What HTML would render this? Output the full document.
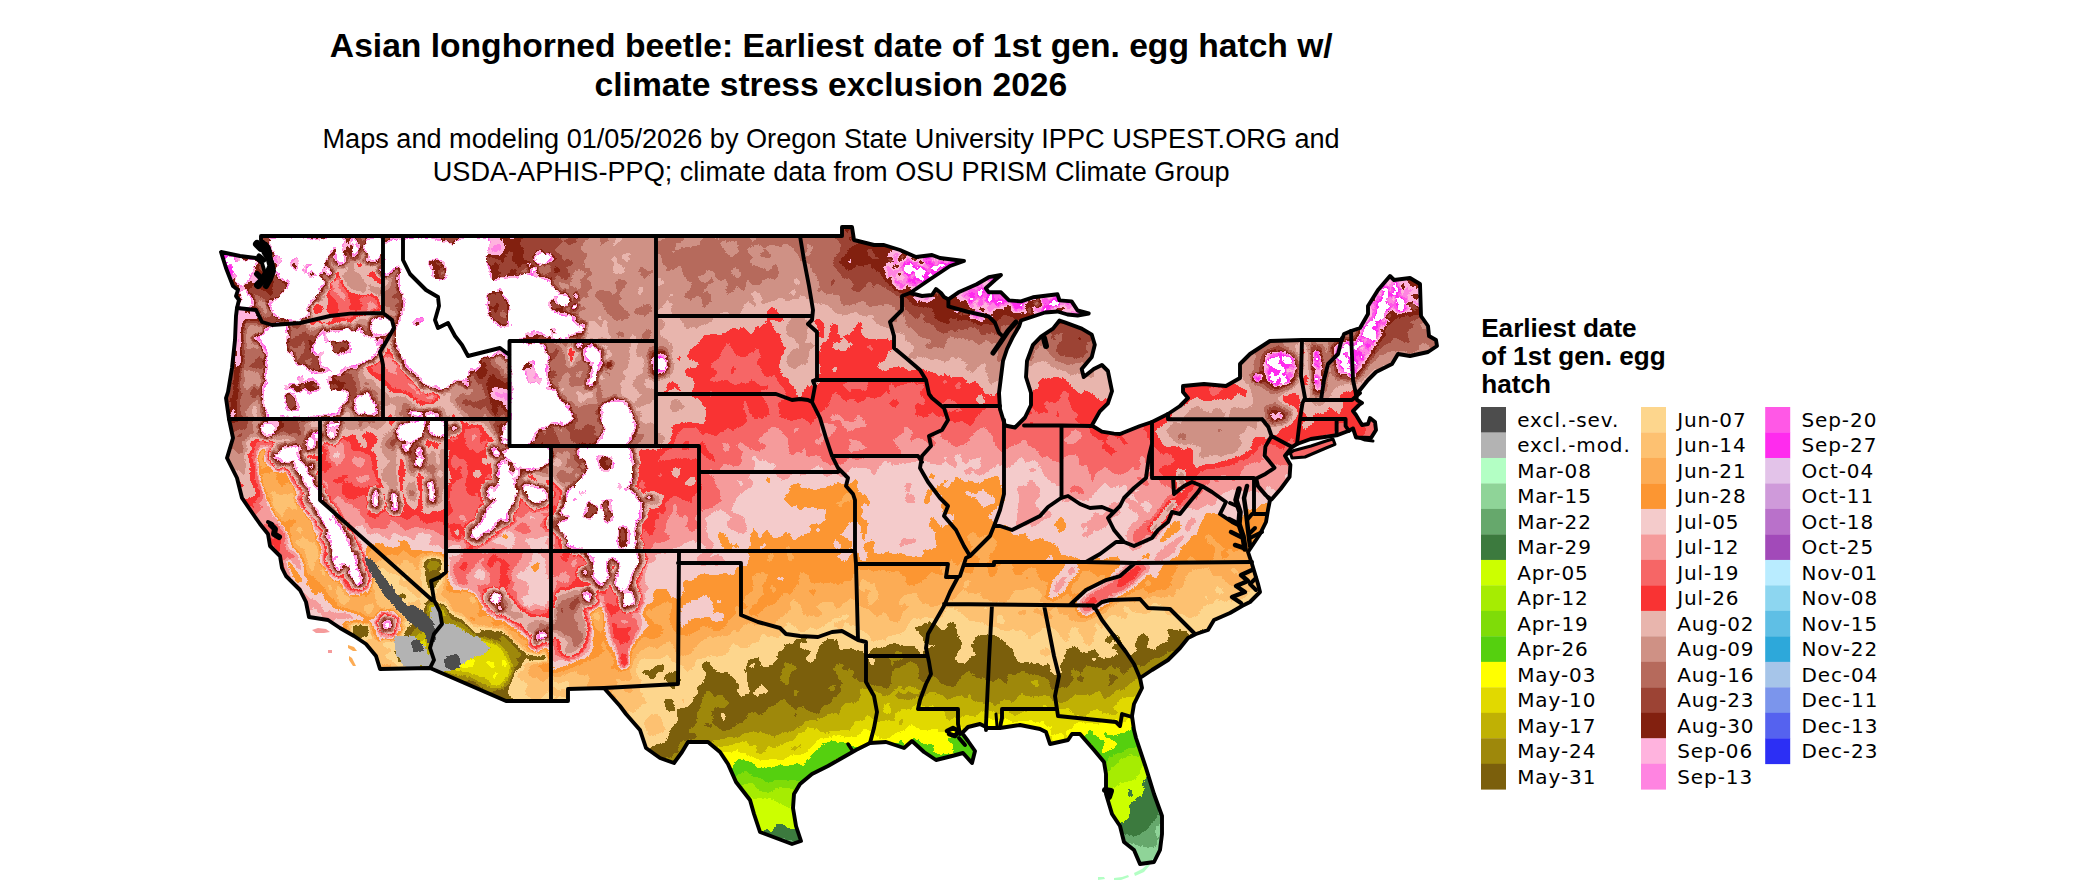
<!DOCTYPE html>
<html><head><meta charset="utf-8"><title>Asian longhorned beetle: Earliest date of 1st gen. egg hatch</title>
<style>
html,body{margin:0;padding:0;background:#fff;}
body{width:2100px;height:892px;overflow:hidden;position:relative;font-family:"Liberation Sans",sans-serif;}
svg{position:absolute;left:0;top:0;}
.t{font-family:"Liberation Sans",sans-serif;font-weight:bold;font-size:33.62px;fill:#000;text-anchor:middle;}
.s{font-family:"Liberation Sans",sans-serif;font-size:27.11px;fill:#000;text-anchor:middle;}
.lt{font-family:"Liberation Sans",sans-serif;font-weight:bold;font-size:26.15px;fill:#000;}
.lg text{font-family:"DejaVu Sans",sans-serif;font-size:20.0px;letter-spacing:0.92px;fill:#000;}
.b path{fill:none;stroke:#000;stroke-linejoin:round;stroke-linecap:round;}
</style></head><body>
<svg width="2100" height="892" viewBox="0 0 2100 892">
<defs><filter id="rough" x="0" y="0" width="100%" height="100%" filterUnits="userSpaceOnUse" color-interpolation-filters="sRGB"><feTurbulence type="fractalNoise" baseFrequency="0.45" numOctaves="2" seed="3" result="n"/><feDisplacementMap in="SourceGraphic" in2="n" scale="3.2" xChannelSelector="R" yChannelSelector="G"/></filter><clipPath id="us"><path d="M261,236 L842,236 L842,227 L852,227 L854,240 L874,245 L884,245 L900,250 L916,257 L932,255 L940,258 L964,261 L950,266 L932,278 L910,293 L922,296 L932,295 L936,289 L941,293 L944,297 L948.4,299.4 L958.5,292.3 L976.7,284.2 L988.8,277.2 L1001,275 L995,280 L985.8,288.3 L988.8,292.3 L1001,292.3 L1009,300.4 L1021,301.4 L1033,297.3 L1057.5,294.3 L1059.5,300.4 L1071.6,301.4 L1077.6,310.5 L1088.7,313.5 L1077.6,315.5 L1067.5,314.5 L1057.5,311.5 L1045,312.5 L1033,316.5 L1021,320.5 L1019,326.6 L1013,336.7 L1007,349 L1003,361 L1001,377 L999,393 L1000,409 L1005,425.5 L1015,427.5 L1025,417.5 L1031,405 L1031,393 L1026,377 L1027,361 L1033,344.8 L1041,336.7 L1053,328.6 L1059.5,320.5 L1065.5,322.6 L1081.7,328.6 L1091.8,334.7 L1094.8,344.8 L1091.8,356.9 L1081.7,369 L1083.7,377 L1093.8,369 L1101.9,365 L1107.9,371 L1112,391.2 L1107.9,403.3 L1099.8,411.4 L1091.8,425.5 L1101.9,431.6 L1114,433.6 L1120,434 L1140,426 L1152,422 L1168,414 L1180,406 L1188,398 L1183,392 L1183,386 L1204,384 L1226,386 L1240,378 L1240,364 L1250,354 L1270,341 L1302,340 L1342,340 L1344,334 L1351,331 L1360,328 L1368,314 L1368,306 L1378,290 L1390,276 L1394,280 L1410,278 L1420,284 L1421,316 L1428,326 L1429,336 L1436,340 L1437,346 L1428,352 L1410,356 L1398,354 L1392,364 L1376,372 L1368,380 L1360,390 L1356,394 L1357,400 L1362,403 L1359,405 L1356,408 L1353,411 L1356,415 L1362,425 L1368,424 L1370,418 L1375,422 L1376,430 L1371,438 L1356,437.5 L1353,428.4 L1347,431.5 L1336.6,435.3 L1310.8,439 L1297,444 L1292,447 L1285,455.7 L1290.4,464.8 L1289.6,476.9 L1280.6,489 L1271.5,499.6 L1265.4,495 L1257.8,486 L1256.3,479 L1258,486 L1270,500 L1268,510 L1266,522 L1260,534 L1252,546 L1248,552 L1252,564 L1258,584 L1260,592 L1250,602 L1242,606 L1230,613 L1214,620 L1208,630 L1196,634 L1188,638 L1180,648 L1168,660 L1152,670 L1140,678 L1142,688 L1134,704 L1132,716 L1134,730 L1136,738 L1146,768 L1154,794 L1162,816 L1162,834 L1160,850 L1154,862 L1140,864 L1134,850 L1124,842 L1120,826 L1112,814 L1106,794 L1106,774 L1104,762 L1094,750 L1080,734 L1072,734 L1068,740 L1050,744 L1046,732 L1040,729 L1020,725 L1000,728 L988,728 L980,724 L968,727 L962,733 L968,741 L975,751 L972,763 L963,753 L952,756 L936,760 L924,752 L912,741 L904,748 L886,742 L870,743 L856,750 L842,758 L828,766 L812,774 L800,784 L794,794 L793,808 L796,826 L801,841 L792,844 L776,838 L760,832 L754,814 L750,800 L736,782 L728,764 L720,752 L708,742 L688,742 L682,752 L674,763 L660,758 L646,748 L640,730 L626,714 L620,706 L604,688 L568,689 L568,701 L506,701 L430,668 L380,669 L376,656 L366,644 L354,636 L340,628 L328,620 L309,617 L306,602 L300,590 L286,576 L282,568 L280,556 L270,546 L268,534 L260,524 L253,514 L242,498 L237,478 L227,458 L233,438 L229,419 L226,398 L228,392 L232,368 L235,340 L236,316 L237,308 L239,300 L236,296 L238,290 L233,286 L226,268 L221,252 L240,256 L256,258 L262,263 L267,280 L272,270 L270,255 L266,245 L261,240Z M1290,452 L1294,450.5 L1311,446 L1326,441 L1333,439 L1335,444.3 L1326,448 L1305,457 L1292,458Z"/></clipPath></defs>
<text class="t" x="831.3" y="57.2">Asian longhorned beetle: Earliest date of 1st gen. egg hatch w/</text>
<text class="t" x="830.9" y="95.8">climate stress exclusion 2026</text>
<text class="s" x="831.1" y="147.7">Maps and modeling 01/05/2026 by Oregon State University IPPC USPEST.ORG and</text>
<text class="s" x="831.2" y="181">USDA-APHIS-PPQ; climate data from OSU PRISM Climate Group</text>
<g clip-path="url(#us)"><g filter="url(#rough)" shape-rendering="crispEdges">
<rect x="200" y="215" width="1260" height="677" fill="#b3ffc4"/>
<path fill="#8fd498" d="M213 221l1236 0 0 666-3 2-54 0 1-5 2-1 4 1 1-1-1-2-2-2-4 1-10-3-3 2-3 4 0 4 1 2-21 0 1-4-2-6 2-4-1-4-2-1-4-1-2-2-6 3-12 0-4-3-4-1-6 2-4-1-2 1-4 5 1 2 9 3 6 5 1 4 4 2-116 0 1-10 4-8-2-6 1-8-2-4-5-3-14-2-6-5-4 0-4-5-4-2-2 1-4 6-6 2-2 4-1 2 1 6-6 6 3 8 3 0 4-2 4 4 2-1 4-8 8-4 4 0 8 6 4 0 2 1 0 2-1 2-10 8-2 4 1 3 6-1 5 4-25 0 0-2 3-4 0-8 3-4-2 0-6 3-4 0-4 11 0 4-956 0 0-668zM1407 843l-2 4 0 2 2 2 2 0 3-8-3-2zM1118 847l1 6-1 4 1 1 2 0 3-1 1-2-3-4 2-4-3-2zM1247 861l2 7 2-1 3-4-1-2-2-1zM1285 863l-4 14 2 2 4 1 6 1 4 3 8-2 1-7-1-1-2-1-12 1-2-3 0-4-2-4zM1124 869l-2 10 1 2 2 1 2-1 4-4 4-1 3-5-1-2-2-1-8-1-2 1zM1219 871l-1 2 0 6 3 3 3-1 5-6-4-5-2-1zM1099 877l-2 2-1 0 3 1 1-1 0-2zM1147 881l-1 2 2 2 5 1 1-1 1-2-2-2-4-1zM1329 873l2 0 2 2 0 4-4 0-1 2-3 1-1-1 1-2 4-2z"/>
<path fill="#66a86c" d="M213 221l1236 0 0 579-5 3-3 4-4 1-2 0-2-3-2-1-12 2-4 0-12 6-4 0-6-4-4 1-3 4-1 12 2 6 9 4 1 2-2 4-4 4 0 2 2 4-2 2-4-1-4 1-3-4-1-2 1-2 6-6-3-4-3-2-2-4-5-1-6 3-2-1 0-3 2-2-1-2 3-1 2-2 0-3-10-10-2 0-4 0-6 4-4 1-1 3 1 4-2 8-2 2-2-5-4 3-11 0 0 2 7 5 4-4 2-1 3 2-1 2-2 2-4 1-4 5-3 2-1 8-7 4-9 6-8 2-2 0-2-2 0-4-4-2-8-1-8 1-4-2-1 0 0 2-1 2-2 1-8-4-14 0-10-2-2-1-1-2 9-7 2-3 2-1 6 3 1-2 2-6 3-2 4 1 8 2 6-2 4 0 2 3 0 4 2 0 1-4 9-11 4 0 4 3 6-2 2-2 0-8 3-4 0-2-3-1-8 1-12-2-26 5-4 3-6 0-2 3-6 3-2 4-6-2-4 2-2 2 1 4-2 2-13 1-2-2-4-2-2 2-2 4-8 1-2 0-4-8-6 0-6-4-12 3-4-5-4 2-4-1-3 3-1 6 3 6-1 5-2 2-6 2-20-5-8-4-10 4-12 3-4 4-2 1-6-1-4 1-6-3-4-2-8 3-4-2-10 0-4 2-3 4 1 2 6 4 6-1 4 1 6-2 12 5 10 1 6 1 10-1 8 4 2 4-2 3-2-3-2-1-6 0-6-1-8 6-11 14-867 0 0-668zM1324 813l1 1 4-1-2-2zM1185 821l0 3 2-1 1-2-1-1zM905 843l-1 2 1 1 4-1 1-2-3-1zM1023 849l-7 4 13 3 4-1 2-2-1-2-5-3zM1433 811l2-2 4 3 6-2 4 0 0 7-3 2-2 6-2 2-1 2 2 3 2 1 2-4 2 0 0 8-2 0-8-4-1-8-3-3-4 1-3 2 1 10-2 1-8 1-4-5-4 0-3-1-1-2 1-4 2-4 5-3 6 2 2 0 4-3 5-2zM1361 814l4 7-2 1-2 1-2-2zM1351 848l2 1 2 4-2 1-4-5zM1419 852l2 1 2 4 1 6 5 2 8-4 2 2 1 2-1 4 1 12-1 8-13 0-3-5-10-7 0-4 4-9 6-3-2-1-4 2-2-2 0-4zM1381 854l2 1 0 2-5 14-9 3-4-1-2-1-3-7 1-5 8 1 4 1 4 0zM1401 867l2-1 4 0 2 5 0 2-4 2-2 0-3-4zM1111 879l2 0-3 6 4 4-7 0 0-2 3-4zM1251 880l7 1 0 2-3 4-4 2-15 0 3-3 8-3zM1225 887l2 0 3 2-9 0z"/>
<path fill="#3c7a3e" d="M213 221l1236 0 0 576-12 0-4-3-12 0-4 5-3 2-5 1-6 0-2-1-2-4 3-4 0-4-3-6-2-1-4 2-4 5 0 4-2 8-2 0-4-3-2 0-3 1-5 6-2 0-3-4 1-6-8-1-8-4-3 1 0 2 1 4 6 4-2 3-6 1-14-6-3-4 3-8 5-4 0-4 2-6-7 0-10 4-6-2-6 1-12-2-4 1-4-1-4 2-5 5-1 2 0 8-2 2-6 1-4 3-6-3-6 3-5-4 0-4-7 0-4-3-10 5-4 3-6 1-2 1-6 9-3 2 1 4-2 1-4 1-4-1-4 1-8-2-12 8-4-2-2-2-2-8-4 3-6 0-2 7-8 10-4 4-10 6-4-2-6-1-22 3-8-2-6 2-2 3-4 0-4-1-2-4-4-2-2 0-8 5-12-6-3 1-3 6-4 4-6 1-7-3-3-5-2-2-4-1-9 6-5-2-2 0-2 2-2 1-4-2-4 2-4-11-4-2-4 2-6 11-2 0-4-5-2 0-4 6-2 1-4-3-4 0-2-8-4 0-2-2-1 2 0 4-9 5-2 0-2-2-6-1-2-1-6 1-4-1-1-1 0-4-2-2-5-1-3 1-1 2 2 8-1 2-3 5-3 1-1 2 0 2 2 1 22-5 18 3 10-3 4 2 14 1 12-3 2 0 1-4 3-2 3 0 2 2-1 2-6 2-2 2 3 2 11 3 8-2 14 6 30 2 10 5 2 2 4 1 3 5 1 4-4 12-37 0-1-4-6 0-3-2 1-4-10 5-4 5-73 0-3-3-4 1-6-4-2 6-20 0-2-3-5-5-2-4-3-2-6 1-3 5-5 3-5 5-89 0-2-1-1 1-557 0 0-668zM1171 795l-1 2 1 8 2 1 12-5 7 4 1 3 6 2 2 0 6-5 0-4-2-2-8 1-6-3-8 2-8-5zM962 819l0 2 1 1 2 0 2-1-2-2zM861 831l0 2 2 6 1 6 3 6 0 4 3 4 3 9 2-3 0-2-3-4 1-2 0-6 5-6 0-2-12-12-3-1zM781 839l-5 6 1 6 3 4 0 4 1 2 7 2 4 6 1 4-2 4 6 0 4 2 3 0 7-8-1-8 1-4 0-2-2-1-6 5-2 3-4 2-6-7 2-5 4 0 4-3 4 0-3-2 0-2 7-4-2-2-2-1-4 3-4 0-6-3zM831 851l-4 4-1 4 2 4 3 4-1 12 1 5 2 2 2 0 4-3 6-14-7-10 0-4zM906 867l0 2 5 3 1-1 0-2-1-2-4-2zM782 879l-1 2 2 1 4-1 1-2-3-1zM1311 783l2 2-2 4-1-4zM1239 809l2 2-2 1-2-1zM1263 838l4 2 1 1-1 2-2 0-2-1zM1305 848l2 1 1 2-1 1-3-1zM1067 864l6 1 2 2 0 4-2 2-4 1-2-1-2-6z"/>
<path fill="#ccff00" d="M213 221l1236 0 0 575-26-7-14-5-4-3-13-4-13-2-12-6-16-4-20 0-4 1-4 3-4 0-1-4 5-4-2-3-5-5-7 1-6 4-4 1-5-4 1-4-1-2-3-2-5-2-11-1-5 1-1 2 1 2 7 2 1 2-2 4 0 4 5 4 0 2-2 10-2 3-10 2-6-1-6-3-2 0-6 4 1-5 3-3 8-3 6 3 6-5 1-4-1-1-4-1-6-4-10 2-4-1-2 1 0 6-2 2-4 1-10-15-2 0-6 2-6 4 2 2 4 0 2 2 0 10-2 4 0 2 4 4-2 1-2-1-6-4-4-4-4 0-2 2 0 2 2 4 8 2 0 4-4 4-7 0-12-4-2-2-1-8 0-4-2-2-3 2-1 5-12 5-8-1-6-9-2-2-6-1-7 9 2 6-1 5-2 2-3 1-9 8 1 8-1 4-4 4-2 1-4 0-4 5-20-1-8-4-6-1-4-6-4 0-6-1-4-4-2 1-6-1-10 4-6-1-6 0-8 3-6-3-12 0-3 2 1 6-2 2-7 4-3 0-12-10-3-6-1-6-2-2-8 0-4 2-4 8-6 5-6-1-10-3-4-5-4-2-2 0-7 10-3 3-4-1-4-5-6-1-4 2-2 7-22 3-2 0-7-6 0-4 4-4 0-2-3-4-2 0-4 2-3 8-7 4-4 5-2 0-10-4-6 7-8-3-10 11-12-5-12-2-4-4-6 0-3 3-1 4-2 1-4-3-4 2 0 4 4 4 1 6 4 8-2 6-3 2-4 1-4 4-4 0-8-3-4-3-8 0-6-1-1 2 2 4 0 4-6 8 0 6-3 2-4-5-6 0-4-3-6 2-7-2 1-6-2-1-2-5 2-4 3 2 1 2-1 4 1 0 2-1 4 2 2-1 4-5 4 2 2-1-2-3-4-1 0-2 2-4-1-4-3-3-5 1-3 2-2 7-4 1-4-1-2 1-1 2-2 6 3 4 0 4-2 2-5 0 1 12-21 0-1-7-2-1-10 8-436 0 0-668zM1255 745l-1 2 5 3 3-1 1-2-3-2zM1129 789l-1 6 1 2 2 0 2-2-2-6zM743 835l-6 4-2 1-4-2-2 1-2 4 1 2-3-1-3 1-1 4 1 2 3 2 3-2 1-5 6-1 6 4 2 0 6-7 6 2 4-3 1-4-3-3-12 0zM755 851l0 4 2 2 3-2 0-4-3-2zM669 867l0 2 2 1 2-1 1-2-3-1zM1229 769l3 2-1 2-2 0-1-2zM1061 815l4 2 1 2 1 5-2 0-4-3-2-4zM909 850l4-1 22 3 34 0 22 4 8-1 6 1 6 5 7 0 12 4-7 3-4 3-8 1-6 3-6 7-4 7-66 0-2-4-6-6-8-14-7-8 0-4zM741 864l1 1-1 4 4 7 10 0 4 2 0 5-4 4 0 2-26 0-3-4 0-2 5-4 2-8 5-2 1-4zM1045 872l8 5 2 4-2 3-12 3-2-1 0-7 2-4zM815 882l6 0 2 3 0 4-17 0 1-2 1-2zM711 887l6 0 2 2-10 0z"/>
<path fill="#a6ec02" d="M213 221l1236 0 0 574-10-3-74-25-26-7-22-9-16-3-17-5-11-1-6 0-12-2-4 1-8 6-8 2-4-2 0-4 0-2 7-4-1-2-4-2-4-1-2 1-2 2 0 4-2 2-2 6-11 14-2 4 0 4-5 5-2 1-4-5-6 0-8-4-2 1-2 4-2 2-10 2-3-2-2-4 0-4-3-4-10 2-8 5-1 1 0 4-5 7-14 3-6 4-14 5-2 3-4 1-2 3-4 2-1 0 0-2 4-6-3-6-2-1-6 2-4 4-3 1-1 4-4 1-3 3-5 1-2-1-2-4-6 0-3 2-1 5-2 0-3-5-3-1-6 1-6 3-5-5-2-6-3-1-2 0-2 5-1 10-1 2-2 1-5-1-2-2-1-2 0-6-4-3-14 4-8-2-14 1-4 2-14 2-6-1-8-4-4 1-6 5-2 1-4 0-4-2-6 4-4-2-10 4-14-6-4-3-8-4-2 0-14 9-4 1-10-3-2-8-2 0-14 10-4-1-12 10-1-1-1-8 4-2 0-2-2-1-2 2 0 3-6 2-2 2 0 2-2-2-14-7-10-2-4 0-4 1-4-1-2 1-2 6 4 5 2 5 1 8-1 2-6 2-4-2-2 0 0 2-2 3-6 2-4-1-2-4 0-2 6 1 3-1 2-2-13-9-4-1-8 6-2 6 6 3 2 4 3 3 0 2-1 2-4 1-6-4-4 1-2 3-6-2-2 0-8 6-8 3-14 16-4 8-18 18-434 0 0-668zM1101 816l2-1 3 4-3 2-2-1zM911 851l22 2 36 0 22 4 10-1 5 3 1 4-14 26-62 0-2-4-20-28-1-4z"/>
<path fill="#7fdc08" d="M213 221l1236 0 0 573-62-21-48-15-24-9-36-8-12-1-12-2-6 0-14-7-8-1-6 3-2 5-4 3 0 4-4 7-6 8-2 1 0-4-6-1-10-4-5 1-5 8-4 1-4-3-4-1-4-5-4-1-4 1-4 4-2 0-4-1-6 0-6-1-10 4-12 13-8-4-2 0-3 3-9 5-8-2-2 1-2 0-4 5-4 0-2 1-4 4-12 3-2 1-8-3-8-8-6-3-6 2-6 4-6-1-4 2-4-1-2 2 0 4-6 2-6 4-2-1-12-5-10-2-4 0-8 6-4 0-2 3-3-1-1-1-6-1-4-3-8-1-2 0-4 4-2 1-4-2-10-5-4 0-4 3-14 2-14-2-6-2-4 4-2 0-2-2-10-1-6-5-12 6-8 1-6 3-4-2-10-1-12-2-4 1-8 5-10-2-2-2-4-6-4 0-6 2-6 10-1 6 1 4-2 2 2 6-2 1-3-3 1-4-2-1-2 0-6 2-8 0-2-1-7-6-7-2-2 1 0 10 2 6 8-1 1 2-1 4-4 3-6 2-18 17-12 17-7 11-16 18-433 0 0-668zM999 775l0 3 2 0 1-3-1-1zM911 853l10 0 12 1 22 0 6 1 8 0 22 3 10 0 3 1 1 2-13 28-60 0-2-6-19-26-1-2z"/>
<path fill="#55d00f" d="M213 221l1236 0 0 572-108-35-26-10-36-8-12-1-18-3-27-11-1-7-5-5-3-1-6 6-1 3 1 4-3 4-3 1-6-1-6 2-3 4 0 6-1 2-7-2-5 0-4-2-10 7-5-1-5-4-6 1-6 5-12 2-4 4-10 3-2 1-2 5-2 1-10-5-10 5-8 1-4 3-5-2-3-3-8 3-4-2-1 2 1 1 3 1-1 6-6 0-6 2-6 0-6-8-8-5-14-5-2 0-3 2-1 4-2 2-2 0-6-5-8 1-10-3-3 1-1 4-4 2-1 2 0 2 3 2-1 6-3 2-10-2-3-6-3 0-4 1-4-2-5 5-5 1-6 2-4-5-2 0-4 3-2 5-2 1-6-4 1-7-2-6-3-2-6 2-4 13-8 3-2-2 2-4 0-3-2 0-4 2-6 1-8-2 1-8 3-4 6 3 4-3 0-4-1-2-7-2-4 1-4 5-3 8-3 3-6 0-4 3-10 2-6-3-8 0 2 7 0 2-2 1-2-2-2-4-2-1-4 1-4 4-6 2-6-2-18 0-10 3-6-5-7-1-5-4-4-2-14 8-2 6 2 6-2 0-2-2-2 2 1 6-1 4-2 2-8 0-8-6-6-3-10 0-6 1 1 2 7 6 2 4-1 8-4 12-23 30-7 12-18 20-431 0 0-668zM1158 721l0 4 1 1 7 1 1-2-3-4-5-2zM973 766l3 1 0 2-1 2-2 0-2-2 0-2zM913 855l8-1 12 2 22-1 6 1 14 1 14 4 10-2 4 2 0 2-5 8-8 18-56 0-2-8-7-7-12-17z"/>
<path fill="#ffff00" d="M213 221l1236 0 0 571-110-36-24-9-36-8-12-1-16-3-20-8-3-4 5-18-4-11-4-4-2-1-6 10-6 1-6 0-6 5 0 2 4 4 0 2-8 2 0 4-2 2-4 1-1-1-1-3-5 7-3 2-2 0-3-4 0-10-3-4-2 0-8 3-10 2-4 5-6-3-2 1-4 9-6 4-10 5-10 0-4-3-1 1 1 4 2 2 2-1 8 5 0 2-2 1-2 3-10 4-1-2 3-10-6-2-8-9-2 0-3 5-4 2-1 2 2 3 6 1 4 4-1 4-3 2-14 0-4 2-10-4-2 0-2 2-4 0-6 2-4 0-6-2-2-4-6-2-4 4 1 4-1 1-16-5-10 4-4-3-6 1-5-4-7-3-5 3 0-4 2-6-1-2-4-3-8-2-13 7 1 4 2 0 2 2 0 8 2 1 1 3-1 2-2 0-2-5-16 0-1-5 0-4-3-1-6 1-10-7-2 1 1 6-1 4-4 2-4-2-1-6-3-2-8 2-12 5-10-2-4-2-3 3-3 1-10-2-2-3-18-2-10 4-9 10-1 3-6 4-1 3-1 1-6-3-4 2-8 1-4-1-8 2-16 0-6-5-12-3-3 2-4 8-8 4-1 2-12 1-1 1-2 8-3 5-6 0-12 0-6-4-10-5-12-2-8-3-4 0 1 3 7 3 9 7 15 7 12 8 2 5-1 6-4 10-6 10-16 22-9 14-13 14-3 4-430 0 0-668zM430 691l0 10 3 2 4 0 6-4 0-2-4-4-6-2zM613 761l0 2 2 2 8 3 8 5 10 3 4-1-1-2-5-7-4-1-8 0-2 0-4-4-2-1zM835 759l4-1 3 1 2 2-1 4-2 1-7-1-1-2 0-2zM1043 760l2 3-2 4-2-2-1-2zM955 857l6 1 16 1 5 2 1 2-6 8-4 2-8 0-10-1-4 2-2 0-6-6-2-1-4 0 2 6-1 2-3 0-8-4-7-12 3-1 18 2zM949 876l2 1 4 4 1 8-18 0-1-4 2-4 4-3z"/>
<path fill="#e1d900" d="M213 221l1236 0 0 571-110-37-24-9-36-8-12-1-16-4-18-7-2-3 1-4 5-10 3-10 3-4 8-18 0-7-2-1-4-1-2 0-10 7-10 0-6 2-8 10-15 6 0 4-5 1-8 5-4 0-6-2-10 6-6 0-4-2-12 4-4 5-7 5-3 3-4 0-6-3-18 5-16-2-4 0-4 6-7 3 1 8 0 1-2 1-1-2 0-4-3-2-4 0-4 2-2 0 0-8-2-1-2 1-2-4-2-2-8 2-4-3-6 1-4-1-6 3-10-5-6 2-6 0-6-3-2 0-1 2 1 6 3 4 1 8 6 1 4 3 0 2-4 2-4-1-4-3 0-4-6-7-8-1-4-3-6 2-4-3-6 1-6 6-4 0-10-3-4 1-8 0-8-5-4 1-6 5-6 1-8 6-4 1-6 0-6-7-4-2-4-1-3 2-5 6-10 0-8-2-12 3-8 0-7 9-7 6-6 2-8 0-8 5-12-1-10 2-10-5-10-3-4-3-6 2-14 0-2 3 1 6-5 7-4 2-4-2-2 0-2 3-1 2 4 6 1 4-2 2-4 2-40-15-16-11-13 0-5-4-6-2-6 0-8-4-6 1-3 1 0 2 6 4 27 14 28 11 8 6 16 8 11 7 1 2-1 10-9 18-17 22-9 15-12 12-3 5-429 0 0-668zM450 655l-6 8 3 3 18 2 6-1 4-4-1-4-9-1-2-5-4 2-6-2zM487 661l-1 2 4 4 3 1 2-2-1-3-1-1zM502 661l-1 2 1 2 2 2 2 0 1-2 0-2-2-3zM494 673l-1 4 0 1 2 1 2-6-2-1zM410 683l5 14 4 4-2 4 1 2 1 2 6 4 6-1 4 2 7-9 5-3 3-3-1-3-10-6-22-8-6 0zM422 719l-1 2 1 2-1 2-4 1-1 1 0 2 5 8 2 0 4-3 3-7-5-8zM1049 736l2 0 1 3 0 2-3 1-2-1-1-2z"/>
<path fill="#c0b104" d="M213 221l1236 0 0 570-108-36-26-10-36-8-12-1-14-3-20-8-1-2 1-3 5-9 3-8 13-24 2-8 3-6 2-10-2-3-4-1-4 3-4-2-2 0-7 3-1 2 0 4-1 2-9 7-8 1-8 1-4 7-12 4-8 0-2-1-3-3-1-8-4-3-4 1-1 8 1 4-1 2-7 3-1 5-3 3-4 2-8-4-6 2-4 0-4 2-12 2-10 9 0 2 4 2 1 2-3 2-12-2-6-4-6 2-4 5-8 1-6-3-4-6-14 2-4 0-6-5-8 5-14 2-8 4-8-5-2 0-6 3-12-4-6 2-6 5-8-2-18 5-2-1-2-2 0-4-2-2-7-2-3-4-6 2-10-3-2 1-4 5-8-1-6 3-2 3 0 4-2 2-4-1-12 2-10-7-4 6-4-1-4 1-3 6-3 3-18 1-3 2-3 0-12-5-6 0-4 5-4 0-6 8-6 1-12 6-2 0-4-2-2 1-1 4-5 3-5-1 1-4 0-2-2-2-4 1-2 0-2-5-26 6-10 0-2 2-2 8-2 1-8-1-5 4-4 6 1 8-2 3-8-1-6-3-16-6-7-5-9-5-12-1-22-12-2-1-6 0-4-4-10 0-7 5 0 2 5 4 44 24 28 11 6 5 13 6 9 7 6 3 1 4-1 6-10 18-17 20-3 8-6 9-10 8-5 9-427 0 0-668zM455 631l-2 2 1 6-2 6-11 16 0 6 4 2 22 3 10 3 4 2 4 0 5 6 5 2 4 0 3-2 3-3 4-8 1-5-1-4-8-15-4-3-6-1-1-1-7-2-10 0-6-2-6 2-2-2 2-4 0-2-2-2zM422 641l-5 4-3 6 3 6 4 2 4 0 2-2 0-4-2-14zM407 679l4 16 3 14-2 16 3 14-2 8 0 14 4-6 5-12 11-14 3-8 9-14 6-6 1-4 0-2-3-2-24-10-16-5zM886 703l-2 2-1 6 2 3 6-1 0-4-2-6zM557 729l-4 2-4-2-2 0-2 2 2 2 14 8 4 1 3-1 1-4-4-6-4-2zM491 647l-1 2-3 1 0-2zM901 719l2 2 0 2-2 2-2 0-1-2zM801 743l0 5-2-1-5 4-4-2 5-3 2 1z"/>
<path fill="#9e880b" d="M213 221l1236 0 0 569-105-35-29-11-38-10-10 0-8-2-7-1-17-7-1-3 6-10 3-8 13-24 11-32 0-4-6-6 1-4-1-3-8 3 0 2-2 2-5 2-2 2 0 4-3 2-4-2 1-4-3-2-2 1-4 4-6 0-2 1-1 2 0 12-5 2-6 4-9 8-9 2-4-2-3-8 1-8-2-2-3 0-5 3-4-1-5 4-3 8-6 2-4 4-6 2-4 0-6 2-9 6-5 6-4-2-2 1-8 7-4 2-3-2-1-6-2 0-8 4-16 0-8 6-6 2-8-2-4-5-2-1-16 2-10-3-2 1-4 6-2 1-8-3-10 7-4-4-8 2-2-2-8-1-2-2 0-3-2-3-1 4-1 1-2 0-4-3-12 4-4-1-2-3-6-1-4-3-8 4-2 2-6 0-8 3-11-1-2-2-1-2 2-2 2-1 4 2 2 0 2-2 2-1 4 3 4 0 3-3-1-1-6-3-4-1-3 1-3 3-2-1 1-2-1-2-2 1-6 6-4 3-6 1-2-1-2-3-6-1-6-2-6 0-1 2 0 6-2 4-3 2-8 0-4 2-3 6-1 4-4-2-4 0-10 6-16 2-2 4-2 1-4 1-4 4-10 1-8 5-14-5-10 0-6 1-8 5-8-1-10 3-4 0-16 7-4-2-4 1-2 1-8 14 0 4 3 6-1 2-2 1-12-7-12-3-4-3-10-5-13-3-31-17-14-3-6 3-19-13-9 0-10 2-3-6-7-4-6-1-4-3-6 2 0 2 6 4 4 0 2 2 2 4 8 6 24 12 12 4 16 10 16 8 20 11 29 11 7 8 4 0 8 4 3 2 5 8 6 2 0 4-2 6-4 6-4 8-4 4-2 0-2-1-3-3-2-4-7-2-4-5-3 1-1 3 0 3 2 2 5 0 4 8-1 4-6 1-2 1 0 2 6 3 1 5-3 5-6 4-6-2-5 13 0 6-2 6-425 0 0-668zM430 605l-1 2 1 10-1 4 0 8-2 2-10 4-8 9 1 7 4 8 7 4 9 2 5 4 6 2 32 7 6 4 14 6 6 0 6-4 6-11 2-8-6-12-4-6-4-3-10-4-12-2-6-2-4-2-3-5-3-2-10-3-1 1-2 8-1 6-7-8 2-12 3-4-1-4-1-1-10-5zM405 677l0 4 5 14 2 14-2 12 2 32-2 10 1 2 2 1 2-2 5-9 4-10 11-16 3-6 8-14 6-6 3-8-4-3-32-13-12-3zM1031 681l2 4 2 2 2 0 2-2 0-3-2-2zM473 807l2 2 2-2-2-1zM477 813l-1 2 3 2 1-2 0-2-1-1zM673 817l-4 2-1 2 7 3 4-2 0-3-2-3zM646 855l-1 2 0 2 5-2 0-2-1-1zM433 649l2 0 6 4-1 2-3 1-4 4-2-7 0-2z"/>
<path fill="#7b5f0c" d="M213 221l1236 0 0 567-7-1-101-34-26-11-7-1-3-2-5 0-13-5-10-9-14-8-4-8-2 0 0 2 1 12-3 4-2 1-6-1-7-4-2-2 3 0 1-2 0-4 2-4 1-7 3-5 4-10 6-8 1-7 3-5 5-16 4-6 5-14 11-18 2-8 2-4-2-2-6 0-4 3-8-2-1 1-3 4-2 6-6 1-5 3-1 2 0 6-2 3-6 1-6-6-4 0-4 6-8 2-7 8-3 4-2 2-4-1-5 1 0 2 3 2 0 2 0 4-1 2-4 0-3-2-4-8-2-2-8-1-2 1-2 4-8 2-12 7-4 0-6 3-4 4-2 1-6-1-6 2-8 8-3-4-1-4-4 2-4-3-2 0-4 4-4-2-14-2-2 1-4 6-8-5-2 2 0 3 3 6-4 4-2 4-7 0-6 2-4 0-3-10-15-5-4 0-6-3-8 4-6-1-2 1 0 2 1 4-1 3-3-1-3-4-2-1-6 4-12-4-4 0-8-6-2 0-6 5-5 8-3 2-12-3-4-6-2-1-6 0-3 4-3 1-4-3 0-10-2-4-6-4-2 1-10 6-4 0-4 7 0 6-1 6-3 2-6-3-6 0-8-3-8-1-2-3-4-1-1-1 2-4 0-2-5-2-4 2-2-1 0-6-6 0-5 5 5 4 2 6 3 4-2 4 1 4-4 5-4 2-2 5-9 4-1 2-1 4-3 1-6-2-6-3-2-2-4 0-4 3-2-1-2-3-4-3-2-4-2 0-4 2-4 4-6 3-8 7-3 0-3-3-6 1-2 4-6 6-4 1-4 4-8 3-2 0-10-7-2 4-8-3 4-2 4 1 1-1 1-4-1-6 0-2 3-3 2 0 8 0 4-5-8-8-6 1-6-5-2 0-2 2-3 6-1 8-2 2-2 4-1 12-8 6 1 2 4 0 2 0 2 4-2 2-13 2-3 4-1 6-2 2-5 4-10 2-4 0-28-14-5 0-3-3-10-6-9-3-9-1-10-6-10 0-12-6-10-1-4 0-10-5-8-8-8-2-6 0-6-3-5 0-5-4-9-2-2-2 1-1 14-3 6-6 6-16 4-4-2-3-2-1 2 0 4-4-2-4-16-15-2 0-1 1 1 4-2 0-14-4-8-1-4-2-11-11-11-4-6-12-14-5-2 1-2 2 0 12-3 8-9 4-11 12-2 10 6 8 11 7 14 6 16 5 6 3 6 0 4 2 4-2 4 1 13 10-2 2-3 1-8-2-6 2-2 1 0 4 1 2 5 4 6 0 6 3 14 2 6 8 6 0 6 2 32 18 26 11 16 11 14 5 22 13 8 4 13 3 7 3 2 3 1 4-4 10-1 12-5 8-1 18-6 12-1 14-4 10 0 10-423 0 0-668zM431 561l-3 2-1 2 2 6 6-1 4-3 1-2-1-3-4-1zM896 651l-3 3-4 0-1 1 0 2 3 4 0 4 2 1 1-3-1-2 8-1 4-3 0-2-4-3zM784 663l0 4-3 6-1 6 3 4 4 2 2-2 1-8 3-4 4-2 0-2-4-2-8-3zM404 675l-1 4 5 16 2 12-1 16 1 30-1 12 2 3 4 1 2 0 1-2 4-10 3-10 8-12 6-7 2-2 5-1 2-2-4-2 0-4 17-24-2-4-2-2-6 2-4-1-28-11-12-3zM833 685l-4 2-1 2 3 2 3 0 1-2 0-4zM794 691l1 5 2 0 1-3-1-4-2 0zM492 723l-2 10 1 1 3 1 1-1 0-5 2-4 0-2-2-1zM1302 727l-1 2 1 2 3 1 1-1 1-2-1-2zM496 737l-3 3-6 2-5 9 0 2 1 1 4-3 12 1 1-1 1-2 1-10-3-3-2-1zM423 769l-4 2-4 8 0 3 15-5-1-4-2-3-2-1zM487 771l-4 1-2 3-4 0-1 2-1 6-1 2-7 1-6-1-8 6-2 4 1 8 6 4 1 8 2 5 2 2 4-4 2-1 2 2 0 2-2 2-3 0-1 1-4-1-2 3 0 5 2 4 2 2 4-2 1-8 1-1 4 0 8 2 6-5 1-10 6-8 0-6-3-7-2 1-2 4-2 1-4 0-2-3 4-7 6 0 2-1 1-6-4-2 0-2 3-4 0-2-2-1zM608 801l1 5 2 1 2 0 2-4-4-3zM422 811l-9 10-1 2 1 2 4 3 5-1 1-2 1-6 3-4-2-4-2-1zM488 833l-3 2-6 2 0 12-4 0-4 2-4 6-4 4-1 2 2 2 5 2 17-16 5-14-1-4-1-1zM568 837l1 2 2 0 1-2-3-2zM417 841l-1 6-3 4 0 6 1 2 7 2 2-1 4-4 5 1 1-4 4-2-6-6-4 1-8-5zM410 873l-1 2 2 4 3 0 2-4 0-2-3-1zM1081 675l3 2-1 5-4-1-3-2zM1109 674l4 0 5 3-7 9-2-1 1-4zM795 713l2 2-2 2-2-2z"/>
<path fill="#fdd68d" d="M213 221l1236 0 0 564-8 0-102-34-18-8-5-4 0-2 3-2 2-4-9-8 3-4-2-1-20 0-8-2-5-3 2-6 0-4-1-2-6-4-2-3-1-5 0-14-5-2-1-2-1-6 4-10 4-6 6-16 6-11 5-7 2-6 5-6 0-4-4-5-12 2-6-4-6 0-8 9-8 0-6 5-8 1-4 6 2 2-3 2-3 1-6-1-12 15-2 1-10-3-6 4-4-1-2 2-1-2-3-2-16-2-1 2 1 4-2 7-9 3-2 4-1 1-2 0-6-3 2-8-6-7-6 7-2 6 2 4-1 2-5 4-2 0-2-2-1-4-5-6-1-6-7-4-8 6-1 2 2 2 3 1 2-1 2-3 3 1 1 2-5 4 0 2 3 0 2 4-1 2-5 3-8 0-4-1-2-6-4-2-6 4-4 0-3-2-3-4-4-1-6 4-2 3-2 8-3 4 2 8-7 2-5-4 0-6-1-1-6 2-5-3-5 1-6-2-6 1-4-2-3-6-1-6-4-2-7-8-9-4-12 0-6 2-3 10 4 8-5 2-3 4-3 2-8-1-2-3 0-1 6-11 1-4-2-4-3-5-1-9-3-3-2 0-3 1-1 6-2 1-4 0-4-5-6-3-6 1-4 3-6 1 1 4 5 4 4 9 9 1-1 2-6 1-4 5-2 1-5-5 0-2-3-1-8 0-10-3-4 1-6 3-10 1-5 3-1 5 6 3 0 2-2 4-2 0-3-8-7-6-6-1-4-2-10 2-2-1-1-8-7-3-6 2-6 7-3 10-3 5-4 1-4-4 1-2 4-4 0-2-9-3-1-3 1-2 4 0 2-2 0-2-2-1-8 1-6 5-2 0-2 0-2 1-1 4-6 4-1 6-8 8-5 0-3-2-2-7-2 0-8 1-3 8-2 2 0 2 3 2 0 10 3 8-3 3-6 3-4-6 2-6-6-8-6-5-6 1-5-2-7-9-2-1-4 2-1 2 0 4 4 4 0 2-3 8-6 4 1 6-4 4-1 4-5 6-10 2-1 2 1 8-1 4-7 6-2 10-5 4-6 1-8 5-18-10-14-5-8-4-14-1-8-6-14-1-8-5-16-3-18-12-14-2-6-2-3-5 1-6 7-16 1-2 4-1 2-6 2-3 2 0 4 1 12 0 2-1 0-2-2-2-4 1-12-1-4-3-19-19-3-2-18-1-2 0 0 3-5 0-3-2-10-11-8-3-4-3-6-9-14-5-4 1-2 2-1 10-2 4-15 11-5 11-3 4-4 10 4 9 12 2 4 2 4 5 6 2 3 2-3 1-12-2-8-2-2 1-2 4 8 28-1 18 1 30-2 10 1 4 3 6-2 12 3 6-1 2-4 2 0 8-5 10 0 8-5 5-9 25 1 8-2 10 4 6 4 0 7 4 3 4 5 2-1 2-2 0-4-1-8-1-4 1-6-3-4 2-1 4-29 0-2-4-6-2-4 2-2 4-123 0-3-3 0-665zM428 559l-3 2-1 2 1 10 2 12 4 5 2 0 8-11-1-6 2-10-1-3-2-1-6-1zM403 593l-5 2 1 3 2 1 5-2 0-2zM1305 607l0 4 2 0-2-4zM1369 619l-1 2 3 2 0-2zM356 625l-3 2 0 6 1 4 3 1 10-1 2-4-1-6-1-1zM332 649l-1 2 4 6 6 2 3-2-3-2-2-5-2-2-2-1zM657 665l-6 5-8 0-1 3 5 2 4 4 2 0 3-2 2-4 5-2 1-2 0-2-2-2zM668 673l-3 2-1 4 5 4 2 5 2 1 2-2 2-4 4-2-2-8-2-2zM1311 677l0 2 3 4-1 8 9 6 2 4 3 1 1-1 1-8-2-6-12-6 0-4-2-1zM310 683l-2 2-1 2 4 0 2-2 0-2zM667 699l-3 2 2 8 3 3 4 0 2-3-1-8-3-2zM1356 727l0 2 3 1 2 3 2 0 0-4-4-2-2-1zM1423 769l0 3 3-1-1-2zM1093 658l2 0 1 1-1 2-3 0zM751 664l2-1 2 2-1 2-3 1-1-1zM437 679l2-1 4 1 4 2 0 2-6 0-3-2zM761 684l7 7 0 2-7 1-4 3-2-1-3-3zM463 706l5 5 0 2-7 5-8-1-2-2 2-4 6-1zM721 714l2-1 2 2 0 4-2 2zM471 721l6 0 0 2-3 0zM507 722l4-1 8 4 28 15 24 10 5 3 10 10-5 4 0 1 0-1-4-1-4 1-1 2 1 1 6 1 2-2 2 4 2 0 6-2 2-4 2-1 6 0 4 3 4 5 7 3-1 8 2 3 4-1 2-4 2-1 2 2-2 5-6 1-2 0-4 0-8 7-6-1-4 7-4-1-4 2-3 5-1 6 4 2 1 2 0 4-1 1-6-1-1-6-7-4-1-2 3-9 4-6 4-3 6-1 4-7 0-2-6 1-6 3-8 9-8 1-3 4-5 2-2 2 0 6 2 4-4 1-2 5-4 4-4 12-6 8-2 4 8 15 2 2 2 1 4-4 2 1 2 7 2 2 4-4 7-4 5-1 2 1 2 10-2 4 0 4-1 2-7 4-6-2-1 2-75 0-3-8 2-18 5-9 5-17-2-18 5-16-1-18 4-20-1-4-2-2-2 0 4-1 2-2 2-5 2-12-1-14zM528 873l-5 8 2 3 4-1 0-2 1-6-1-3zM554 875l-11 6-3 2 0 2 3 1 6-1 4 2 2 0 4-5 2-5-4-4zM437 737l2 4 6 3 7 7-1 1-8 0-8 5-6 0-2-2 0-4 6-11 2-3zM473 743l2 2 0 3-2-1-1-2zM455 757l2-2 2 2 0 2-3 0zM449 763l2 6-1 2-7 4-4 5-1-1 1-4 0-2-5-4 1-1 6 0 6-5zM641 786l9 3 2 2 1 2-5 12 1 6-1 4-3 3-4 2-3-1-3-6-5-4-1-2 2-5 6-6 2-5 1-4zM639 805l-1 2 0 2 3 0 1-2-1-2zM623 816l2 0 3 3-1 4 6 1 4 3-4 6 2 3 6 3 1 2-3 6-2 2-6 3-8-2-2 0-3 3-4 6 1 2 6 2 10-1 2 2 1 7-1 3-2 2-2 0-4-1-1 2 4 6 2 6-37 0-6-8 2-8 5-4-1-10 1-2-4-4-5-10 0-2 6-5 4 3 2-2-5-4 3-5 10-4 8 2 4-1 3-2zM626 829l-1 2 1 6 5 0 1-2 0-2-3-2-2-3zM595 855l1 2 3 1 4-1-2-2zM553 821l8 2-4 8-2 1-3-1-1-2 0-4zM433 824l2 1 1 2 9 8-2 2-2 0-12-4 0-4zM451 851l2 2 0 2-4 2-2-2 2-3zM441 869l2-1 4 1 6 4 4 0 4 5 6 1 1 6 0 4-18 0-2-4-5-4-4-2-1-2z"/>
<path fill="#fdc171" d="M213 221l1236 0 0 403-4 1 0 4-6 4 0 2 1 2 3 1 6-5 0 69-6-1-4-4 0-2 3-8-1-2-2-1-4 0-2-1-3-4-3-5-6-2-6 0-8-5-6-2-6 1-2 1 0 6-2 2-2 0-3 4-7 2-1-2 1-8 0-6-6-3-3-5-4-2 0-8 3-4 4-3 10 6 2 0 4-5 2-6-2-4 1-2-3-4-2-5-6-4-3-5-1-4 2-4-2-4 2-4-2-2-12-2-6 2-6-4-14-3-3 1 1 8-1 4-3 0-2-3-2-1-4 2-2-1-8 6-8-4-2-3-2-12-6 0-6-5-8-4-6-4-2 2-1 5-6 8-5 3-6 0-6 3-2 5-4 3-10 2-4-1-4 2-8-3-4 4-10 4-6 10-10 1-4-4-4-1-8 3-3-1-3-2-1-6-9-4-2 0-2 2 0 6-2 2-4 1-12-2-2-1-2-4-4-1-2 1 0 2 5 6-1 3-6 0-6-3-6 1-4 5-2 6-2 2-2-4-2-1-2 0-1 3 3 2 0 2-4 6 1 4-1 2-4 3-2 0-2-2-2-6-4-4-1-5-1-2-4 1-4 3 0 6-2 5-3-1-7-10-6-4-8 1-2 3-8 4-4 4-4-7-4-2-4 1-4-1-6 1-6-1-4-3-6 0-10-5-12-1-6-7-12-7-5 2-3 6-4 4-4 0-10-2-6 2-6-1-4 5-3 6-3 4-16 4-2 3-2 0-6 0-4 2-3-5-5-5-4-2-6 0-1-1 2-2-1-1-4 0-6-4-2 5-2 2-6-1-1-3 1-2 6-3 4 0 4-3 0-2-2-1-8 4-6 0-1 3-3 1-6 5-6 2-6-1-8 4-2 0-6-4-5-5-3-1-2 5-4 3 0 5-2 3-2 0-4-2-4 1-6-3-2 1-2 7-6 1-6 5-6 0-8-5-2 2-1 4-4 6-11 2-4-2-10 4-4 0-4 9-6 4-6-8-8-2-3-5-3-2-6 4-20 0-4 6-1 6 1 4 4 6-1 8 0 2 3 4 4 8-6 2-8 8-2 0-2-2-1 6-3 3-4 0-1-1 0-4-1-2-4-1-2 1 0 2 2 6 4 2 1 2-1 2-2 2-6-4-4-1-6 2-4 0-8-6-12-1-4-3-8-3-4-7-2 0-6 3-6-4 0-1 4-2 4-3 10 3 3-3-1-1-8-2-2 3-2 0 0-2-4-5-2 0-7 5-1 4-4 1-4-3-7-4-1-4 2-4 0-4-8-4-2-2 1-2 1-2 5-4 0-4 3-2 19-2 1-2-1-4-3-2-2 1-4 1-12-4-14-12-8-9-22-3-8 0-10-10-10-4-2-2-3-6-3-3-6-1-3-2-1-4 8-15 1-17-3-5-6-1-6 0-6 2-1 2-1 14 1 12 2 4-5 8-14-12-4-1-2-1 1-8-2-2-11-3-4-4-4 1-2 4-2 8 6 8 7 6 1 6 12 12 2-2 3-6 3-2 6-1 4-3 2 4-2 8-1 2-14 10 2 4-7 14-4 1-10 0-3 1 3 5 4 0 2 1 0 2-2 2-4 2 0 2 10 6 5 6-1 10 9 26-2 18 1 30-1 8 0 12-2 8 1 6-3 8 0 10-4 8-1 6-3 6-6 16-3 10-3 22-4 6-2 4 1 6-22 0 1-4 3-6 8 2 5-2-9-10-6-3-2 0-5 3 0 6-1 2-8 2-6 3-2 7-35 0-1-4 1-6-1-2-8 1-4 3-2 4 2 4-66 0-6-8-2-1 0-82 5-3 1-2-6-1 0-571zM1308 567l-4 2 0 6-2 6 1 1 2 0 2-3 2-10 0-2zM404 575l-1 4 2 3 3-7-1-2zM1216 587l-1 4 4 4 5-2-1-2-6-6zM1325 589l0 3 2 0 2-3-2-2zM1204 597l3 3 1-1-1-3-2 0zM985 607l-1 2 1 1 2-1 0-1zM1409 609l2 2 2 0 0-2zM998 615l-1 4 0 3 4 2 3-1 1-2-2-4-2-2zM1433 615l0 6 2 3 4 1 5-2-7-8zM1397 623l-5 10 6 4 0 2 3 4 2 0-1-8 1-2 4 1 6 4 10 3 4-8-2-2-6 0-16-9zM351 625l0 4 2 10 2 1 10 0 6-1 1-2-2-2 0-4-1-6-12-1zM337 637l-9 12-4 8-9 10-6 10-16 18-2 6 0 3 8 0 4-9 11-6 7-8 8-2 0-6 2-2 0-4 12-1 13-11-6-14-9-5zM1432 645l-6 8 0 4-3 1-4-2-2 1-2 2 0 2 4 3 10 0 1-1-1-6 6 0 3-2-2-8-1-2zM553 681l-1 2 2 4 3 3 10-1 2-2 0-4-2-2-8 2zM360 695l-2 2 1 2 2 0 3-2 0-2zM321 731l-7 2 0 2 0 2 3 3 4-1 2-2 0-4zM265 733l-2 1-1 3 0 2 1 2 2-1 2-3 0-2zM366 747l3 4 2 4 2 1 2-1 1-2-1-2-4-4-2-1zM250 749l-6 8-1 2 2 1 4-1 4-4 1-6-1-2zM261 757l0 4 2 1 2 0 2-3-2-3zM270 767l-7 1-2 3 2 4 6 4 6-6 0-2-2-3zM227 783l-1 2 1 4 8 2 2-2-4-1-5-5zM324 787l5 4 2 0 2-2-6-3zM308 793l-5 2-1 2 1 2 12 4 2-1 1-3-2-4-5-2zM244 801l-3 2 4 2 3-4-1-1zM263 813l-2 4 2 2 10 0 5-2 1-2-4-3-6 4zM306 827l-3 2-2 4 1 8 1 2 3 0 2-2-2-4 4-6 0-4zM253 831l-2 3-2 1-7 2 1 1 4 0 10-5-2-2zM309 845l-1 4-7 3-6 6-4 0-2 1-2 2 0 2 10 4 2-6 2-1 2 1 8 11 4 1 5-2 2-4-2-10 4-4 0-2-5-4-6-3-2-1zM267 855l-3 6 0 2 5 3 4 1 4 6 6 1 2-2 2-3 0-2-2-2-8-1-4-9-4-1zM1325 611l2 0 2 2 3 8 6 6 4 0 2-2-1-3-7-1 1-4 2-2 8 2 4 4 6 1 3 3-6 4-2 4-5 2-7 6-4 8 0 4 5 9 4 0 6-2 4 1 0 3-3 5 0 10 3 5 4-2 4 1 0 2-2 2-6 1-4-7-4-1-4-5-2 0-8 4-2 0-6-5-7-1-2-4-5-4-6 0-5-4 1-4-1-2-5-4-4 1-4 3-1 2 0 6-13-1-1-1 0-4 6-6-1-4 0-4 10-19 2-1 2 0 8 4 6-3 4-2 4-4 4 1zM1308 627l0 4 3 1 1-3-1-2-2-1zM1313 645l2 2 5-2-5-2zM1297 613l2 6-2 3-2-1-2-2zM1043 649l4-1 4 3 2 0 1 2-3 0-4 3-2 0-5-3 0-2zM405 667l6 0 2 2 1 2-3 0-7-2zM1417 684l2 3 0 4 1 4-1 2-4 2-2-2zM1359 697l4 0 1 2 0 8-3 2-4-1-1-3 4-4-2-4zM683 698l2 1 0 2-2 1-1-1zM1299 701l6 0 3 2 0 4-5 4-4 0-4-4 2-5zM1395 701l4-2 2 1 2 3-1 4-1 1-6 0-6 7-4 0-3-4 1-4 6-4zM1411 701l4-2 5 6 0 4 3 2 4-1 4 6 2 1 10-6 6-7 0 50-4 0-2 5 6 1 0 6-4 2-2 0-3-5-5-4-2-4-8-1-6-5-3 2 1 4-1 8 1 8 0 2-2 1-10-3-4-2-9-2-11-4-4-2-2-2 6-4 8 0 4-2-2-6 2-4 2 0 5 4 1 4 2 1 3-3 0-18-1-1-6 2-2-1-1-2 5-12 3-4 2-8 1-2zM1409 725l0 1 2 1 2-1 1-1zM1434 731l-2 2 1 1 3-1 0-2-1-1zM651 714l6 0 4 3 2 6 2 6-2 4-6 1-6 2-3-1-4-12 1-3zM1345 716l2 0 3 5-1 3-4 2-3-1 0-2 0-4zM1367 719l4 2 1 2-3 1-2-1-2-2zM1377 721l2 0 0 2-2 1-2-1zM509 725l4-1 6 3 14 9 5 1 7 6 6 0 19 8 5 4 1 2-1 2-8 4-3 4-2 6 0 6-3 4 1 6-1 6-7 8-7 18-4 3-2-1-4-8-3 2-1 6 3 4 1 6 2 4-5 10-2 16-7 7-8 19-27 0-2-10 2-12 6-24 3-6-2-14 4-10 0-4 2-4-2-18 1-10 9-38-1-8zM535 771l2 2 3-2-1-1-2-1zM503 809l-1 4 1 0 2-1 2-3-2-1zM515 843l-2 2-1 10 1 3 2 1 5-6 0-8-3-2zM1359 750l2 1 1 2-3 2-3-2zM573 782l2 3-2 3-2-3zM605 877l4-2 2 0 2 2-2 4 1 4 0 4-6 0-2-2-2-6z"/>
<path fill="#fcac55" d="M213 221l1236 0 0 399-17-11-9-4-16-4-8-3-8-1-6-4-12-3-18-3-16-6-12-1-11-5-2-2-1-2 8-16 2-8 0-2-2-2-4 1-2 3-4 2-2-2 1-4-3-2-2 0-6 6-1 8-5 5-6 2-4-1-2 1-6-3-6 3-6-2-8 2-6 11-1 6-7 1-6 7-6-2-8-9-8 0-4-8-16 2-6 5-4 12-6 3-2 5-2 2-4-1-8 2-6-2-10 3-6-2-4 6-12-3-12 7-8 7-18 8-16-1 0-6-4 0-6-1-2-7-4 1-4 5 4 4-2 1-7 1-5-5-5-1-1-2 4-3 8 4 1-1 1-4 0-2-5-2-2-2 2-6-1-3-8-5-2 0-8 3-8 0-8 12-14 0-6-3-4 0-2-4-2-2-10 0-6-4 4-2 4-6-2-1-4 1-1 2-1 6-6 6-2 4-12 4-6 3-6 1-4-3-4 0-4-5-2-6-4 0-8 2-5 4-1 4 2 3 4-3 3 4-6 6-1 7-4 2-6-1-4-6-2-2-2 0-6 4-2-1-4-5-6-3-6-2-4-6-4-1-8 4-4 6-4-2-2-5-4 0-9 1-3 4 5 6 0 2-3 2-16-2-2-10-8-6-2 2-1 2 1 6-6 6-4 2-8 8-4 1-8-2-6 1-6-2-5 2-5 7-4-2-2 0-6 6-8 0-6 2-4-3-4 5-4 1-7 8-3 5-8 2-6-1-2-4-2-6-2-3-2 0-2 0-10 7-6-2-6 1-6 4-6 10-1 5-2 4 2 6-1 4-10 0-2-2-2 0 0 6-6 8-2 0-4-4-2-1-8 1-6 2-2-1 0-5 3-6-1-2-2-2-6 0-6-4-7 2-9 4-10-1-6 6-6-4-6 0-3-5 1-6 2-2 6-2 10-1 1-3-2-6-3-1-2 1-4 1-10-3-5-6-9-7-10-10-8 0-14-3-8-1-4-3-6-7-10-4-4-9-8-6 4-14 0-16-1-6-3-3-10-1-10 2-1 2-1 10-2 1-5-7-5-3-4 1-4 4-16-5-2 0-4 3-2 0-4-2 0 8 4 6-2 10 0 5 1 1 2 10 1 4 2 2 8 2 6-1 2 1 10 10-3 4 2 4 0 2-7 11-2 1-10-1-6 2-2-1-3-4-3-2-1-10-7-2-10 0-4 2 1 8-1 3-8-3-4 1-6 7-7 12-13 16-5 8-13 15-10 19-8 8-4 6-8 6-4 6-10 10-6 8-4 8-5 4-1 7 2 2 6 1 1 2-11-3-6 3-10 9-4 2 0-569zM270 493l3 4 0 8 4 7 4 4 2 1 2-6 2-3 2-1 4 3 4 0 0-3-3-6-1-8-4 1-8 1-4-1-2-3-2 0zM298 527l-1 3 2 3 2 0 1-4-1-2zM1322 531l3 4 2 1 1-1 1-2-2-3-2-1zM300 539l-4 2-1 2 2 2 7 4 5 18 2 3 2 1 1-2 1-6 4-8-1-2-1-6-4-5-4 0-2-3-4-2zM320 569l1 4 4 4 0-5-2-3zM1231 569l4 5 2 1 2-2-1-2-3-2-2-1zM860 581l-1 8 2 2 2 0 6-2 1 2-2 6 0 6 1 3 2-1 8-8 0-2-4-8 0-4-4 1-8-5zM328 585l1 4 2 1 1-1 0-2-1-2zM338 585l-2 6 1 6 3 6 5 2 3-2 2-4-1-2-4-2-2-4zM469 597l2 6 2 1 2 0 1-3-1-2-2-2zM365 605l-1 2 2 6 3 1 2-1 3-6 0-2-3-1zM595 613l-2 2 2 4 4 4 1-8-1-3zM1019 611l6-1 1 1 0 2-3 2-4 0-2-2zM357 642l4-1 5 2 2 6-1 1-8-2-3-3 0-2zM369 650l2 1 1 2-1 1-1-1-2-2zM1313 655l2 0 2 6-2 0-3-2 0-2zM383 664l7 1 3 3 0 7 2 1 5 17 5 10 0 7-2 3-1-2-11-6-2-6-4-4 0-2 7-12 0-6-7-4-4-6zM345 674l4 3 6 0 3 2 0 6-3 6-2 2-2 0-3-2-1-6-8 0-5-2 9-8zM323 687l6 1 2 2 1 5-1 4-3 4 1 1 4 0 4-3 4-1 3 1 2 2-3 2-6 1-5 5-1 2 6 4 0 2-1 2-7 4-2 0-2-2 1-4 3-4 0-2-5-4 0-4-9-2-2-2-4-2-1-2 2-2 3-1 4 2 5-1 1-4-1-2zM625 688l4-1 2 1 1 3-1 2-6-1-1-3zM613 694l2 1 1 2-1 2-2 0-2-2 0-2zM351 701l2 2 0 1-2 1-3-2zM579 700l4 1 2 2 0 6-2 2-8-5 1-3zM595 702l8 4 2 1 0 2-9 4-3 0-2-2zM369 712l1 1 0 6 3 4 2 6-6 0-1-2-1-8 1-6zM301 718l3 1 0 2-2 4 0 10-4 4 1 11 4 1 6 4 2 0 4-4 2 2 0 2-2 6 2 12 2 4-4 3-2 0-2-3-4-2-6 4-12 0-2-4 1-6-9-6-1-2 3-4 0-4-2-1-6 1-2-2 2-6 4-3 1-5 4-4 0-4 0-4 3-2 4 0zM288 755l-1 2 2 2 3 0-1-4zM294 759l0 4 2 2 2 0 1-2 0-3-2-2zM363 732l4-1 6 1 6 5 6-1 4-4 12 0 2 1-1 4-2 4 1 2-3 2-1 10 1 2 4 4 0 4-1 1-4 0-2 1 0 6-2 2-2 0-2-2 2-5 4-3-5-12-3-1-4 1-2-1-7-11-3-2-12 4-2-1-1-3 2-2zM1445 735l4 0 0 14-5-4-2-4 0-4zM515 746l2-1 6 2 2 2-1 4 2 6-3 16 4 0 6 4 10-1 4 3 0 2-2 4-9 4 0 4 5 6-1 4-7 5-11-1-3-4-8-2-8-11 1-7-1-8 2-8 2-12 2-4zM551 749l4 0 2 2-2 2-3-2zM353 753l4 1 1 3-2 6-3 2-2-2 1-4-1-4zM333 755l2 4-1 4-3 2-4 0-4-6 1-2zM545 762l2 1 1 2-3 0-1-2zM365 766l2-1 2 1 2 3-4 3-2 5-4-2-2-2 0-2zM379 780l4 1 4 3 4-1 10 4-2 8-1 12-5 6 1 4-5 8-2 2-2-2-1-6-3-4-6 4-2 6-2-1-2-1 0-4-2-1-6 2-2 3-2 8-2 1-4-4-5-3-1-2 1-4 2-6-1-3-6 2-4-1-1 2 1 6 5 4 0 2-3 4-2 2-4-3-6 0-2-13 2-3 7-3-1-4-4-2-1-4 3-2 4-1 4-3 4-1 7 3 0 2-2 4 3 1 4-2 6 3 2-1 4-3 4-1 5-5-3-8zM245 783l2 1 2 3-1 4-1 1-2 0-2-3zM265 784l5 1 3 4-4 10-4 3-4 0-5-9 1-2zM283 785l2 0 2 2 0 4 5 4 0 4-9 4-5 0-2-2 1-8-1-4zM213 806l10 1 2 12-4 6-4 1-6 3 0-20zM511 817l2-1 4 0 4 3 0 3-2 2-2 0-5-3-2-2zM243 818l3 1-1 2-2 8-2 0-2-1-1-3zM291 826l2 1 2 2 0 5-4 5 1 10-5 2-3-2-2-8-1-2-5-2-1-2 2-1 6 1 4 0 2-2-1-4zM347 837l4-1 2 1 4 9 2 1 4-2 2 1 2 4 5 3-1 6 3 6-1 2-2 1-2 0-6-5-4-6-6 2-2-2-1-4-5 0-6-4-1-2 1-3zM263 839l2-1 4 0 1 3-1 1-8-1zM219 847l2 0 10 6 8 10 2 8-4 6-8 1-8-2-2 1-8 0 0-27 4 0zM503 848l2 0 0 1 0 3-2-1zM495 854l2 0 4 9 13 6 2 2-1 5-2 3-2 0-2-1-4-5 0-5-2 0-6 11-2 2-3-2-2-12 3-9zM337 869l2-1 2 3 0 2-4 2-2-2 0-2zM263 878l6 0 3 3 1 2-2 2-6 1-3-5 0-2zM305 881l2-2 4 1 12 9-22 0zM495 882l3 3 1 2-1 2-7 0 2-5z"/>
<path fill="#fc9632" d="M213 221l1236 0 0 398-24-16-12-4-6-1-6-3-10-2-6-6-28-3-16-6-12-1-12-5 0-3 6-8 2-2 4-18 4-4 1-10 3-6 0-2-2-1-8 1-6-4-6 5-12 4-18-1-8 3-6-3-4-1-1 3 1 4 0 4 4 0 6-3 1 1-1 4-6 7-4 3-6-2-4 1-10 9-8-3-4 2-6-3-3 2 3 4-1 2-5 2-2-2 0-4 3-4-3-4-4-2-4-6-3-2-3-1-1 3 2 6 7 4 0 2-1 8-3 3-10 3-2 0-8-7-2 1-2 4-6 2-3 2-2 6-4 6-1 8-6 5-8 0-6 3-2 0-2 0-4-4-6 1-8 5-8 2-20 14-10 6-6 2-6-2-2-2-7-20-3-1-2 1-4 3-8 4-7-3-1-2 3-14-9-4-3-10-1-1-8 0-5 7-5 0-4-2 0-6-1-2-3-3-4-1-6 4-4 10-2 2-3 0-1-1-1-7-3-4 4-4 0-6 6-5 2-9-6-5-6-1-6 3-2-2-1-3-3-1-5 3-1 2 5 10-1 2 4 6 5 4-2 4-4 4 0 4-3 2-7 0-2-2 0-2 3-4 1-2-1-1-3-1-3 4-2 1-6-6-2 3-4 0-4 2-1 4 3 1 0 1 0 4-2 0-10-3-10 10-8 4-4-1-3-2 0-6-5-2-2-4-8 1-8-2-8 1-8-1-8 0-4 3-4 8-6 0-4 3-10-1-20 0-3-8-5-3-2 1-2 2-1 8-5 8-4 3-4-1-2 1-4 4-4 6-10 3-7 8-3 1-5-1-1-2 0-2 4-6 4-2 2-5 4-3 0-10 6-10-6-3-6 1-5 4 1 6 0 8-4 2-6 6 0 2 3 4 1 2-2 2-4 0-4-3-1 1-1 2 1 4-1 2-6 5-4 7-6 4-4 0-6-4-6-1-6 5-10 5-10-2-3-3-5-12 3-12 0-2-1-2-4-1-10 4-4 3-7 2 0 4 6 6 3 3 5 1 2 2 1 4-2 4-2 2-6 2-8-2-4 2-8 11-3 17-3 3-6 2-6-3-4 0 3-6 0-4-5-7-3-3-1-6-2-2-2 4 4 6-8 6-30 13-10 3-12-1-6-5 0-2 8-1 2-2-1-7-2-4-1-1-2 0-4 3-6-1-6-4-1-1 1-6-6-2-4-6-8-4-4-4-2-1-6 2-4-1-1-2 3-2-2 0-2-3-6-2-6 1-1-2 1-6-1-8-5-6-6-3-12 1-8-2-1-2 1-6-1-20-2-6-3-2-8-2-12 1-6 4-6-3-4-4-2-1-6 6-6-2-6 2-4-2-4-6-4 0-4 4-1 3 2 4-1 4 1 6 4 6-3 16-4 7-2-1 0-2-10 2-6-1-10-13-6-2-4-4-4-7-6-7 0-2 1-6-1-8-4-8 0-4-3-6-1-8-4-2-3-6-4-4-4-6-1-4 0-6-1-2-1-4-4-5-8 5-5-10 1-4-6-1-4 2-4-1-1 2 1 8 12 30 8 9 2 0 8-3 3 2-6 8 1 8 2 8 9 10 4 10 1 8 8 4 2 4 6 5 6 10 10 10 20 6 10 5 4 0 2-3 6-5 12 1 9 9-1 6 2 4-8 11-6 0-4-1-6 2-2-1-2-5-2-1-2-9-2-2-12-1-10 1 0 8-8 0-5 4-13 18-12 16-4 6-10 12-15 24-35 39-18 25-13 12-3 1 0-567zM262 451l-2 2-1 4 2 12 6-2-4-6 1-10zM847 493l-3 2-3 6-4 2 2 4 2 1 2-5 8-3 3-3-1-5-2 0zM1252 535l-1 4 6 2 1-2-1-2-4-3zM786 547l2 12 1 2 2 0 3-4-1-3-4-8-2 0zM770 553l-2 2 0 2 0 4 1 1 2-1 3-4-1-4zM1084 571l-3 2-2 6-6 5-2 5 1 4 1 1 6-1 8-6 6-2 8-4 4-4-2-2-6 1-8-5zM1374 571l-1 4 2 1 2-2 0-3-2-2zM1146 581l-1 2 0 4 6-2 0-2-2-3-2 0zM770 587l0 2 5 5 1-5-3-3-2 0zM598 609l-6 4-1 2 4 13 2 2 4 2 2-3 0-14-2-5zM947 574l2 0 2 1-2 5-3-1-2-2zM1027 577l1 2-1 1-1-1 0-2zM813 589l2 0 1 2 0 2-3 2-2-1-2-3zM471 617l4 1 1 3-3 0-2-1-1-3zM515 757l2 0 0 4-3 6-3 1-1-3zM517 788l2 0 0 4-2-1zM221 859l4 1 2 3 3 6-1 2-4 0-2-2-3-6 0-2z"/>
<path fill="#f4cbcb" d="M213 221l1236 0 0 396-31-20-3-4-4-3-6-9-8-6-6-7-8-3-4-4-7-4-2-2-1-6-2-2-10-6-6 0-14-6-2-4 2-4 4-6 0-12-2-2-5-2-1-1 0 1-4 2-4 0 0-2 4-3 4 1 6-2 2 2 2 0 4-6 0-2-8 1-4-2-4 4-4 2-1-1-1-3-2-1-2 2 0 2 2 2 0 4-10 7-6-1-4 3-4 2-9-1-5-4-4-1-6 2-2-1-2-6-2-2-8 1-6 7-4-2-4 2-5 6 0 4-5 3-4-1-6-7-8-1-6-2-7 0-8 16-1 6-4 0-2 2-2 4-8 6-2 8-16 10-6 12-2 1-4-3-4 0-8 9-14 9-6 3-28 18-6 2-4-2-4-5-1-4 1-4 8-9 23-13 5-7 7-7 0-6-3-2-4 0-6 1-6 3-2-2-1-2-1-1-2 4-6 0-4 2-10-5-14-2-2-6-2-3-14-7-4-1-8 3-2-1-2-5-2-1-12 1-2-2-2-6-2-1-6 1-5-2-8-8 9-10 8-6 0-8-3-4-2-6-1-6-2-1-12 3-4 5-10-3-6 1-8-5-2 0 0 2-4 4-2 4-5 0-1-2 5-4-1-1-2 1-9 6-1 2 4 3 4 7-2 6 1 4 3 4 9 2 0 4-3 6-2-1-6 3-4-2-4-6-4-2-2 10 6 5 0 5 2 10-6 2-9 0 2 4-1 2-2 2-14-1-6-3-8 1-6-2-8 2-4-1-2-4 2-6-1-2-3-1-6 4-2 3 1 2 3 4 0 4-2 4-2 0-2-1-3-7-5-2-6 9-2 2-2-1-5-4 0-2 3-1 2-3 8-2 2-6-10-7-4-1 4-2 6-10 8-1 4 5 1 12 3 3 0-7 2-2 0-6 2-4-8-6 2-6-2-4 0-2 4-1 4 1 1-2-4-8-5-2-2-1-2-7 1-4-1-1-2-1-4 4-4 2-8-2-24 7-8-2-6 0-2-5-8 2-2 4 0 4-4 2-1 4 7 8 4-1 4 4 2 0 4-3 4 1 4-1 4 2 9 0-1 10-4 5-10 0-1 1 1 6-1 2-5 0-2 2-4 1-4 4-2 0-4-7-2-1-6 5-6 1-4-2-2-5-2-1-4 3-2 6-2-1-1-5-5-4-3 10 1 6-5 6 4 4-3 11-11 1-1 6-2 2-8-2-8 2-16-1-8 6-4 1-4-2-2 4 1 8-3 6-4 2-6-2-3-6-3-2-8 0-2 1-2 5 1 4-2 4-5 1-4 7 0 5 6 9-1 2-3 2-13 18-2 6 0 12-3 4-6 1-3-3-3-14-6-8-3-8-2-22-3-10-1 2-10 6 4 20-1 10 0 6-3 6-19 9-16 5-6-2 2-6-2-10-1-2-3-1-8 4-7-3-2-2 0-8-5-3-5-5-15-10-8-1-2-3-6-2-12-21-8-4-10 0-4-1-2-2-3-10 0-16-3-5-4-4-6-1-10 0-6-1-6 0-2-1-4-8-4-1-4 0 1 5-3 2-12 0-2-4-6 0-8 2-3 4 0 6 3 4-1 4 1 6 4 6 0 2-3 12-1 2-10 4-10 0-6-8-3-6-5-1-4-2-6-10-5-5 1-16-4-8 0-4-2-2-2-4-1-8-3-2-12-16-2-4 2-6-3-6-3-4-5-10-3-1-4 1-5-2-9-8-1-2 1-12-5 2-2 6 1 14 2 10 6 18 6 14 11 14 4 6 4 14 5 5 4 5 3 10 0 8 3 4-1 6 4 2 2 6 1 1 2 1 6-3 2 0 1 3 0 4 6 4 3 4 3 2 13 3 12 4 3 3-3 1-16 1-2 2 0 4-4 1-6 5-5 6-7 12-14 16-4 8-9 10-15 24-8 7-4 6-23 27-20 26-13 12 0-566zM929 475l0 3 4 0 1-1-1-4zM766 479l1 3 2 0 1-1 0-2-1-1-2-1zM927 491l-1 4-2 6 1 3 2 0 2-1 1-2 0-4 3-6-2-2zM1310 503l1 3 2-1 0-2zM1058 519l-4 6 3 2 2 6 6-3 1-3-3-10-2 0zM1174 521l-8 10-5 8 0 3 2 0 5-3 7-6 4-2 2-6-1-4zM505 533l-3 4 1 1 4 1 1-2zM719 533l-1 4 4 10 3 3 4 1 3-2 1-3 4 2 2-1-2-3-4 1-2-1-6-10-4-2-2 0zM1142 555l0 2 5 2 2 0 0-5zM288 563l2 6 5 11 2 3 2 0 2-1 1-1 0-2-11-16-2-1zM535 563l-3 4 1 4 2 1 4-3 0-2 0-4-2-1zM967 491l8 3 8-4 2 1 6 5 2-1 2 4 0 3-10 5-2 0-8-10-8-1-1-3zM817 528l2 0 1 3-4 0zM835 537l1 4 3 1 2 3 0 3-2 1-4-2-1-2zM763 543l2 0 1 2-1 2-4 2-1-2zM1049 557l2-1 2 1 0 2-2 2-5 0 0-2zM1067 562l4-1 6 3 2 5-2 5-7 7-4 8-4 4-7 4-4 1-2-1 0-5 4-11 4-6 6-5 2-7zM779 577l4 0 1 2-5 2-2-2zM701 596l4-1 8 8 0 11 4-2 6 2 1 1 0 4-3 2-4 1-5-1-2-4-15 1-6 2-4 6-4 1 0-4-3-6 4-10 11-7 4 0zM717 601l2-1 2 0 0 3-4 0zM381 611l12 0 8 8-1 6 1 4-8 10-4 0-4-1-6 2-1-1-3-10-4-7-3-1 7-3 1-3z"/>
<path fill="#f59b9b" d="M213 221l1236 0 0 395-18-12-8-7-18-20-13-12-9-4-6-6-8-9-10-8-8-3-10-6 3-6-1-8 1-6 8-14 2-8 5-6 5-10 1-12-2-2-4-1-2-1-2 2-6 6-6 4-4 1-1 1 3 6-6 7-4 1-4-1-3-1-1-4-2-2-4 1-1 1-1 14-4 3-3-1-1-6-4-1-10 0-6 5-6 2-2 0-12-7-1 1-1 6-2 1-4-2-6-1-8 2-6-4-12 2-9 6-3 8-2 1-6-1-10 5-8-2-4 1-4 2-10 8-14 19-2 1-4 0-12 10-6 2-2-1-2-3-3-12 3-8 4-4 4-2 2-4-1-2-2-2-5-3-2 0 0-6-5-3 1-2 2-1 2 2 4 0 4 2 1-1-5-4 0-3-4-1-2-2 0-4-2-2-4 2-4-1-6 2-6-5-10 9-4 7-8 2-8-3-6 4-4 0-2-1-3-6 1-9-4 0-3-3-5-3-4-3-6-12-4-4-2 0-6 1-6-5-2 1-2 3-4 3-2 3-2 1-12-3-10 7-8 4-6-4-6 3-3-2-1-2 8-4 4 3 3-1 3-4 0-7-10 1-4 5-5-3-1-6-2-1-4 1-1 2 3 6 0 3-2 2-8-5-2-2 2-4-2-1-1 1 1 4-1 2-3 2-10-1-4-3-4 1-6-1-6 2-6 0-8 2-4 0-4-3-4-1-5 4-5 10-2 0-2-2 0-3-1-1-5-1-12 0-3 1-2 4-5 4-3 0-3-3-2-1-8 4-4-2 0-6-2-2-4-1-13 9-3 0-4-3-2 1-4 2-4 4-4 1-6-4-4-5 0-2 3-2-1-2-2-2-4 1-1-3-3-1-6 1-3-4-3-1-2 3 4 4 0 4-5 6-1 4 4 6 0 2-16 12-6 14 2 2 6 1 5 3 3 10-1 4-3 3-13-5-2-2-1-4 4-6-6-5-4-2-4 1-11 6-1 2 2 4-1 6 1 6 2 4 4 3 1 3-2 4 0 4-2 4 7-2 4 1 2 1 3 4-1 3-8 2-8-2-6 2-2-1-4-4 0-4 8-6 1-2-2-4-3-2-10-2-12 6-10 3-4 3-8 1-2 1 1 4-2 2-3 2-2 0-4 12 0 8 4 6-1 2-3 2 0 10-2 2-3 8 2 8-1 8-6 12-5 6-1 6 0 10-2 4-2 1-4 0-2-3-2-12-8-16-3-22-5-14-2 5-6 4-4 1 3 20-2 16-3 6-6 4-10 5-12-2-4 2-2-1-2-4 1-6-1-4-6 0-8 4-6-2-2-2-1-2 1-7-10-8-16-11-6 0-4-4-4 0-2-2-1-4-5-6-5-10-7-4-10-2-4-2-5-10 0-16 1-3 8-1 2-6-1-4-3-1-4 1-4 2-2 4-9-6-9 0 2-8 0-2-2-1-10-1-2 1-2 5-2 1-6-4-6 0-6-3-2 0-2 2 0 4-2 1-12-7-8 2-2-1-2-5-2-3-2-1-4 1-3 3 5 12 4 0-2 0 0 2 6 16 0 4 2 6 3 6 0 2-3 10-2 3-8 4-10-1-5-6-3-7-9-3-10-14 0-16-4-8 0-6-3-4-2-8-4-4-3-4-4-4-5-7 0-5 2-4-8-12-4-8-4-3-4 2-3-1-3-4-4-2-3-4 0-2-1-6 2-6-4 0-5 4-1 6 1 14 2 12 8 22 5 11 10 12 4 7 1 12 10 8 3 12 0 2-2 1-8-10-2 0-3 1 2 8 3 8 4 6 6 4 0 4-4 4-1 2 1 5 2 2 1-1 1-8 2-1 2 0 4 4 8 3 8 11 6-1 6 2 10 0 7 4-3 2-16 0-2 2 0 2 2 2 0 2-4 4-1-2 1-2-2-2-4 0-2-2-1-8-5-4-2-2-2-1-2 1-3 6 1 8 6 10 8 7 0 3-2 4-6 8-4 2-2-4-2-2-5 0-1 2 0 4-3 6 0 2 4 6-2 4-5 4-4-8-2-1-2 1-2 12 3 4 0 2-3 3-6 1-2 2 2 8-1 4-7 3-2 2-4 9-4 2-4 8-14 16-8 12-5 4-3 6-9 10-7 5 0-222 1-1 1-2-2-1 0-337zM335 453l-2 2 0 2 2 1 3-1 2-2-1-3-2-1zM1284 475l1 2 4 0 2 0 0-2-4-1zM738 481l3 5 2-1 0-2-2-2zM1136 489l-2 2 1 1 3-1-1-2zM1144 501l-4 4 7 8 2-1 3-5 0-2-5-4zM530 517l1 2 3 0-1-3zM504 531l-3 5-9 5 1 2 10 2 6 4 5-4 2-8-3-4-6-2zM541 537l-4 2-6-1-5 1-1 2 1 2 4 4 2 4 0 8-7 12-8 3-1 1 0 2 1 1 8 3 2 2-2 2 4 1-1 9-5 1-1 5 2 4 5 2 6-3 6 2 4 0 5-7 1-10 0-5-5-11-1-14-4-3-3-3 0-2 3-3 6 3 1-4-3-4 0-2 4-4-4-1zM476 571l-2 6 9 4 2-4 0-4-6-4zM301 607l-1 2 0 4 1 2 2 0 2-2 0-4-2-2zM247 651l0 2 2 1 2-3-2-1zM1031 468l5 1 0 2-5 1-1-1zM1029 481l2-1 9 9 0 8-3 2-2 4 1 2 6 8 1 4 2 0-1-4 1-3 2 0 2 1 2 2 1 2-1 2-6 2-10 7-8-1-8 3-2-1-1-2 1-6 2-24-2-6 2-3 8-1zM907 483l3 0 2 2-3 7-2 1-3-6zM907 493l4 1 2 2 2 3 0 3-2 1-4 0-2 0-2-2 0-4zM1113 502l6 1-1 4 3 6-4 3-4 1-7 10-5 3-6 1-8 6-4 0-1-2 1-2 4-1 1-3-1-3-4 3-2-2 0-3 10-4 4-8 6 3 2 0 7-10zM1191 518l4 1 1 2-7 10-2 1-2-3 2-6zM1179 537l4-1 1 1-1 2-6 6-2 7-7 5-11 6-1 0-2-4 3-6 10-8zM903 538l6 1 6 0 2 2-6 3-6 1-4 2-2-2 2-5zM1133 561l6-1 6 2 4 3 1 2-1 4-6 4-7 8-11 8-8 4-28 18-4 1-2-1-3-4-1-4 1-4 5-6 24-14 18-18zM1071 567l2 0 2 4-2 2-4 2-1-4zM1063 577l3 0-2 8-5 6-5 2 2-10zM381 612l10 0 6 4 3 3-1 10-3 6-3 2-4 1-8-1-3-4-4-10 0-2 3-3 1-3z"/>
<path fill="#f66666" d="M213 221l1236 0 0 393-8-6-9-5-19-20-8-10-6-4-6-5-8-5-14-15-6-4-9-9-10-14-1-4 2-6 10-18 12-18 0-6 4-8 1-6-1-4-4-3-4-1-6 3-8 6-4 5-6-1-7-5-7-3-4 7-2 1-10 2-2 0-2-2-2 1-1 2 2 2 1 2-4 2-4-3-4 3-22 0-3-2-3-6-5 0 1 2-1 2-3 2-4-1-10 4-8 14-4 1-2-1-2-3-6-2-2 0-1 4-3 4-2-1-2-3-2 0-1 4-6 4-1 4-4 4-2 4-4 0-6 6-4 1-4 3-10 10-12 16-2 1-9-1-4 6-7 4-2-4 0-8 8-7 4-5 6-2 16-22 4-2 2-2 0-2-4-4-7-2-2-2-1-4-2-1-8-2-1 1-2 2 3 4 0 2-4 2-8-8 0-2 2 0 4 1 1-1 0-4 5 0 1-2-1-4-4-4 0-4-2-3-2 0-1 1 0 4 1 4-2 6-6-3-2 0-4 4-4 2-8 0-4-2-4-4-2-1-9 6-3 8-2-1 0-5-4-6 0-4-6 1-2-1 0-6-4-4-8 0-4 4-4 3-6-1-6-5-4 2-2-1-5-8-8-4-1-3-2-2-4 1-2 3-10 3-3 4-3 2-2-1-5-5-5-14-6-5-4 0-4 2-8 9-2 5-6 1-4 2-2 0-6-5-6-3-2-2 0-4-2-1-2-1-2 2-2 6 3 4-3 3-2 0-4-4-8-4-2 0-6 3-1-2 3-6-2-3-4-3-2 0-2 6-9 6 0 4 5 5 1 3 1 4-2 2-2 1-6-2-6-1-6 2-6 0-4 1-4 0-8 2-4-1-4-2-4 6-2 1-12 1-8-4-4-6-2 0-4 1-6 1-1-2 0-4-1-3-2 1-1 4-5-1-4 3-2 0-2-4-1-12-4-4-2-4-7-4-4 0-8 8-5 4 0 2 8 4 0 2-2 2-5 2-8-1-3-3-4-2-1-2-4 0-2 2 1 2 5 6-2 4 1 4-1 4-4 1-6 0-6-2-2 1-4 6-2 2-4-3-2-1-2 1 0 5 4 2 2 3 1 7 4 4 0 6 1 4-10 7-8 2-5 3-4 6 5 4 1 2-5 6-4 1-2-3-3-2 2-10-3-1-4 1-2-1-3-5 1-4-2-4-2 2 0 6-6 10-2 10 1 2 4 4 0 2-3 2-8 2-6 0 0 4-3 2-3 0-1 2 2 6 0 6-5 8-1 6-3 6 4 12 0 6-4 10-2 2-4 0-2 4 6 3 1 9-10 20 0 14-1 3-4 1-3-2-2-14-2-6-5-8-4-22-3-8 0-10-5-2 0 2 1 4-1 4-8 5-4 1 4 18-3 16-7 10-8 4-6 1-12-5-1-10-1 0-10 1-8 4-4-2-2-3 1-6-1-3-4-2-6-6-14-9-2-1-6 0-4-5-4-1-2-3-5-6-2-10-2-4 0-2 1-2 8 0 3-2 0-2-1-8-7-8-1-2 3-4-1-2-16 18-1 2 2 6-1 2-4 0-5-2-5-12 0-4 3-4 6-6 2-10 2-2-3-5-4 2-6-1-4-1-16-10-12-2-6-1-10 4-6-6-6-4-2 0-4 7-2 1-10-1-4 1-7-10-5-9-4-2-4-4-6-1-4-6-4-1-3 3 0 2 6 8 5 10 5 4-1 4 4 4 4 10 3 2 5 12 0 7 6 13-1 8-3 6-6 3-10 0-6-5-3-8-9-3-9-13-1-4 1-12-5-8 1-8-4-4-2-6-11-12-5-8-1-2 2-4 2-1 0-2-8-9-6-12-4-2-4 2-2 0-7-8-3-4 0-6 4-8-8 0-2 0-2 2-3 6-1 6 3 20 5 16 0 4-3 4 2 4-2 4-7 6 2 3 4-2 1 3-7 2 2 6 4 2 3-2 3-6 4-1 4 0 5 3 7 10 0 12 2 4 7 4 1 2-2 1-6 0-2 1-2 2 2 8-3 4 0 4 1 2 6-2 7 10-1 2-6 4-1 2 3 4 2 13 4 4 2 4 4 3 3 4 2 4 0 4-5 7-4 2-6-3-4 1-2-5-2-1-2 3-1 4 1 4 3 4 0 2-2 4-4 6-7 2-4-2-1-6 2-4 5-1 1-3-9-4-2-5-2-1-8-1-5-3-3 0-3 4 1 6-4 5-4 3-1 2 6 6 0 2-3 0-6 3-6-2-2 1-4 8 0 2 4 10-2 6 2 2 3 2 2 4-3 3-2 0-3-5-3-1-4 7-4 0 0-36 4-2 1-8-1-4-4-2 0-15 6-5 0-2-2-4 2-4-1-2-5-3 0-49 4 0 2-1 1-5-1-6-2-4 0-4-4-2 0-5 1-1-1-1 0-317zM336 281l-4 2 2 6-2 2 5 2 6 7 2-2 0-3-2-3-4-3 0-9-2 0zM369 301l-2 10 2 1 2-3 6-2-4-5zM384 359l-2 4 7 9 8 3 0-2-1-2 1-6-4-2-2-5-4-1zM407 383l8 9 4 3 2 0 1-2-3 0-5-8zM431 395l-2 1-4 1 3 2 5 0 1-2-1-2zM830 417l1 3 2 1 4-1 3 1 4 6 5 4 4-1 6-3 6 0 2-2-6-9-2-1-3 2-1 4-2 1-8-1-4-5-2-1-6 0zM823 423l-2 2-1 2 0 4 2 4 0 2-8 4 1 2 2 1 4 0 3-5 7-3 1-3 4-4 1-2-2-1-8-3zM794 429l1 3 3-1 0-2-1-1zM1072 431l-2 4-6 4 0 2 3 3 6 0 2-1 6-6 0-4-2-2-4-1zM472 435l-1 4 2 1 2-2 1-3-1-1zM1377 437l0 2 8 5 1-1-3-4zM849 439l1 4-1 7 2 3 4-2 10-2 1-2-7-6zM341 443l-6 4-9-2 4 6-1 6 8 9 6-5 2-4-1-8 0-4-1-2zM723 443l0 6 2 3 2 0 2-1 1-6-5-2zM355 457l-4 2 1 2 5 6 4 1 4-5 0-4-6-2zM366 475l-9 2-1 2 2 2 3 2 6-2 2-2 0-2-2-2zM323 481l4 6 0 1 1-1-1-4-4-3zM549 509l-2 1-7 1-1 1-6 1-4-2-2 2-4 5-2 0-4-2-1 3 1 2-2 3-2 1-4 3-6 2-6 7-4 1-6 6-10 5 6 5 2 0 8-6 6 4 4 0 6 2 10-4 4 3-1 4-10 14 0 8 3 4 0 2-3 4 4 4 1 6 4 6 10 6 6-2 6 1 4-1 5-6 0-8 4-8 1-6 10 2 2-2 0-6-4-3-2 0-6 5-6-1-2-3 2-16 3-6 1-14-4-4-4-1-4-3-3-2 0-2 5-8-4-4 6 0 2-1 0-3zM460 515l-1 2 1 2 5 4 1-2-1-4-2-2zM228 533l-5 4-3 6 7 0 5-4 1-2-2-4zM264 555l-1 2 0 2 4 4 4 1 4-1-6-9-2-1zM574 559l-2 2-1 4 2 2 3-2 1-2-1-4zM233 619l-4 4-5 10 1 2 2 2 6-2 6-4 2-6 0-4-2-1-4-2zM621 621l1 2 1 0 3 0 1-2-4-1zM1073 485l8 2 3 6-1 2-8-3-4 0-2-1 2-4zM521 523l2-1 2 1 4 4 2 4-1 2-7 1-6-3-3-2 1-2zM1137 563l4 0 4 2 1 4-11 12-12 9-8 3-12 7-14 11-4 0-2-1-2-5 8-10 22-12 12-12 8-6zM381 613l2-1 8 2 6 3 2 2 0 2-3 12-3 3-10-1-2 0-3-4-3-8zM291 651l2 1 0 3-2 7-2 0-3-3 0-2 3-5zM259 654l2 1 1 2-1 1-2 0-2-1 0-2zM249 667l4 0 4-2 4 4 0 2-2 2-2 0-10-6zM243 674l12 2 4 5 2 10-6 12-6 6-2 1-4-2-1 1 0 2 1 4 6 0 2 3 1 7-4 14-7 4-4 5-4-2-6-1-1-2 0-10 1-8-2-1-6 2-2-1-4-4 0-4 4-2 8 5 2-2 5-11-1-4 1-4 3-4 4-2-2-6zM269 677l4 0 6 2 1 6-5 4-4 0-2-2-1-4zM229 683l3 0 1 2-2 2-3 0-2-2zM219 729l3 2-1 3-3-3zM231 753l4-1 0 1-2 3-2 0-1-1z"/>
<path fill="#f93333" d="M213 221l1236 0 0 210-12-6-3 2-5 7-4 0-4-2-7 3 0 2 1 2 10 2 0 2-3 4-3 1-10-1-3-10 1-4 4-6-1-4-3-2-4 1-8-3-2-2-2-4-4 1-6-1-2 1-4 6-10 3-1 2 2 4 0 2-3 5-4 2-4 0-2 0-4-9-6-6-4 0-2 2-4 10-6-1-6 2-6 4-2 1-10-1-6 6-3-1-1-6-2-1-5 5-1 4-2 2-3 0-5-4-10-2-6 4-2 4-10 8-8 2-6 4-6 1-14 3-6 0-8 4-3 4 0 6-4 8-3 2-3 6-5 4-14 16-10 14-4 1-5-3-1-2 2-4 20-25 7-3 1-2-2-10-2-4-2-2-6-2-5-4-1-2 2-4 4-2 6 0 3-4-3-7-8 0-8-6-6-9-2-6-3-4-3-8-2-2-2-1-2 1 2 4-2 1-10 3-2 10 4 6-2 2-2 0-2-6-6-2-6-6 1-2-1-4 2-1 0-3-6 0 2 1 2 3-3 4 3 2 0 2-3 8 0 2 10 8-1 2-4 2-8-6-1-2 2-4-2-2-11-6-2-8-4-1-9-5-1-2 3-4-7-8-3-8 1-4-3-4-3 0-2 6-4 5-2 1-10-2 0 6 2 3 2 1-2 2-4-1-4 2-2-1-4-5-4-2 0 3 3 4-1 1-2 1-6 0-2-2-2-7-2-1-10 3-2 1 2 1 0 2-4-1-2 2-2-1-2-5-2-2-10 4-9 8-2 6-5 4-4-4-4-2-6 2-4-3-4 0-4-4-6 1-4-5-6 5-10-1-1-3-1-8 2-2 6 2 2-2 0-4-5-4 0-2 5-8-4-1-12-1-14 4-4-3-2 3 1 6-1 2-2-3-2 0-4 5-8 1-6-1-4 4-4 1-2 1-3-4-3-1-2 3-4 1-2-2-3-5-5-3-2 1-5 14-11 8-3 6-3 4-3-4-5-3-12 3-11-4-2-14 8-6 0-2-2-6-4-4-5-9-2-1-6 2-4-2-3-8-3-4 1-4 2-2 1-2-3-4-1-4-2 4-5 2-5 4-6 0-2 0-1-2-6-10-3-2-2 4-2 2-5 10-7 5 0 3 6 6-2 3-5 3 0 2 5 1 12-2 3 3 5 2 6-2 6 0 4-4 10 7 6 0 1 1 0 2-6 0-2 6 5 5 4 9 0 6-4 2-10 2-6-6 0-4-4-9-1 1 0 6-1 2 3 2 0 4 1 4 0 2-4 5-6 1-4 5-4-4-2 1-12 7-8-3-4 2-2-1-4-6-10 0-4 0-2 3-4 3-4 13-2 2-5 2-6 6-1 2 0 2 6-1 4 0 8-2 4 1 4-1 6 2 4-2 2 1 4 10 0 14 1 6-5 3-5 5 0 4-1 2-4-2-4-1-6-4-4 0-2 1-6 6 1 8-1 2-2 1-4-2-2 1 3 4-5 3 0 9-2 6-4 0-4-5-2-1-1 10 3 4-1 6 3 8 0 6-9 18 0 4 4 10-3 12-2 4-12 3-5-3-1-2-2 4-6 3-4-7-1-4 1-2 2 0 8 3 0-3-1-2 1-5-4-3-2-5-2-1-3 6-1 1-7-1-1 4 2 4 0 2-8 6-6 0 5 20-3 14-3 6-5 5-6 3-6 1-4-2-4-3-2-4 0-8-2-3-2 5-2 1-8 0-2 2-6 2-3-1-2-2 1-9-5-3-5-6-14-8-4-3-6 0-14-13-1-6 1-8 10-3 6 2 1-3-1-4 2-6-1-4 0-8-3-3-2 2-2 6-4-1-2-2 3-8 3-3 3 1 1 3 6 1 6 6 0 4-2 4 3 10-4 4 3 7 4 3 6 9 12 8 8 1 8-3 6-7 1-10 1-3 6-5 8 0 6-8 2 0-2-4 2-8 8-3 1-1-1-1-3-3-1-2-8-1-2-1-1 0-3 7-4-1-2-4 2-4-5-8 0-6-5-6-7-4-2-2 0-4 2-6 3-3 4-1 0-6 1-2 3-1 2-4 1-7-1-2-4-5-4-3-2 0 7 10 0 2-8 12-9 3-6 1-6-4-4-6-2-1-1 7-6 8 1 6-1 2-5 3-6 3-8 7-4 2-6 6-11 3-2 4-3 2-1-4 2-4-5-4-2-4 0-6-1 6-3 2-4 0-3-4-3-8-4-1-4-5-4 0-6 2-6 0-3-2-5-5-2-1-8 5-6-3-10 0-6-6-6 4-4 4-6-2-2-2 2-4-3-4 1-4-2-9-10 5-8 0-2-2-3-4 0-6 1-4-8 1-2-3 2-2 10-5 2 1 0 2-3 4 1 1 6 1 5 4 11 0 2-1 10-1-7-16 0-8-1-4-4-4-14-2-2-3 0-5-3-2-5-2-8 7-10-2-2 1 4 6-1 8 5 6 0 1-3 3-2 4-1 0-4-2-4 2 3 4 1 6 4 4 1 6 5 4 0 4 3 2 4 6 2 4 3 4 2 5 2 2 1 3 4 4 12 24-1 4 6 16 1 6-3 6-6 4-10-1-6-7-2-5-6-1-4-2-9-14 1-14-5-10 2-6-5-4-3-8-11-12-4-8 2-1 2-5-7-8-8-14-5-3-4 2-2 0-9-11 0-6 5-8-1-2-1-1-6 1-2-2-2 0-5 2-1 6-3 8 3 10 0 12 6 14-1 4-7 6 1 4-1 1-2-2-12 3-3 8 0 6-1 2-1 0-1-4-6-4-8-2-8 0 0-294zM339 277l-8 6 1 6-2 2 0 2 1 3 6 5 1 2 0 12 3 3 8 1 6-4 6-1 8 0 5-5 6 0-5-10-2-2-4-1-8 1-2 2 3 6-1 4-6 2-5-2 1-6-5-12-4-4-1-6zM868 345l-1 2 4 4 2-2-1-2-1-2zM385 355l-2 2-2 4-6 5-4 1 2 4 8 4 12 13 6 1 10 3 10 9 12 1 4-2 2-3-1-2-3-2-6 2-4-3-4-1-4-7-6-4-4-5-4-4-2-6-4-2-4-8-4-1zM851 379l-8 6 6 7 4-3 8 0 4 2 2-2 1-6-1-2-6-1-4-2zM943 381l0 2 2 1 2-1 0-2-2-1zM957 383l-2 4 2 3 2-1 2-2 0-3-2-2zM1212 387l-3 2 0 2 2 4 2 1 3-1 6-6-1-2-6-1zM709 393l-1 2 3 2 2-4-2-2zM945 401l-4 6 10 5 4-2 6 2 1-1-3-5-4-5-6-2zM1419 425l0 2 2 1 1-3-1-2zM465 429l-1 8 2 4 1 6 8 5 2 1 6-3 2-2 1-5 2-2-1-2-6 4-1-4 1-4-2-7zM452 437l-2 2 1 2 2 1 5-5zM453 455l-2 8 1 4 3 3 4-4 3 1 0 2-1 3-2 1 2 0 2 4-8 5-3 3-3 14 4 12-4 4-3 6 1 2 2 1 10 0 4 3 1-2 11-8 1-6 6-8-2-2-1-9-3 1-1 3-2 0-4-1-2-2-2-10 3-10-2-12-3-2-6-2-2-2zM660 473l-2 2 1 2 2 0 1-2-1-2zM487 475l-3 4 3-1 4 1 0-2-2-3zM641 481l-2 2 0 4 4 2 2-2 0-4-2-2zM731 369l2-2 2 0 1 2-3 5-2-1zM893 399l4 1 2 3-3 4-3 0-3-2 0-2zM1057 412l2 1-1 4-1 0zM1031 422l2 0 0 3-3 0-1-2zM1439 436l4 0 2 3 1 6-1 3-7-5 0-6zM687 440l2 1 1 2-1 6-2 1-5-1-1-2 0-2zM701 442l3 1 4 8 3 3 3 1 1 7-10-5-2-3-3-1-2-6 1-4zM1443 451l6 5 0 30-8-4-4 0-2 3-4 3-3-7 1-4 2-1 4 1-1 4 2 0-1-4 1-4-2-2-2-6 1-3 5-3 3-7zM1405 463l4-2 4 2-4 6 1 6-3 6 1 2 4 2 1 2-1 4 3 2 0 2-2 2-2 1-4-1-4-3-6 0-2 1-2 4 4 4 0 3 4 2 2 3 0 4-4 5-2 1-2 0-6-5-3 1 0 4 7 10-1 2-9 2 0 2 1 6-1 2-4 1-7-9-5-2-1-2-7-5-3-5 0-4 1-1 4 1 6-5 2 0 6 5 4 0 1-2-1-10 1-8 3-8 2-2 7-2 1-6-2-6 3-4 1-5zM1423 471l4 2-2 3-2-1-1-4zM1437 492l2-1 5 2 1 2 0 4 4 3 0 25-12-9-2 0-2 5-4 0-1 2 0 4 2 4-3 2-6 1-8-9-4-2 0-10 2-2 6-2 2-2 2-1 2 1 1 4 3 2 4 0 2-2 2-8-2-10zM1359 498l2 1 1 2 6 4 2 4-1 3-8 0-4 4-6-1-2-2 0-4 2-3zM1403 532l4 1 8 6 0 6 1 4-1 2-8 4-1 10-1 2-2 1-2-1-8-8-4-2-1-2 3-2 2 0 6 3 4-3 2-4-1-2-3-2-6 4-3-8 0-2 5-6zM275 537l4-2 2 2-1 14-1 2-2 0-1-4-3-3-6 0-1-1 3-6zM243 549l3 0 1 2-1 4-7 7-4 0-2-1 0-7zM1439 553l6 0 4 1 0 57-2-2-1-4-9-1-5-3-5-12-2-3-4-2-1-3 1-3 4 2 8 3 4-1 1-1-1-6 1-10-2-6 1-6zM465 562l2 0 1 3-2 4-3 2-3-2-1-2zM1137 566l3 1 1 2-6 9-14 9-4 0 1-6 5-6zM223 572l2 0 2 1 4 11 2 1 2-2 2-4-1-4 1-1 2-1 2 1 4 6 4 3-2 1-6-1-3 2-2 2 0 2 3 2 6-1 6 1 2-2-2-4 4-2 2 0 10 6 4-3 3 1 1 2-5 2 0 8-3 2-4 5-8 3-2 2-1 4 2 6 3 4 0 2-4 0-4 3-3-1 2-4 0-4-3-4-5-2 4-10 1-6-1-2-3-1-2 3-2 0-4-3-10-1-4-2-8 1 0-14 4 1 3-2 1-5zM1093 597l4 1 0 3-2 2-8 5-2-1 2-5zM213 602l5 3 1 2-1 2-3 1-4-1 0-7zM273 602l10-1 3 4 3 12-4-1-4-3-6-2-2-2-1-4 0-2zM381 615l2-2 2 0 10 4 3 2 0 2-3 12-2 2-10-1-4-3-3-8zM613 622l6 6 13-1 0 2-3 2-1 2 2 6-3 4-6 1-6-5-1-2-1-6-1-6zM623 653l3 2 1 6 0 2-2 3-2 0-2-3 0-7zM235 720l8 3 1 2-1 2-2 1-6-2-2-3z"/>
<path fill="#e8b5ad" d="M213 221l1004 0-1 6 15 3 2-1 6-6 1-2 209 0 0 206-18-7-16-11-10-2-12-4-6 3-6 0-2-5 0-6-2-3-2 0-2 3-4 3-3 7-1 10-1-4-1 0-3-6 0-4 2-4-4-6-3-1-12 2-3 3 0 4 3 4 0 2-2 7-2 1-4-1-4-5-2 0-4 6-2 1-8-1-2 2 1 6-1 2-8 6-2 0-1-4 5-6 0-2 0-2-7-6-1-2 2-4-2-6-3-4-3 0-10 4-1 2 1 2 10 5 3 3 2 4-1 4-8 9-8 3-2 4-8 5-2 0-8-1-6 0-2 2-2 10-8 6-30 9-6 0-10 3-4-3 0-13-2-3-8 1-8-3-8 1-2-1-2-1-3-6-5-8 1-2 5-2 9-8 4-8-2-2-3-1-4 0-7 9-7 3-2-2-2-8-6-1-10 3-4-3-6-2-6-7-2-1-6-1-6 3-2-1-5-5-7-4-2 0-4 3-2 0-16-16-8-1-4 1-8 0-6 5 2 2 0 3-10 4-3 5-3 1-3-1-5-11-5-1-3-3-2 0-1 1-1 6-2 2-8 5-9-3-3-6-4-5-2-1-6 3-4-5-4-2-10 0-6-3-6 2-4-3-16-5-10 3-6-4-8 0-4 1-4 3-4 0-6-4 0-2 8-5 4-9 4-2 0-6-6-4-18 0-4-2-4-3 1-9-1-2-2-1-8 11-6 2-2 2 6 5 3 1 1 2-4 2-4 4-2 1-4-2-4 0-2-3 0-4 6 0 3-2 0-2-4-6 0-8-5-1-3 1 0 6-2 10-5 1-4 11-3 6 0 2 4 4 0 8-1 4 2 4-1 2-5 3-6 0-3 1-4 6-1 6-4-4 0-4-8-8 0-5-6-1-4-10 2-10 5-8-5-8-1-6-1-2-4-2-5-10 3-1 8 2 2-3 0-4-2-1-2 0-4-6-3-1-5 4 1 6-2 4-5 6-4-1-4 7-2 1-8-7-4 2-6-1-12 7-8-1-8 1-8 10-7 4-3 8 2 2 10 4 0 1-4 4-8 0-2 3 1 4 5 2 3 4 0 6-3 6 1 2 3 4 6 1 1 5 4 4-1 14-4 1-12-2-14 2-2 1-1 4-1 10-6 8-4 2-8 1-10-1-4 2 0 4 2 8-2 6 0 6-3 12 5 3 2 4 4-2 6-1 8 3 3 3-2 6-3 4-6 2-4-1-1 9-6 8 0 8-2 6 4 4-1 6 3 8 0 6-10 18 1 6 4 8-3 12-3 4-8 2-4-1-3-3-2-8 0-4-1-2-3-2-3-7-2 0-6 6-6-2-1 1 0 6 2 4-1 2-6 4-6 1-2 1 5 20-3 14-6 9-8 4-4 0-5-3-1-4 0-6-6-7-4 7-8-1-4 3-6 1-2-3 1-8-5-3-5-7-9-4-10-6-6 0-13-12-1-6 1-4 3-3 6-3 6 2 4-2 2 2 4 8 4 4 4 6 12 9 2 1 12 0 6 1 1-1 2-6 3-6 1-10 1-2 4-3 8 0 6-3 2 0 2 1 2-1 10-2-2-2-8-2-4-6 1-6 2-2 5-2 2-2-1-2-3-2-2-4-8 0-10-5-2-9-2-3-6-6-7-5 0-4 1-6 2-1 4 0 1-1 9-24-2-2-10-9-4 0-3 1 6 6 4 6 0 2-7 11-8 3-6 1-4-3-8-9-2 3 0 6-6 8 0 6-4 4-6 3-6 4-14 12-8 2-9-5-2-4 1-4-1-4 1-2 4-4 5-2 5-12 5-6-2-4-2-10 3-6 4-3 4 0 1-1-1-4 1-4-1-8-6 2-2-1-1-3 1-3 4 1 1-2-2-2 0-6 2-6 6-2-1-3-5-3-7-10-12 0-8-5-1 1 2 4 0 6-3 4-8 2-3 2-2 4 3 8-1 14 3 12-5 16 1 14-2 2-6 2-6 0-4 3-6-1-2-2 2-2-1-8 0-18 1-6-2-3-2-1-2 4 0 6 3 10-3 16-4 0-7-6 0-4-3-6 0-10 2-8-1-12-3-5-3 15 2 12 0 4 3 4 0 6 2 4-3 10-3 3-8 0-5-5 0-2 1-4-2-4-1 8-7 5-2 0-7-5-1-2 1-4-1-4 2-10 2-2 4-1 8 3 0-4-5-10-2-20-5-6 1-2 5-5 1-3-7-7-4 0-5 3 0 2 4 4 1 4 0 2-2 1-4-1-2-6-3-2-1-4-2-1-6 3-4-1-4 5-4 4-10-3-2 2-2 3 2 6-2 2-4 1-4-1-8 0 4 3 6 1 6 4 0 2-5 8 3 4 1 6 5 6 0 4 4 4 0 4 4 2 4 6 2 6 4 4 4 8 6 8 5 12 5 8-1 4 2 6 4 10 1 4-3 8-5 3-9-1-1-2-2-4-4-4-2-5-4 2-4-1-6-8-1-4-3-2 0-2 2-4-1-4 1-4-6-10 2-6-4-4-4-8-3-2-7-10-3-8 2-6-1-2-6-6-2-6-4-4-2-5-6-3-4 2-2 0-8-10 0-6 6-11-4-1-4 1-6-2-4-1-4 1-3 3 2 6-4 6 0 2 2 8 0 14 6 14 0 2-3 2-14 4-3 4-3 1-1-1 5-5 4-12 4-3-5-2-9-1-3 5-3 2-4 1-10-1 0-268zM1307 259l-4 4 2 2 4 0 1-2-1-5zM357 263l1 4 1 1 2-1 1-2-2-2zM373 271l-4 2-2 2 6 4 4 4 4 1 2-1 2-2-6-2zM336 273l0 4-1 2-5 4 0 6-3 6 1 6-1 10 5 6 0 4-5 2-12-3-2 0-4 3 0 1 4 1 6-4 0 2 6 0 4 2 14-4 8 1 6-5 12-2 5-2 1-2 6 0 0-4-3-10-7-3-8 1-12-2-7-8-6-12-1-1zM315 305l-2 4 2 5 6-1 2-4-2-4-4-1zM816 319l-2 2 5 10 0 6 4 1 1-1 0-14-3-2-2-2-2-1zM387 349l-1 4-11 11-9 3 3 6 14 10 8 9 2 1 8 0 6 2 14 10 12-1 4-3 3-4 0-2-7-3-6 2-8-4-4-7-6-5-8-8-2-6-4-3-4-9-4-4zM569 349l0 4 2 10 2-3 1-7-3-5zM1302 349l0 4 3 3 0-4-2-4zM678 357l0 2 1 2 2-4-2-1zM1180 367l-3 4 4 2 4-2 0-2-2-2zM1190 369l-3 9-8-1-8 3-1 3-2 8 1 4 4 2 9 8 5-1 6-5 4-2 4 3 6 1 12-2 6 1 2-2 4 2 6-6 2-1 4 3 4-1 0-4-2-2-4-1-8-6-8-2-4-5-6-2-8 1-6-4-6-2zM1305 375l-3 6 1 3 2 1 2 0 1-6-1-4zM1395 379l2 3 2 0 1-1-1-3-2 0zM667 383l0 6-3 4 1 1 2 0 2-4 6-2 2 0 2 3 2 0-5-8-3-2zM453 413l-1 2 2 4 5 1 0-1-3-2zM389 415l0 10 2 0 4-4-4-7zM426 441l-1 2 2 4 2 1 2-3 6 5 3-7-7-1-6-2zM229 475l-3 2 3 3 2-3zM526 477l5 1 4 3 3 0-5-4 0-2zM385 493l-2 4 2 4 0-9zM612 567l1 3 2-3-2-2zM835 367l2 2-2 2-2 0-1-2zM981 394l2 1 2 6-1 2-3 2-5-4-1-2 2-2zM813 407l4 0-1 2-3 0-1-2zM675 468l4 0 2 1 0 2-2 5-2 2-4-2-1-3 1-4zM1179 469l4 0 2 2 2 6-1 8-3 6-2 3-3-3-2-12 0-8zM475 470l4 0 2 1 0 4-2 3-4 0-2-2 0-3zM691 477l4 0 1 4-2 4-3 1-6-1 0-2 2-3zM1171 501l2-1 3 1 1 4-11 12-9 14-2 1-4-1-1-2 2-4zM213 502l12 1 3 2 0 2-2 2-3 0-6 1-6-2 0-6zM457 529l2 2 0 2 0 2-2 1-2-2 0-3zM1447 571l2 0 0 9-2 1-2-1-3-5 1-2zM1439 594l2-1 3 4-5 3-2-1zM383 615l8 1 6 3-1 8-3 7-10 0-3-3-3-8z"/>
<path fill="#cf9185" d="M213 221l494 0 2 3 4 1 10-1 3-1 1-2 483 0-3 8 2 4 6 0 7 2 7 3 4 4 3-1 0-6 9-6 5-8 32 0 1 2 3-2 163 0 0 202-4-3-8-1-10-5-6-7-2-5-5-3-3-4-1-8 3-7 2-2 6 0 9-13-1-4-2-1-4 1-14 7-6-4-4 2-6-2-8 1-6 5-6 0-10 11-8 4-10-1-8 3-4 3-3 7-3 2-4 6-4 1-5-1-2-2-2-6 0-18-2-14 0-12-3-11-4-1-4 3-2 3 9 18 0 4-6 14-3 4-4 3-10 5-3 4 3 4 10 5 2 3 0 4-4 7-4 3-16 3-4-1-4-6-2 0-2 2 0 5-2 1-6-3-2 1-2 5-6 3 3 8-5 9-16 4-6-1-8 2-6 1-2-3 2-6 0-2-10-3-8 1-6-2-4-3-4-5-2-2-1-2 7-8 2-1 6 2 4-9 6-6 6-3 4 2 3 3 7 2 4-5 4 0 6 5 0 4 2 3 2-1 1-10 3-2 2 0 10 2 5-2 3-4 0-6-4-12-5-4-2-6-5-4-6 4-3-2 3-4 4-1 3-5 7-6 2-2-1-2-2-2-7-1-4 3-6 2-3 2-4 8-3 2-2 0-4-6-4-2-4 1-4-2-8 1-8-4-7 0-9 6-3 6-3 1-4-1-4 7-8 4-5-7 1-2 6 0 4-3 2 0 2-1-2-2-4-2-4 1-4-2-12 3-2-1-2-5-2-1-4 3-3 0-1-4-2-2-6-1-4 1 0 2 4 4 1 2 0 2-3 3-8 0-3 1-1 2 1 6-3 3-10-4-10 1-6-4-14-4-4-5-2-1-2 0-8 2-10 6-5 0-9-3-8 11-12 8-2-2-2-10-2-2 1-6-1-2-4 1-8 9-8-4 2-4-6-7-6 0-4-1-4 4-2 1-8-3-6 1-4-2-6-1-8 1-4 0-1-1 5-6 1-4-1-2-8-6 0-4-2-1-6-1-4-3-15-5-5-6 0-4-10 1-8-4-4 1-4 2-10-1-10-9-4-1-8-1-12-7-2 0-4 3-4 0-4 2-2 0-4-3-2 0-18 6-2-1 1-4-1-4-6-4-3 2 2 8 2 2 0 2-3 1-4-5-2 0-9 16-5 0-6-5-4 0-6 3-8 8-10 3-2 2-4-1-6 2-2 0-1-4-4-6-3-2-4 1-2-1 0-6 1-6-3-5-10 9-3 6 1 3 6 2 2 3 0 2-5 6 0 4 2 2 5 2 2 4 4 4-1 8 2 10-1 8-6 5-8 3-4 1-10-4 0 7 2 3 6 1 4 8-1 2-7 5-6 1-4 3-4-2 0 1 2 4 5 2-2 6 3 4 4 1 4-2 2 1 1 2 0 4 11 8 0 2-2 4-2 1-18 1-6 3-1 1 1 8 3 6-2 6 0 6-1 8-2 4 5 4 1 4 2 2 4-4 4 0 8 4 1 2-1 3-2 2-4 1-6-1 0 1-1 12-5 8-1 4 1 4-2 6 4 4-2 4 3 10 0 6-9 18 0 6 4 6 0 6-1 6-3 4-10 3-4-3-2-8 0-6-4-3-4-9-8 8-2 0-6-3-6-7-4 0-4-2-3-4 0-4 3-3 6-3 0-4-3-2-2-4-1-1-6 0-11-5-1-2 0-6-16-16 2-8 7 0-1-4 5-6 0-8 3-4 1-6-1-2-7-6-3-5-10 1-8-3-8 1-2 2-1 2 1 1 4-1 6 3 10 2 4 3 4 8-2 4-6 7-6 2-8-1-9-10-1-4-3 8 0 6-6 6-1 2 1 6-3 4-12 5-14 13-4 1-4 0-8-4-1-3 0-4 0-4 1-3 2-2 4-1 2-2 4-11 7-7-3-4-1-10 1-4 2-3 8-2 0-15 2-4-6-4-3-6 1-4 2-3 4-1 4 0-2-6-4-4-4-7-4-3-4-1-8 1-6-4-15-18 1-8-4 0-2 3-12-5-13-2-3-6-14-12-3-8-4-2-4-10-2-10-1-2-2 6-2 4 0 2-1 2-7 6-2 4-6 1-5 3-1 6 2 4 8 3 6 8 2 2 4 1 4 6 2 1 6-2 8 1 14 11 14-1 6-1 4 1 3 8 4 2-1 6 2 1 4-3 2 0 3 4 2 4-1 2-2 2-8 2-6 6-4 1-8-1-6-2-4 4 3 4 1 7 2 0 4-3 3 2 0 10 3 3 1-3-1-8 2-6 2-1 3 7 0 18 1 8-2 6-3 6 0 8-3 4-2 1-10 2-2-3 0-12-2-10 0-2 3-2 1-4-4-3-2 0-4-1-2 6-2 0-4-2-2-4-2-14-3-2-3-6-2 0-1 6 1 10-1 6 2 14-2 4 5 4 0 6 2 4-2 10-4 2-6-1-4-5 1-4-2-4 1-4 0-4 2-4 0-2-6-6-2-6 2-6 5-4 1-4-2-3-4-3 0-4-2-4 0-4 4-10 6-1 1-3 3-2 2-6 3-2-3-1-2-3 1-8-1-2-4-1-8 3-2 4 2 1 3 9-3 5-6 4-8-4-2 1-6 4-6-2-6 1-4-2-3 3-1 6-5 6-3 1-8-3-4 2-1 6 0 2-1 3-10 0-4-1-1 2 1 2 4 3 6 0 3 3 0 6-4 4 4 4 1 6 5 6 0 4 3 4 1 4 9 10 1 4 4 4 5 10 6 7 4 9-2 4 4 1 2 3 1 12 5 10 0 6-2 6-2 1-8 0-3-1-1-4-6-6 0-5-8 3-2-1-5-7 0-4-4-4 2-4 0-8-6-10 2-6-1-2-3-2-3-8-4-4-2-6-6-5-1-5 1-6-6-8-2-6-4-4-4-8-6-1-6 2-7-9 0-6 5-6 0-2 4-3 11-1-1-2-4 0-6 1-6-1-6 2-12-4-4 1-4 3-1 2 2 6-3 4-1 4 2 6-1 11-4 0-2-3-10-2-4-2-8 2-6-2 0-246zM1298 229l-4 6 1 6-1 8 0 10 1 6-1 4 3 3 13 1 2-2 5-10 1-4-3-6-9-12-3-9-2-2zM617 237l-3 6-2 2 1 1 2 0 2-3 4-2 1-2-1-3-2-1zM1246 237l1 6-2 4-4-1-2 3-6-1-2 1 6 7 2-1 0-4 5 0 3-3 4-3 8 3 4 4 5-1 1-2-6-9-4 0-10-5-2 0zM624 253l-2 4 1 2 4 4 1 0 2-10zM613 257l-2 2 2 3 2 1 2-2 0-2-2-3zM354 263l1 9 4 1 7 10 0 8-3 1-10-2-6-5-5-10 5-4 1-4-1 0-4 2-6 0-2 8-6 6 0 6-5 6-1 6-8 2-1 2-2 4 1 8-4 4-2 0-1 2 3 3 4 2 10-3 4 1 14-3 4 1 4-2 4 2 7-5 4 0 3 2 4-6 6-2 4 1 3-3-2-14-12-6-1-2 0-4 2-1 4 3 10 0 4-6-10-4-4-6 1-4-1-1-4 1-4-1-8-4zM614 265l-1 2 0 6 8 1 3-3 1-4-2-1-6-3-2 0zM657 279l-2 4 1 2 3 1 4-2 1-1-1-2-4-3zM794 279l0 2 1 3 4 1 1-2-1-4-2-1zM638 289l0 4 1 2 2 0 2-6-2-2-2 0zM791 291l-1 2 3 3 2-1 1-4-3-1zM669 295l0 2 5-2-3-1zM598 317l1 3 2 0 1-1-1-1-2-2zM591 321l-2 0-1 12-1 1-1 5 1 2 6-3 4 4 1-3 3-2 6 2 3 0 1-2-3-4-1-12-2-1-2 1 0 4-2 2-2-1-4-5zM632 335l-2 2 0 2 2 4-3 8 1 6-2 10-4 4-1 2 3 4-5 6 0 8 0 4 11 6 1 2 7-6 1-2-8-8-1-2 5-9 6-3 1-12-1-4-4 0-3-2 0-2 2-10-2-6-1-2zM602 345l2 2 3 2 0-2-1-2zM568 347l-1 4 2 12 0 2 2 1 2-1 2-6 2-3 2-1 0-2-4-2-4-5zM1210 347l-1 4 2 2 2-1 2-2 0-2-2-2zM607 351l-1 6 1 2 4-2 1-2-1-4-2-1-2 0zM600 377l1 3 3-1-1-3-2 0zM1423 387l-1 2 1 3 4 2 4 0 0-3-2-4-2-2-2 0zM561 389l0 2 2 0 1-2-1-1zM576 391l-1 2 3 2 0 6 1 1 2 1 2-1 4-4 4 0 2-1 0-5-4 0-4 2-4 0-3-3zM253 407l-1 6 3 6 2-2 0-10-2-1zM345 413l-3 4 3 4 2 0 3-4 0-4-3-1zM316 421l-6 2 1 2 0 2 10 1 3-7zM555 459l-2 6 4 2 4-1 1-3-1-3-4-2zM438 471l-1 4 2 2 2 0 2-2 0-2-2-3-2-1zM612 565l0 4 1 3 3-5-1-2-2-1zM795 317l6-1 6 5 1 4-1 8 0 4-2 6 6 0 3 2 0 2-5 4-1 12-3 2-6 0-4 5-8-5 0-8 6-8 6-1 0-3-6-7-6-3-1-8 3-6zM1127 385l16 4 1 2-3 6-2 2-8 0-4-8-1-4zM675 399l2 0 7 6-1 4-8 3-4-1-1-2 1-8zM1151 398l6 1 0 2-2 2-4-1-2-1 1-2zM1181 472l2 1 2 4-2 7-2 1-2-3-1-5 1-3zM407 483l4 0 4-1 2 13-2 7-6-3-2-2-1-6zM375 487l6 2 1 4-1 4 2 4-1 6-2 4-3 2-6-3-3-3 1-12 1-4 1-2zM1173 502l1 3-1 2-6 5-1-1 1-2zM1155 525l2-1 0 3-2 3-2 0 0-3zM585 587l4-1 6 5 0 8 0 4-2 2-11 2 0 8 3 6 1 14-1 6-6 8-8 4-5 0-2-2 1-2 3-6-1-2-14-9-2 9-8 0-6 4-4-1 0-10-6-4 0-5 8-5 8 0 4 2 5-1 2-2 0-8 3-11 2-4 16-6 2 0 2 2 2-3zM493 589l6 1 2 0 4 3 2 5 4 4 2 3-2 6 10 2 2 2 0 2-8 3-2-1-4-4-6-1-6 0-8-9-3-2-1-2 0-4 2-5zM383 616l8 1 4 2 0 8-2 5-10 1-3-2-2-8z"/>
<path fill="#b66a5c" d="M213 221l28 0 4 8 4-4 0-4 93 0 3 4 3-2 1-2 206 0 0 2 2 2 2-1 0-3 42 0 2 4 8-1 1-3 17 0 0 2-2 3-6 1-10 6-3 4 0 4-3 2-4 2-1-6-5-4-10 6-4 6 0 2 1 2 6 4-4 6 0 2 1 4 4 1 3 5 0 2-4 2-1 2 4 3 1 5-4 4 0 6-3 1-2-1-4 6 3 2-1 2 4-1 1 3-7 3 0 3 1 4 5 1 3 3-2 10-2 4 1 4 2 1 6-2 6 6 5 3 1 2-1 8 1 2 6-1 2 0 2 3-2 6-8 2-6 5 0 9 2 0-1 2 2 4 0 6 3 2 10-5 4 3 6 1 6 5 9 20-2 10 1 1 4 0 1 1-1 4-6 5-6 1 4 4 1 8 3 6-3 6 1 6-2 8-2 4 10 12 3-4 3-1 4 1 2 4-2 2-6 1-1 1-1 4 0 10-4 6-2 6 1 4-2 6 3 4-1 4 3 16-6 10-3 8 0 6 2 2 2 8-1 8-1 2-11 4-3-2-2-8 0-6-3-2-2-3-3-5-1-6-2 4-6 7-2 0-6-3-4-6-10-3-1-3-1-4 2-2 7-4 0-4-4-4-1-3-8-1-10-5-1-1 1-6-4-5-12-11 0-2 2-3 7-3-2-2 0-2 5-6 0-7 3-5 1-6 4-5 2-1-2-1-6 1-2 0-2-2-2-4 0-4 4-3 2 0 3 3 3 1 4-2 0-3-2-3-4 2-1-1 1-6 3-4 0-2 0-2-3-2-6 2-4-1-1 5-3 2 0 2 0 2-2 3-4 3 1 2 0 2-11-1-12 3-3 4 3 2 4-1 4 3 12 3 4 2 3 7-2 4-6 6-5 2-8-2-8-9-2-6-3 9-1 6-2 4-4 4 0 6-1 4-3 2-4 0-6 4-8 7-3 1-3 4-4 2-4 0-7-4-1-2 1-10 7-4 4-12 9-8-4-4 0-12 2-4 7-1 1-1-1-6 2-6-1-4 3-4-7-4-3-6 2-5 4-2 4 1 1-2-1-6-6-10-4-10-2-2-7 4-7 0-15-16-1-4 2-2 4-3 8 1 3-2 1-2-2-2-4 1-10-6-6 4-2 4-4-1-2 3-6-1-10-5-2 1-4 0-3-4-1-4-14-11-2-7-4-3-5-11-1-6 1-6-1-1-5 3 1 4-3 6 0 2-8 8-1 3-2 1-4 0-2 1-8 7-1 6 2 4 1 9 4-3 4 1 6 2 2 3 1 6 3 4 0 12-2 4-6 4-10-1-2 5-2 0-2-8-8-11-4-1 0 4-4 6 3 4 0 4-7 16-6 1-6-3-5 4-1 4-4 5-6 1-4-1-2 1 1 4 3 4 6 0 3 2 0 6-3 4 4 4 1 6 4 6 1 4 3 4 2 6 8 8 1 4 4 5 5 9 7 8 2 8-2 4 7 4 2 18 4 4 0 6-2 6-5 1-5-1-3-6-4-4-1-8-1 0-6 5-2 0-3-3-5-12 0-8-2-8-2-2-2-4 1-4 0-4-3-2-3-8-4-4-3-8-6-6 0-2 2-6-2-3-6-7 0-2-5-8-3-7-8-1-4 1-2 0-6-7 0-6 2-3 4 1 0-6 8-3 4 1 4-2 4 0-4-4-10-2-12 3-4 2-8-3-3-4 2-2-2-4 4-6 1-4-2-18-8 5-6 9 7 8 2 10 0 2-5 2-6 6-1 2 2 6-1 2-2 2-2 1-6-5-4 0-4 4-4 2-5 8-5 0 0-242zM367 231l-2 2 6 1 2-1-2-2zM361 255l-1 4-1 1-9 1-5 6-2 1-4-1-6-2-2-4 0 4 4 6-1 4-2 4-4 2 0 6-1 2-2 0 1 2-5 6 0 4-6 1-2 3-2 4 1 4-1 4-2 2-5 2 0 4 5 5 2 1 2 0 10-5 4 2 14-4 4 2 4-2 3 1 1 3 2-1 0-2 2-2 10 3 0-3 4-6 6-3 4 1 6-2 6 3 2 0 0-3-2-2-4-3-4-2-1-9-1-2-3-2 0-2 9-1 4-14-1 1-5 2-6-2-5-6 2-6-7 1-6-2-3-3 3-6-2-2zM575 271l-2 2-1 6-3 6-8-3-2 1 1 4 2 2 3-1 2 1 2 0 0-4 8 4 2 0 2-2 0-8 7-6-7-3zM259 301l-1 4 5 4 2 5 2-1 0-2-2-8-6-3zM252 325l-4 2-2 10 1 11 2 1 4-1 6 1 0-2-2-1-5-3-2-6 5-4 4 0 3-2 0-2-1-2zM571 339l-4 6-2 2-1-2-3-2-7 0 5 3 3 3 3 6 1 10 3 4 5-2 6-8 1-4 0-2-5-2-3-4-1-6zM499 357l-4 2 0 3 8 7 2 5 2 0 0-11zM244 371l1 10-2 4 2 4 2 1 6-6 2 0 4 3 2-6-2-8-2-1-10-2-2 0zM579 371l-3 4 1 2 2 1 2-1 1-4-1-2zM565 373l-7 12 3 8 6 4 0 4 4 0 4 4 4 2 8-3 10 0-1-11 2-6-1 0-6 4-6-1-2-5-12 2-2-4 1-10-3-2zM229 381l-3 2-1 2 2 0 2-2zM323 419l-10 1-9 5 1 2-1 8 1 1 4-6 6-1 6 1 2 2 1-1-1-6 3-6zM557 429l4 2 1 0 0-2zM575 473l0 4 2 0 2-1 0-2zM611 565l0 4 2 5 4-7-1-2-3-2zM653 221l33 0-2 4 2 6 0 4-3 6-7 2-1 8-3 0 1 2 2-2 10-4 14-1 3-7 3-3 8 1 6 2 4-2 4-6 6-3 2 1 4 6 10 3 4 3 2 0 4-6 8-4-1-6-3-4 428 0-1 6-3 8 0 12 2 8-4 2-1 2-1 4 2 1 4 0 4-1 4-3 2 3 6 2 10 1 6-2 8 2 8 0 6 1 8-2 6 1 4 3 6 2 8-1 12 1 10 3 12 1 8-2 10-1 1-3-5-10-13-20-9-18 148 0 0 108-2 0-3 4 1 3 4 0 0 37-4-4-3-8 0-4-1-3-10-5-6-6-2 0-3 2-3 6-3 2-5 0-8-2-8 0-13 4-5 6-5 4-9 13-6 4-16-1-4-2-6-6 2-2 0-2-2-6-2 2 2 8-2 18-6 5-6 2-3-3 0-4-2-28 0-8-1-10 4-3 8 2 5 5 1 7 1-13 7-8 3-6-7-2-6 2-10-5-14 5-1 4-5 5-13 3 2 4 9 6 2 2 4 6 2 8-3 12-3 5-4 4-14 6-6 0-10-7-8-3-3-5 0-4 4-6 0-8 2-4-2-8 1-2 4-3 2 0 4 1 3-2-5-5-4 0-6 4-6 2-8-1-14 3-3-3-4-6-5-2-8 5-10 0-6 3-8 5-16 0-3 3 0 4-3 3-6-5-14-1-1-1-1-4-6-1-10 2-10-4-2 0-4 2-6 0-4 1-3 4-2 8-1 2-22 4-10-4-6-5-8-12-3 1-2 4-3 1-1 7-3 3-2 0-4-3-4-1-6 2-4-1-12 5-2-1 1-10-1-6-2-2-4 1-2-3-2-1-6 4-2 1-6-4-8-2-14-2-2 1-3 3-1 8-10-2-6 2-4-2 0-2 5-2 1-2-2-2-6-1-6-4-4-5-6-2-1-2 0-4-3-6-14-11-20 3-6-6-2 0-6 3-12 2-2-2-1-7-2-2-11-1-6-4-2 2-2-1 2-4 0-4-2-6-5-6-3-6-2-2-4 0-2-2-3-6-6-8-5-3-4 1-2 2-10-2-5 2-1 2 6 6 0 2-2 1-9-1 0-2 5-6-4-3-6-1-8 4 1 4 5 4-3 4 0 2 5 3 6 1 6 4 4-1 2-5 2-1 2 1 2 8-2 5-2 2-6-2-4 1-4 5-2 1-6 0-6-5-2 10-2 1-6-5-8 8-2 0-1-3 2-6-2-6-1 0-4 2-2-1-2-1-3-8-5 0-2-2-2 5-6 2-1 1 1 3 2 2 6 1 4-5 2 1 1 2-1 2-4 1-4 6-3 1 1 1 4-1 4 4 0 6-6 7-2-1-2-11-4 0-4 3-2 1-6-3 0-2 5-6 1-4 0-2-7-6-3-11-2 0-5 3-5 2-2 1-1-1 1-4-5-4-1-8-3-2-4-12 5 0 6-3 1-3 0-4-1-3-2-2-6 1-2-1-2-3zM733 241l-4 1-6-1-3 2 2 4 9 11 7-5 1-2-2-8-2-2zM807 245l1 4-1 2-5 2-1 2 6 1 3-1 1-4 2-2 0-2-4-3zM732 269l-1 2 2 4 2 2 2 1 2-1 2-2 0-2-3-4-3-2zM1354 315l-5 3-3 5-2 4 3 2 4 0 4-6 4-4 0-2-1-2zM1424 321l-3 4 1 4 7 1 2-1 1-4 0-2-4-2zM689 222l0-1 4 0-2 3-2 1zM1275 231l2 0 1 4-3 2-2-2zM1209 245l2-1 2 1 4-2 1 2-7 6-2 0-2-2zM641 267l8 4 4-1 0 3-4 1-4 5-3-2-3-6 0-2zM617 280l2-1 6 2 2 2-7 10 0 4 2 2-4 2 1 2 11 12-1 3-2 1-12 2-3-4-5-4-3-4-1-4-4-5-4-3 0-2 2-4 2-1 10 1 4 3 3-1 1-2-2-8zM647 304l4 1 1 2-1 4-2 2-4 3-12-3 2-4zM895 318l2 1 1 2-3 1-2-1zM649 329l2 1 1 3-3 6-2 2-2 0-3-2 0-4 3-4zM619 331l5 2 0 2-1 2-4 0-2-2-1-2zM653 346l10 0 4 2 4 11 0 8-2 6-4 4-6 2-6 0-3-2-2-4-1-20 2-5zM607 371l3 4-1 1-3-3zM365 383l4 0 0 2-4 0-1-2zM1445 400l4 1 0 5-4 4-2 0-4-3 1-2zM403 403l4 0 4 4 8 2 18-1 2 1 4 4 0 4 4 4 2 4 6-2 4 2 1 2 1 2-2 2-4 3-4 0-8 6-4 1-6-1-6-3-4 4-3 2 3 2 3 4 0 4 2 4-1 9 6-2 3 5-2 6 3 6 0 6 2 2 0 8-1 4-3 4-6 0-2-1-1-3 1-8-3-10 1-2 7-4-2-4-5-4-4 2-4-1-4 3-2-1-2-5-1-6 1-2-2-3-4-1-5-10-1-1-2 5-2 2-6-3-2-3 1-4 7-6 1-6 3-2 0-4 4-2 4 0-1-4-5-2 0-2 3-4zM1275 403l14 7 2 3 0 2-6 8-12 2-4 0-3-4-2-12 0-2 3-2zM1219 429l1 0 2 2-4 0zM1181 433l2 0 3 2 0 2-1 3-6-1-1-2 1-3zM373 488l4 0 4 3-1 6 2 4-1 6-2 3-2 0-4 0-4-3 1-12zM391 489l6 2 3 2 0 2 0 4 2 4-1 8-1 2-3 1-4 0-5-5 1-4-2-4 1-4 0-4zM409 490l4 0 2 5-2 1-4-1zM583 589l6-2 5 4 1 4-2 8-2 2-6 0-4-1-7 11 1 6 4 2-1 2 0 4 5 6-1 6-3 4-2 2-3 0-3-10-7-2-4-4-5-1-5 1 2 4-1 4-2 2-6-1-6 4-3-1-1-4 1-8 5-4 0-3 2-1 4 1 10 0 2-5 0-10 2-6 2-2 10-3 4-3 4 0 2-4zM493 590l8 1 3 4 0 4 4 4-2 8-1 1-6 1-2 0-2-4-8-8 0-6zM383 617l8 1 2 1 1 8-1 3-2 2-8 0-2-1-2-8z"/>
<path fill="#9c4334" d="M213 221l24 0 3 8 0 12 3 3 6 2 6-2 8-9 2 0 2 4 0-2 2-1 4-1 2-6 6 3 8-2 4 0 8-7 6-2 8 1 2-1 21 0 5 6 2 0 4-2 4 1 2-1-2-4 6 0 3 4 0 4-3 4-2 1-2 0-1 1 7 3 2 5 1-6 1-2 6 1 7-3-8-12 13 0 1 4 5 4-4 6 0 3 2 0 2-2 6-1 3-4-1-4-4-3-1-3 47 0 2 4 8-1 2-3 94 0 0 6 2 5 2-1 2-3 2 1 3 2 5 9 2 1-8 8 0 2 2 2 4 2 2 5 6-1 3 2 1 2-2 2-4 2 2 8-1 4-3 1-6-4-4 1-1 6 3 4 4 4 4-1 2 1 5 8 1 3 0-9 2-2 2 1 2 1 1 4 0 2-2 2 0 2 2 2-1 2-4 6-2-1-2 1 4 0 2 1 2 7 4-1 4 3-3 12-3 2 4 7 6-3 2 1 6 6 3 1 2 2-1 8 2 4 6-2 2 2-2 6-8-1 0 3-4 2-1 10-5 6-2 1-4-1-2-1-1-7 3-4 0-6 2-1 0-1-2-5-5-3-1-10-4-1-3-3 0-4 2-4-1-1-4 0-6 5-6-2-8 1-2-2-4 0-2 1 4 4 2 8 2 0 2-1 2-3 2-1 2 3-2 4-7 8 1 8 4 0 2 4-1 2-5 2 1 2 2 4 3 2 4 9 6 6 3 1 1 2 1 4 2 4 3 2 1 6-3 4 0 4 6 1 6-7 2 1 6 3 0 9 2 1 2-2 3-6 0-2-5-6 0-2 1-2-3-4 1-2 5-8 14-7 4 2 4 0 7 5 7 18 2 2-1 8-4 10-5 4 5 4 1 8 2 6-2 6 0 6-1 8-2 4 5 6 2 4 5 4 1 2-1 14-5 6-2 8 2 2-1 6 1 4-1 4 3 8 1 8-7 10-3 14 3 3 2 7-1 6-1 3-10 4-2-1-2-2 0-12-4-3-4-9 1-8 3-6 0-5-6-3-1 6 2 8-1 2-8 11-2 1-2 0-4-4-2-4-4-4-2 2-6-4-1-4 3-3 4 0 2 3 2 1 0-1-2-10-4-4 0-2-2-4-8 1-8-3-2-2 1-6-3-3-1-3-11-10-1-2 1-1 8-3 1-2-2-2-1-2 5-8 0-4 4-12 1-2 12-9 3-5-1-3-3-3 1-2-5-6 2-16-1-1-4-1-1-4 0-4-5-5-12-1 7 16-2 2-6 2 3 8-1 2-2 2 0 4-1 1-10 7-4 0-8 3-4-1-7 8 0 4 1 1 4-4 2 0 4-1 4 3 4 0 9 3 2 2 3 6-2 4-8 6-4 1-6-2-8-10-2-5-2 2-4 14-5 8 0 6-1 4-4 1-4 0-8 8-4 3-4 1-2 3-4 3-2 0-8-3-1-2 1-8 8-6 2-4 2-8 8-8-1-2-3-4 0-10 4-3 6-1 1-2-2-6 3-6-2-4 4-5 2-1 2-2-2-1-4 3-4-1-5-7 1-4 2-1 6 0 2 0 2 3 6-2-6-2-2-2-1-8-5-10 2-4 0-2-4-4-6-10-4 5-4-2-4 0-2-3-6 1-3-3 1-2 2-2 2 0 6 3 12-3 1-2-4-12-5-2-2-2-2-5-2 0-2 3 3 4-2 4-3 2-10-6-7 4-1 3-4-1-2 3-6 0-10-5-4 1-2-1-2-4 0-2-16-13-1-5-6-8 0-2-2-4-1-6 1-6-1-3-9 5 1 4-3 4 0 4-9 11-6 1-4 2-6 5-6 0-5 1 1 2 5 2 1 4 3 4 1 10 2 0 6-3 4 0 3 3 1 3 3 3 1 4 2 0 0 13-4 1-4 3-2 0-4-3-8-1-6-7 1-4-1-7-1 5-3 2-2 0-1 2 0 4-3 5-9 3 3 2 4-3 4 3-4 10 0 4-4 5-6 1-4-4 0-12 3-6-3-1-12 1-10 3-5-1 3 12 0 2-2 2-4-4-6 1-6-3-16 8-6-3-3-3 0-8 4-4 2-6-3-10 0-2-2-8-4 3-2 0-2-1-1-4 3-5 2 0 2 1 2 2 1-6 3-4-1-4 1-8-10-1-3-1 0-2 9-9 4 3 1-2 0-2-2-2-1-5-4-5-4-1-2-5 4-3 6-1 2-2 0-4 0-2-8-2-9 0-1 2-1 12 1 26-3 6-2 16 2 10-2 6 0 6 1 8 6 6 0 6-2 2-6 0-6 4 0 6-4 3-4-2-6 0-2-1-1-10-1-2-4-1 0-20 5-5-1-4-4-2 0-174zM457 227l0 2 2 7 3-5-2-4zM425 231l-1 2 5 0 2 0 1-2-5-2zM317 233l-1 2 4 0-1-3-2 0zM251 251l-3 4 7 0 4 3 4 1 3 8 5 5 2-3-3-10 1-2 0-3-2-1-4 1-8-5zM363 251l-2 1-3 7-5 1-4-3-2 6-4 3-4 0-3-1-5-8-2 4 0 4 2 4 2 2 0 4-2 4-2 0-4-4-2 0 0 3 4 3 0 4-4 4-2 6-3 2 1 2-7 6-2 4 1 4-1 4-3 2-3 0-4 8-3 2-4-2-1-2-3-3-2 1 5 6-1 2 0 9 12-8 2 0 2 2 8 2 6-8 2-1 4 2 4-1 6-1 4-1 4 1 4-1 3 3 3 0 2-5 2 0 4 3 2 4 2 1 1-9 2-4 7-4 12 0 2 2 2 1 2 5 1-6 2-4-1-4-2-2 0-2 4-4-2-3-4 1-1-2 3-4 2 0-1-4-1-12 3-6-1-1-10 8-4-1-3-2-2-4 3-9-4 2-6 1-5-2-2-2 2-6zM548 265l-10 2 3 7 3 1 5-2 2-3 0-3-1-2zM523 269l-1 2 1 2 4-2 0-3zM441 271l0 4 2 2 1-4-1-4zM254 295l3 8-1 2 3 4 4 8 2 1 6-2 0-3-5-8-1-6-10-5zM568 307l-2 2 1 2 2 1 1-1 0-4zM503 311l-2 1-1 3 1 2 2 1 3-3-1-3zM303 341l-2 4-4 3-4 0-2-3-1 2 0 2 3 0 3 4 1 8 6-8 2-4 0-6zM311 357l-2 2-4 2 1 2 3 2 2-2-1-2 2-2-1-3zM497 357l-5 2-2 2 3 6 5 2 5 8 2 1 4-1-1-14-7-6-2-1zM229 373l-4 6-7 8 0 2 1 1 5 1 3 4 2 0 3-14-1-8-2-2zM223 403l-2 0-1 2 1 2 6-1 1-1 0-2-1-1zM501 415l-4 4 2 2 4 0 2-2 0-3-2-3zM544 431l-2 2 3 2 2-4zM582 463l-3 2 1 2 3 2 2-2-2-5zM606 507l-1 4 2 2 0-7zM283 221l2 0 6 0-2 2-2 1zM573 223l2-1 2 3 0 4 4 4-1 2-2 2-1 4-1 2-7 2-6-4 7-4 1-2-1-4 3-4zM667 221l9 0 3 12-4 1-2 0-1-7-4-4zM795 221l13 0 0 4-7 5-2 0-4-3-2-6zM813 221l107 0 1 1 0-1 90 0 0 2 3-2 93 0 0 4 0-4 16 0 4 3 1-3 28 0 3 1 2-1 28 0-4 14-1 16-4 10 1 4 2 2 12 0 54 3 18 4 8-1 32 4 12-1 12 2 5-1 0-2-4-4-5-12-14-18-9-20 145 0 0 94-3 0-5 4-6-2-10 0-14 4-1 2 1 1 2-2 1 3-7 8 1 4 2 4-1 2-4 0-8-5-4 1-4 4-4 2-8 7-16 23-4 4-4 1-12-1-6-4-5-26 1-4 6-6 6-2 10 0 3-4 2-8 4-6 0-4-1-4-2-1-8-1-2 0-7 10-7 3-16-9-12-1-4 1-2 5-2 1-8-3-8 2-10-9-2-1-3 3 1 8-2 4-2 1-4-4-7 3-3 4-1 8-1 2-2 1-10-2-4 1-2-1-9-11-5-1-6 1-3 2-1 3-6 2-8 0-10 4-6 0-3 1-3 2-2 0-1-2-3-3-2 2 0 5-14 4-3-6-3-1-12 0-6 3-2 0-8-4-3-4-9-4-2 0-3 2-2 4-9 8-1 4 1 6-2 3-6 2-12-1-8-2-2-4 0-6 5-4 0-6 1-2-2 0-7 2 0 2 2 2-1 1-4-1 1-4-1-4-10-6-4-1-4 1-11 6-3 3-6-7-4-2-6 0-2 2 0 7-2 2-6-3-12 2-2-6-6-1-2-1-8 3-4 0-4 1-4-1-8 4-6-3-1-2-5-5-8-3 1-6-1-1-2-1-2 5-2 1-4-2-3-4-5-4-6-12-20-13-2 0-4 3-1-4-3-1-2 1-4 6-4 3-8-2-1-1 4-4-1-2-4-5-2 0-4 1-2-4-8-10 1-6 6-8 1-6-6-8-10-7-12 7-4-2-1-2 0-4 3-3zM968 237l-3 4 2 3 3-5-1-3zM931 289l2 3 2-3-2-2zM1037 301l-2 2 2 3 1-3zM964 311l3 1 2 0 1-1-1-1zM833 279l2 2-1 2-3 3 0-3zM1015 336l2-1 2 2-1 8-1 2-5-4 1-4zM1277 346l2 0 8 4 6 4 5 7 1 6-1 6-3 9-6 4-12 5-6-1-8-6-10-2-1-5 1-4 6-2 2-14 3-6zM1313 345l6 1 3 3 4 24-2 18-3 3-4 1-2 0-2-6-2-28 0-14zM657 349l6 0 3 2 3 8 1 6-1 4-2 4-4 3-6 1-4-1-3-3-1-18 2-5zM1271 407l4-1 4 1 8 5 1 3-3 5-12 3-4-2-2-10 1-2zM409 408l8 3 14-1 4 0 2-1 4 4 1 4 5 6 2 4 6-3 4 3 0 2-6 4-2-2-2-3-1 7-7 4-10-1-4-5-2-1-1 7-7 4 8 6 0 4 1 4-1 10-4 3-9-3 1-4-2-4-4-5-2 0-3-1-2-6 1-4-4-2-4 6-3-2 0-2 5-6-1-6 4-4 1-4 9-2 1-3 0-1-2-4-1-2zM311 430l8 0 6 5-1 2-5 4-1 6-3 4-8 1-4-3-1 4 1 6 4 4 4-1 4 1 0 6-4 2 0 2 5 4 0 6 5 6 4 8 1 6 5 5 4 3 2 6 4 4 6 11 6 7 0 6-1 4 1 2 6 2 0 4 2 4-1 4 1 6 4 4-1 8-1 3-2 1-6-1-1-1-2-4-5-6 0-7-2 0-6 5-2 0-3-4-4-10 0-8-2-8-4-6 1-4 0-4-4-4-2-6-4-4-4-10-5-4 2-8-1-2-7-8-2-6-3-4-4-9-2 1-10 0-6-5-2-3 0-2 2-3 4 1 1-2 1-5 6-3 4 1 6-1 7 2 1 3 1-9 5-7zM239 434l2 0 1 1-1 2-3 0zM431 479l2 0 2 2 1 6 2 4-1 10-2 3-4 0-3-1-1-2 1-8-3-10zM375 488l2 0 3 3-1 6 1 8-1 3-2 1-4-1-2-1-1-2 1-12 2-4zM391 490l6 2 2 3 0 4 1 4 0 6-1 3-2 1-4 0-4-4 2-4-3-4 2-4-1-4zM649 495l2 0 2 2 0 2-2 2-4-1-2-1 0-2zM585 589l4-1 5 5-1 6-2 4-6 0-3-4-1-6 1-2zM493 591l8 1 2 3 0 6 2 8-1 2-5 1-2-1-1-4-3-1-5-5 1-6zM575 599l2-2 2 1 1 3-5 7-2 2-2 0-2-5 1-2zM561 608l2 1 0 3-2 0zM383 618l8 1 2 2 0 6-2 4-8 0-2-2 0-6zM547 627l2 0-1 4 2 4-1 3-6 1-6 3-2 0-1-5 2-6 3-1 4-1z"/>
<path fill="#82200f" d="M213 221l21 0 4 8-1 12 6 6 1 12 7-3 4 1 5 6-1 6 10 6 4 4 1 4-2 6 1 4-2 3-2-1-3-4-7-1-4-4-2 0-4 3 0 2 5 6 2 6-2 2 3 4 4 10-2 2-12 0-3 2-2 28 1 10-3 8-2 16 1 8-2 8 0 16 2 4-6 2-2-1-4-2-6 0-2-3 2-2 6 0 2-3 2-7-1-6 3-6 1-26-3-13-6 10-5 5 3 4-2 5-4 3-6-3 0-157zM228 323l-3 2 0 2 2 14 3-2 1-8 0-6-2-2zM323 221l7 0 3 4 6 2 3 4 1 6 4 2 4-2-5-4-1-4 2-3 4 0 3 3 0 2 0 2-2 2 7 6 2 6 4-4 0-6 6 0 6-2 6 2 2 3 2 1 2-4 2-1 8 0 6-6 2-5 2-1 2 1 3 0-1-4 5 0 0 4 5 10 4-1 4 2 4 0 2 1 2-1 4 3 4 1 6 3 1-2 5-3 4-5 10 0-2-2 0-2 1-2 2-2 0-2-2-2 69 0-1 8-3 4-8 3-6 1-2 2-1 6 4 4-1 8 2 4 4 0 3 2 1 3 4 1 1 2 0 4 3 3 10 2 1 1 0 6 3 3 2 1 4 4 4-1 4 3 2 4 0 4-9 6 1 2 13 4 1 2 0 4 2 2 4-1 2 1 0 4-2 7-2 1-10 2-6 5-6-2-6 1-2 0-2-4-2 2-6-4-4 4 1 2 3 1 5 3 1 2 1 6 3 4 0 2-3 4 2 12-1 2 2 6 2 4 4 3 3 7 3 2 2 4 4 0 1 2 1 4 3 6 1 4-6 7-8 1-8-2-14 7-1 5-4 6 5 2 4-3 2 3 6 4 2 2 1 4-1 2-2 2 0 4-10 7-4 0-8 3-6-2-2 4-4 6 0 4 2 4 0 2-3 6-1 6-6 8 0 10-4 2-4-1-8 9-4 3-4 0-4 5-3 2-7-2-2-2 2-4-1-4 7-4 4-6 0-2 2-2 1-6 6-6 0-2-4-4 0-8 3-4 6 0 3-4 0-2-2-2-1-2 3-6-2-4 3-4 5-2-1-4-2-1-4 4-4-1-2-2-2-6 2-2 6 0 4 4 2-1 4-1 2-2-6-2-2-2-2-4 1-4-3-10 6-1 4-3 0-8-2-3-6-5-1 0 0 6-1 3-2 1-2-1-7-31 4-8 3-1 2 1 2 4 2 0 6 4 4-2 2-4-2-16-8-6-2 0-6 3-12 1 0 2 4 2 1 2 1 10-6 4-2 0-3-6-3 0-5 6 2 4-1 4-2 1-6-5-4-1-10 7-2 0-2 1-4 1-12-5-4 0-3-3-1-4-16-12-1-6-2-2-2-4 1-2-4-4-1-6 1-6-1-4-1-1-6 4-3 1 0 6-3 4 0 2-3 6-3 2-2 3-6 2-6 3-4 4-6 0-4 1-4 3 3 2-12 2 3 4 6 1 3 1-3 6 6 0 2 6-3 8-5 2 0 6-3 4-9 3-6-2-16 4-8 0-4-2-6 3-6-2-4 0 3 6 0 2-7 4-2 4-8 3-6-3-1-2-1-8 7-6-2-10-2-4-1-10 0-8 3-6-1-6 2-8-2-4 2-8-2-2-2-6-3-4-1-2-3 0-1-2 0-2 2-2 8-2 2-6 8-3 4-3 2 1 6 0 5 5 0 2-1 2 1 6-2 8 1 6 4 0 1 2 1 8 4 2 6 1 4 4 8 2 4-1-3-4 1-6-2-2-2 0-4-4-2-2 1-6-1-4 0-1 2 0 2 3 8-14 2 0 4 2 4-2 8 0 2-1 8-1 2 3 4 0 4-5 4 4 2 5 4 1 2 0-2-6 0-6 2-4 2-1 6-2 10 0 1 3 3 2 2 6 2-6 0-4 4-10 1-6-1-6-2-2-2-4 0-6-1-4 1-4 2-2 0-3-2-1-10 8-4-1-4-5 3-6 1-8-2-2-2 6-2 2-10 0-2-2 0-2 2-2 0-2-4-6-2-1-4 9-2 1-4-1-2-4-3 0 0 8-3 4-4 1-3-3-3-8-4 1-2 5 0 4 5 6 1 2-1 2-1 2-2 0-4-3-4 1 2 4 2 2 1 4-3 3-2 5-4 2-1 4-5 6-2 4 1 4-1 3-2 2-6 1 1 4-3 2-4-2-4 0-3-2-9-1-6-4-6-11 0-4 4-3 8-1 1-4 5-4 1-4-1-2-8-4-3-8 0-2-2-6 1-8-1-2-3-3-4 0-2-3 4 0 3-10 13-2 4-2 6 3 12-1 2-1 2 0 4 3 10 1 1-1-3-10 0-6zM478 227l-1 4-4 2 4 1 3-3 2-2-1-2-2-1zM510 251l-3 2-4 10-6-4-8-2-2 0 0 4 4 5 4-3 4 1 1 1-2 4 0 2 2 2-1 2 3 2 5-2 4-6 2 0 3 0 0 6 1 0 2-1 8-1 2-2-1-4-3-3-2 0-4 3-2-1-5-5 1-10zM434 261l7 6-3 4 1 6 4 1 2-3 0-4-1-2-3-2 0-4-4-1-2-1zM498 293l-10 2 0 2 2 6-1 2 4 4-2 1 0 3 1 4 5 4 2 0 1 2 5 2 2-3 0-17-8-13zM553 301l-2 2 2 6 2 0 2-1 4 0-1-3-5-1zM331 343l3 4-1 4 4 2 4-5 6 1 0-7-4 0-6 1-4-1zM313 383l0 4 4 1 1-1-1-2zM301 385l-1 2 1 2 2 0 1-4-1-1zM331 385l0 4 4-1 2 1 1-2-3-3-4 0zM287 395l0 6 1 6 3 2 4-4 0-3-1-3-4-4zM511 467l-1 2 1 2 3-2-1-4-2 0zM425 221l2 0 9 0-1 4-4 1-6-3-1-2zM831 221l2 0 8 0-4 1-2 3-2 0-2-1-2-3zM859 222l0-1 60 0 0 2 4 1 1-1-1-2 3 0 0 2 1 1 1-3 29 1 9-1-1 2-2 0-3 2 3 1 2-2 4-1 0-2 41 0-1 2 2 2 4-4 51 0 1 2 2 0 2-2 34 0 0 2-3 2 5 1 1-1 0-4 14 0 3 4 2 1 4-1-1-4 23 0 0 2 2-1 4 2 5-3 23 0-2 8-4-2-3 2 1 3 4 0 0 1-2 18-2 10 0 6 3 2 5 1 20-1 36 3 8 0 4 1 0 4 6 4 1-2-4-2-1-2 2-1 6 2 10-1 8 2 26 2 8-1 10 3 8 0 4-1 10-7 0-4-1-2-5-7-5-3-3-4-2-6-2-1-4 4-3-1 0-2 4-2-1-5-4-1-4 4-4-2-3-10-6-10 22 0 1 4 6 3 3-1-2-6 16 0 3 2 2-2 16 0 1 8-7 4-6 0-2-2-2 1-3 7 1 1 12 1 6-1 6-7 3-2 0-10 67 0 0 46-3-4-1-1-2 0 4 7-7 8-1 6 1 4 5 6 4-2 0 19-10 3-14 0-8 2-16 2-6 2-9 10-1 2 1 4-7 8-3 6-13 20-4 5-2 1 0 2-6 2-4-2 0-2-5 0 0 2-1 0-4-4-1-4 1-2-2 0-3-14 0-6 3-3 4-2 8-3 6 0 2-1 3-5 2-6 4-8 1-10-2-4-2-1-4-1-3-2-5-1-2 1-4 5-2 0-4-2-4 1-3 0-2-2-1-6-4-4-1-4-3-2-14 7-6-3-4 0-4 4 0 8-2 3-8-1-6-4-8 3-6-2-2 1-4 8-10 3-6-2-4-4-2 0-6 3 4 8 2 0 0 3-2-1 0-2-6-2-4-2-4 1-4-3-6 1-6-3-14 4-7 6-13 5-12-1-10 6-12 0-8 3-1-1 0-2 4-4-3-4-6-2-14 1-4-4-2 1-4 5-6 2-4 3-2-1-1-3-2-2-4-2-5-1-6 2-4 2-10 0-14-4-10 2-6-1-14-6-4 0-10 10-6-1-8 1-12-5-8 0-8-2-2 1 1 4-3 1-6-2-5-3-2-4-1-6-2-1-16-2-8-6-4-6-8-3-10-10-4-8-8-4-2-4-2-1-6 2-7-1-5 5-4 1-2-2-2-4-4-2 0-2 8-8 2-5 10-5 8-1 2-3-6-8-6-1 0-3zM1417 227l-3 4 1 2 5-2 1-2-2-3zM1435 229l-2 6 3 2 0 4 3 1 1-3 0-8-3-3zM968 235l-4 6 3 5 4-7-1-4zM938 239l3 2 2 0 1-2-5-1zM1169 239l0 3 3 1 0-2zM1345 241l0 2 1 2-1 2 2 3 1-1 0-4 1-2-2-3zM976 243l1 2 4-2-2-2-2 1zM1091 245l-1 2 1 2 2-2zM1096 247l4 4 0 2 1 1 1-3-1-3-2-2-2 0zM868 249l-2 2 2 4 5 4 6 0-6-6-2-4zM1107 249l-2 2 2 1 5-1-1-3zM1061 253l-2 1-4-1-1 2 3 2 4-1 1-3zM1035 255l0 2-4 2 0 2 3 0 1-4 2 0 2-2zM901 257l-1 2 1 1 2-1 1-2-1-1zM913 257l-1 2 1 1 2-1 0-2zM973 257l-3 2 3 2 2-2zM888 259l1 2 2 1 1-1-1-3zM1425 259l1 2 3 1 5-3-1-2-2 0zM1071 261l0 3 2 1 1-2 0-2-3-1zM1163 261l-1 2 1 1 2 1 3-2-1-2-2-1-2 0zM1081 263l0 2 4 3 2-3-4-2zM1089 267l1 4 3 1 1-3 0-2-3-2zM967 273l0 2 3 0-1-3zM982 273l1 4 4-2 0-2-4-2zM1173 273l-2 2 0 3 3-1 2-2-1-2zM1219 275l0 2 2 1 2-1 0-2-2-2zM1418 277l-2 2 1 2 2 0 2-2 0-1-2-2zM1210 279l-2 4 1 2 4 1 3-1-4-2-1-4zM1120 281l-4 2 1 4 7-6-3-1zM1237 283l5 4 1 3 2 0 1-1-2-4-5-3zM1367 283l1 2 2 0 0-2-1-1zM1127 285l-1 4 1 2 2 0 2-4-2-3zM1355 285l0 3 2-1 3 0-3-3zM930 287l-1 2 4 5 2-1 2 3 3-3-1-2-2-1-2-3-2-1zM1286 287l-1 2 0 2 3-2 1-2zM1202 293l-4 2 1 3 2 0 3-3-1-2zM1444 295l-1 2 2 2 2-2-2-3zM1037 299l-2 2-3 2 5 4 3-2-1-7zM1114 303l-2 2 3 1 3-3-3-1zM1119 303l2 3 2 1 2-2-1-2-3-1zM1409 305l4 5 2 1 3-2-5-5-2-1zM1425 305l-1 2 1 1 3-1-1-3zM963 309l-3 4 1 3 2-2 4 1 3-2 1-2-2-3-2 2zM1027 309l2 4 2 1 0-6-2-1zM1158 313l1 1 4-1-2-2-2 1zM1168 313l-3 2 0 2 4 2 2-2 0-2zM1388 315l-1 2 2 1 2-1 0-2-2-1zM847 226l2 0 1 3-3 5-2-3 0-2zM449 233l4-1 2 3-4 4-2-2-1-2zM853 235l2 0 0 4-2 2-2 0-2-2 0-2zM537 250l4-1 4 4 4-1 2 1 4 4 1 2-1 2-14 5-4-1-3-2-2-6zM555 266l2 0 2 3 1 2-1 2-4 0-1-2zM575 292l2 1 2 4-2 3-2 0-1-3 0-4zM1317 295l4 2-2 4-4-4zM497 303l2 2-1 4-1 3-2 1-2-6zM575 303l3 2 0 2-3 3-2 1-2-2 0-2 2-3zM1079 337l2-1 0 4-2 0-1-1zM577 340l2-1 2 1 2 1 2 5 6-4 2 1 9 8 0 8 3 6-3 2-1 4-4 2-1 10-2 2-1 2-2 1-4-1-2-2 1-4 3-4 1-10-7-7-1-9-1-1-4-1-1-2-1-4zM659 351l4 0 2 2 3 6 1 8-1 2-3 4-8 3-4-2-1-3-1-14 2-5zM1271 350l4 0 2 1 2-2 10 4 5 4 3 8 0 6-2 3 0 5-6 6-12 4-2 0-10-7-6 1-4 0-2-2-1-2 1-4 9-4 2-14 2-4zM1313 351l4-2 4 2 2 12 0 26-1 2-3 2-4-1-1-3-2-24zM607 363l2-1 3 1-1 4-2 1-4-3zM363 393l4-2 4 3 0 3 4 3 3 9 1 4-2 3-4 0-2 2-2 0-4-3-6 1-4-3-3-4 1-4 1-8zM611 399l4-2 4 2 4 0 5 4 6 12 2 6 1 2 0 8-5 10-5 4 6 6 2 12-2 4 1 8-1 6-3 6 14 16-1 14-4 5-3 9 1 2 0 6 1 4-1 4 3 8 0 8-6 10-1 10-2 4 0 2 3 2 1 12 0 2-4 0-2 2-4 2-3-2 1-12-1-2-5-3-3-7 1-8 4-6-1-4-1-2-6-3-2 1 0 6 1 6 0 4-7 9-2 2-2-1-3-2-2-4-4-4 0-2 3-4 0-2-4-10-3-2-2-6-3-1-6 1-8-3-1-3 1-4-1-2-2-2 0-2-6-6 0-2-3 0 3-6 5-2 3-2-7-2-1-2 6-10-1-2 4-12 2-2 5-2 7-8 5-8-2-8-6-2-2-4 0-6 5-7 6 2 4 0 2-2 2 2 1-5 4-4 4-6-5-10 1-4-2-4 1-4 4-4zM607 459l-2 2 1 2 3 4 2-5 0-3zM604 503l-1 2 1 8 3 2 0 2-3 2 3 1 3-1 2-4-3-4-2-10zM590 505l-2 8-2 2 3 2 8-6 0-2zM621 529l-1 6 1 7 2 0 2-3-1-10zM411 409l4 2 22 0 3 2 1 2-1 2 1 2 5 4 2 4-2 8-3 3-4 0-6-1-5-4-1-10 2-2-2 0 0 6-4 6 0 4-10 8 0 2-3 2 2 4-1 2-3-2-3 0-2-1-2-5 0-2 2-2-7-4-1-8 6-8 4 0 9-4-6-6 1-4zM1271 410l2 0 8 1 4 4-1 4-7 2-5 0-2-6zM329 421l2-1 4 2 6-2 1 1-4 10 0 4-3 4-4 1-3-1-2-4 0-10zM451 427l4-2 3 2 0 2-5 3-2-3zM313 431l6 0 4 4-1 2-5 4 0 4-2 4-2 1-6 1-2-2 0-8 4-6 0-2zM285 445l4 1 6-2 6 2 1 3-1 2 0 4 2 7 4 3 4-2 2 0 2 2-1 4-3 0-2 4 6 5 1 1-2 4 6 6 5 14 4 6 4 1 2 3 2 6 14 20 1 12 6 4-1 2 3 4-1 4 1 6 3 5 0 7-2 3-2 1-4-2-2-4-5-6-1-4 2-2-1-2-5 1-2 3-2 1-2 0-2-3-4-10 0-8-2-8-4-6 1-6 0-2-4-4-3-8-3-2-3-10-6-6 2-6-2-4-5-6-2-6-6-8-1-6-12 1-8-5 0-5 5-1 3-6zM417 446l7 3 0 4 1 4 0 2-2 4 0 4-2 1-6 0-1-3 0-4 2-4-2-4zM431 480l2 0 1 1 2 10 0 10-3 2-4-1-1-1 1-8-3-8 0-2zM529 482l4 3 5 0 9 4 2 6 0 2-4 4-8 3-6-1-3-4-1-4-3-2-3-6 0-2 2-2 4 0zM373 491l4-2 2 2 0 14-2 3-4-1-2-2 1-12zM391 492l2 0 5 3 0 4 1 4 0 6 0 2-2 1-4 0-3-3 1-4 0-2-1-2zM647 496l4 0 1 1 0 2-5 0zM585 569l2 0 1 4-1 3-2 0-3-1-1-4 2-2zM585 590l4 0 4 3 0 4-2 4-2 1-2 0-2-1-3-4 0-4zM493 592l2-1 5 2 2 2-2 10 4 4-3 2-3 0-1-5-4-2-4-3 1-6zM383 620l8 0 2 5-2 4-6 1-3-1 0-6zM539 631l4 0 2-1 2 1 1 4 0 2-12 4-1-2 0-3 2-4z"/>
<path fill="#ffb3de" d="M213 221l13 0 1 2 5 4 3 8-1 8 5 4 3 10 3 4 6-4 4 1 3 5-3 5 0 6 2-1 10 4 3 4-1 3-8 3-10-6-8 6 4 3 1 3 5 4 1 6-1 3-2 1 0 1 2 0 2 1 3 8-1 2-10 0-4 2-2 8 0 16-1 6 1 10-2 5-2 0-2-5 1-10-3-6 1-12 0-10-3-5-7 3-5 6-8 2 0-23 2-2 1-3-1-2-2 0 0-78zM235 277l-6 8-5 4-1 4 2 3 8-1 2 4 4 3 4-3-4-2 1-2-2-2 0-2 2-2-5-8zM249 309l-2 2-3 0 3 2 2 0 2-2zM477 221l2 0 4 0-2 2-2 0zM493 221l4 0 0 4-2 1-2 0-1-5zM503 221l2 0 11 0-3 6-4 2-4-1-4-3 0-4zM525 221l6 0-1 6-1 2-2 1-4-1 1-8zM863 221l4 0 0 4-4 0-1-4zM873 221l39 0 1 3 0-3 5 0-4 4 1 1 4-2 8 1 3-4 12 0 1 1 3-1 9 0 2 2-2 4 2 1 12-4 1-3 39 0-1 2 3 3 5-5 31 0-2 1 0 2 4-1 1-2 14 0 3 4 0 4 2 1 1-1-2-2 4-6 32 0-3 4 8 2 2 0-2-2 0-4 4 0 2 2-3 2 1 2 2-4 4-2 3 0 1 2-2 2 1 2 7 0 4 2-1 2-3 2 2 4-3 2 1 3 2-1 0-4 2 1 2-3 0-6 2-4 3-4 10 0 3 4 2-2 6 2 0-2 3-2 20 0 1 4-6 2-2 5-2 1-6-4-2 1-2 3 0 2 2 2-2 4 2 3 6 0 4-5 2-1 1 1 0 14-3 8-1 6 1 2 6 2 3 6 0 2 1 2 2 0 2-5 2-1-2-2 4-2 2 1 14-1 4 0 2 2 0 4 4 2 4-2-1-4 1-1 18 3 6-1 4 2 4 5 1 4-1 1-4-3-2 2 2 3 2 0 3 3-5 4-2 0 2 6-8 6-6-9-7 1-1 4-4-5-1-1 1-1 5-3 1-3-2-1-3 2-1 2-4-2-2-2-2 2 0 4-4 4-2-1-2-2-1 1 1 5 8 3-2 2-4-3-2 3-4 1-6-5-4-1-6 4-6 1-2-2-2 4-2-3-6 8-10-5-4-1-2 3-3 2 1 2 7 0-2 4-3-1-2-2-6 0-4-1-2 2 2 4-5 2-1 3-2 0-4-5 2-4 2 2 3-2-4-6-3-1-6 5-1-2 1-6 5-4-1-2-4 1-4-1-8 0-5 4-1 3-4 2-4-2-2 1 0 4-4 4-2 4-8-3-4 1-12-2 1-2-1-1-2 0 0 1 2 2-2 2-2-1-3 1-3-1-4 2-8-1-6-6-2 0-2 2-2 0-3-8 1-1 4 2 4-1 1-2-2-8-1 0-4 3-4 1-2-1-1 3-3 1 0 2 2 1-1 2 1 4-2 1-2-2-4 1-6 0-2-2 0-4-2-2-6 4-8 1-4 5 1 2-1 2-4-6-2 0-2 2 2 4-2 3-2 0-5-3-5 0-2-2 0-2 5-4 0-2-3 0-3-4-1-4-2-1-4 1-5-4-1-2-4 1-2-1-2-2-1-4-1 0-1 2-1 1-2-1-6-7-7 1 1 2-3 2 1 4 2-1 6 5-2 3-6 3-6-2-4 1-5-5 5-5 0-5-1 2-3 1-2 0-1-1 1-2-4-2-2 4-4 1-4-1-5-6-1-6-4 2-2-4 1-2-2-4 1-5 4-2 2 1 2-2 0-2-2-2-4 0 0-2 2-3 4-2 4 0 1-1-4-2-4-4 1-2 5-4 0-2-2-2-3-1-2 2-10 1-4 2-2-2-3-6 2-4-1-4zM971 227l-1 6-1 0-2 2-3 6 3 7 4-5 4 0 2 3 10-5-2-6 1-2-3-5-2 11-8 1-1-1-1-6 1-6zM912 231l1 4 2 0 2-2-2-4zM940 231l-1 4-2-1-3 1 5 6 4 1 2-3-1-2 1-4-2-2zM1143 233l-5 4 5 4 6 1 4-3 0-7-2 3-6-2zM1110 235l-1 2 2 2 2 1 1-1-1-4zM1038 245l3 4 2 0 1-4-1-1zM1090 245l1 6 2-2 5 2 0 8-5 6-4-6-2 3-6-1-2 1-6-4-4 1 1 6 3 2 4-4 2 0 4 5 2 1 2-1 1 1 1 6-3 4 3 5 2-1 1-2-3-4 4-2 2-8 2-1 6 2 2-3 0 4-3 2 1 3 6 0 2-1-1-2 2-6-3-1-4 1-2-1-3-5 0-2 3-3 6-1 4 6 2-6 0-4 1-4-6 0 0 2-7 3-2-5-4-1-2 2-4-2zM902 247l-2 2 2 2-4 8 1 3 6-3 2-4-4-8zM913 247l-1 4 1 4-2 2 0 2 2 2 2 0 5-4 2-4 3-2-2-2-6-1-2-1zM935 247l-5 2 6 6 0 2 3 0 4 3 6 0 1-1-3-1-2-3 6-4-2-1-2 0-2-1 0-2-6 3-2 0zM1132 247l-5 9-4 1-5 4 5 2 0 2-2 2 2 5 8-5 4-7 4 0 4 2 2 1 0 2-2 3-3 1 0 4 1 2 2-2-1-2 1-1 6-2 2-4 2-1-2-4 4-4 1-4-3-4-4 7-6-2-8-5zM1061 249l-2 3-4 0-2 3 1 2 5 2-1 2 1 4 2-3 1-5 3-5 3-1zM1019 251l-4 4-3 0 1 2 6 3 3-3-1-2 1-4zM1035 253l-6 4 1 8 3 3 0-5 4 0 6-8-2-2-6-1zM1072 253l1 3 4 0 0-3-2-1zM964 255l-2 2 3 7 3-1 0-2 1-1 2 3 2 0 3-4-1-3-2-1-4 2zM983 255l0 2 2 0 1-2-1-2zM1161 259l-1 2 2 4 3 1 3-1 1-2-1-2-5-4zM919 261l0 2 2 2 2-2-2-3zM897 265l-4 0-1 2 1 2 6-2zM978 267l3 3 1-3-3-1zM970 269l-4 4 1 3 6 0 1-1-3-6zM982 271l-1 4 2 3 5-3 1-5-6 0zM1048 271l-1 2 2 3 5-1-1-2-4-3zM1170 271l0 6 1 3 1-1 4-2 1-2-2-3-4-3zM898 273l0 2 1 1 3-3zM1020 275l-3 4 6 0-1-4-1-1zM1042 275l0 2 1 1 3-3-3-1zM1100 277l1 4 2-3 5 1-1-3-2 0zM958 279l1 3 3-1-3-2zM1120 279l-5 2 0 6 2 1 2 0 1-3 4-2 1 2 0 4-1 2 5 1 2-1 1-4-3-4-8-5zM1159 279l1 2 3 2 4-2-4-2zM1208 279l-2 6 7 3 5-3-1-2-4-1 0-3-2-2zM1237 281l-1 2 4 4 3 7 2 2 2-11-6-3zM1058 283l0 2 1 0 2-2 4 0-4-1zM1168 283l0 2 1 1 2-1 0-3zM957 285l-2 2 1 2 3-1 4 4 1-1-1-4-4-1-2-2zM1098 285l-1 3 2 2 2 0 1-1-3-4zM1191 287l0 3 4-1-1-2-1-1zM1030 291l-2 4 1 3 2-1 2-4 0-2-2-1zM1120 291l-2 2 3 1 2-1-1-2-1-1zM1104 293l1 3 1-1 1-2-2-1zM1197 293l-1 2 0 4 1 2 2 0 4-3 2-3-1-2-1-2zM1045 295l1 2 4 0-1-2zM1075 295l4 3 2 0 0-2-4-3zM1167 297l4 2 2-2-4-1zM1063 307l-8 2-1 2 1 1 6 0 2-3 2 0zM979 309l2 3 2 0 2-3-4-2zM1401 222l3-1 7 1 2 3-2 2-3 12 1 8-1 2 5 4-2 6 1 4-2 4 3 4-2 3-1-3-3-2-3 2 5 4-1 8 5 4 2-1 2 2 6-2 2 2 2 0 3 1-2 2-3 0-2 2-13 2 5 4 2 0 4-2 2 0 3 4-3 1-2 4-2 1-4-2-4-3-4 1 0 2 4 4 1 2-1 1-12 2-4-1-2-3-6 4-1 3 3 4-6 8-2 0 1 6-8 12-9 16-2 1-1 3-3 4-2 1-2 5-4 1-3-1-1-3-6 0-3-1-1-8-3-10 0-8 3-3 10-3 8 0 4-6 4-12 2-3 2 0 0-5 1-4-1-4 2-6 2-2 2 2 2-2-2-3-9-1-1-2 2-4-5-6-2-6 7 1 1 1-1 4 2 5 4 4 3-1-2-2 0-6-2-4 8-8-4-2 1-4 4-4-6-5-1-3 1-2 4-2 2 2-1 2 3 5 10 1 2-3 2-1 4 2 4-6 0-2-5-6 1-2 2-8-2-2 0-6zM1399 259l2 4 2 1 1-3 0-2-3-2zM1391 261l-2 0-1 2-1 4 2 1 3-3 0-2zM1390 275l0 4 5 2 2 0 3-4-1-1-4 0-4-3zM1403 281l0 2-2 2 2 7 2-5zM1425 221l3 0 1 2-2 2-2 0-1-2 0-2zM1439 223l5-2 5 0 0 17-2 1-2 1-3-3 1-2-4-10zM409 225l8 3 1 1-1 2 0 2 4 3 2 1 4-2 4 2 8 1 4 3 4 0 6 4 2-4 4-2 4-4 18 0 4 2 8-3 4 1 6 7 2 5-2 6-2 2-8 0-4-1-2 1-1 6 4 6 1 4 1 4 0 4 1 2 8-4 8-1 8 0 2-1 10-2 2-5 4-1 2 2-1 4 4 4 5 0 6 3 0 5 4 4 2 1 4 4 4-1 2 1 3 5 0 4-5 4-2 0-2-2-4-1-2-1 0-2-2-2-4 4 2 2 0 4 10 4 4 0 10 3 1 1-1 4 4 4 4-2 2 4-2 2 0 3-14 5-4 4-6-2-6 1-2-3-2-1-2 2-4-3-8-1-2 3-2 0-2 0-2-3-1 3-2 2 0 2 5 3 2 0 4-3 2 0 6 3 3 3 0 6 3 2 1 4-2 4 1 4-1 10 3 8-1 2 7 4 2 8 2 0 4 5 5 1-1 4 4 6 0 4-2 3-8 4-12-2-8 6-4-1-5 12-4 2-1 2 4 0 6 1 4-1 2 2 4 1 3 3 1 4-3 4-1 4-10 6-8 2-4 0-3-2-4 0 0 6-4 4-1 8 3 4-1 4-2 2-1 6-5 6-1 4 1 4-1 4-3 1-4-2-4 2-2 5-2 3-4 3-4 0-8 7-7-3 2-4-1-2 10-10 5-12 5-6 5-4-1-1-4 2-3-1-1-2 0-8 4-3 4 1 4-5 0-3-3-4 3-6-2-4 3-4 5-2-1-4-2-2 0-2 7-2 1-2-1-2-7-2-1-2 1-2-2-2 1-2 2 0-1-8 7-6-1-10-5-8-2-2-8-2-2-6 2-5 2-1 16 3 0-5-1-4 1-4-1-12 1-4-8-5-2-3-8 4-10 0-4 4 0 2 2 2-2 4-4 2-4 0-4 8 2 4 0 2-2 2-6-6-4 0-8 5-2 2-2 0-4 2-16-5-4-3-1-3-3-2 0-2-6-3-6-5-1-6-2-2-3-8-3-2 0-2 0-20 7-20-1-12-4-6 0-6-1-6 3-4 0-4 1-2-4 0-10 9-2 0-2-1-2-2-1-4 2-4 2-8-3-4-1 4-3 5-4 0-6-1-1-2 2-2 0-2-5-6 0-2 3-4 0-4 1-1 6-1 2-1 4 0 4 2 2 5 3-2 1-2 2-2 14 1 2-3-1-4zM429 261l0 3 2 1 2 2 2 12 8 0 2-2 1-8-2-2-1-4-8-4-2 2zM498 291l-1 1-8 1-2 2 0 2 1 2 1 4-1 2 2 4-1 6 2 3 7 5 1 2 6 1 2-1 1-2 0-12 1-2 0-4-2-4-6-6 2-2-4-3zM414 323l3 3 2-1 0-2-2-1zM551 329l2 4 2 0-2-3zM526 363l-4 6 1 1 4-2 2 0 2 2 0-6-2-1zM507 461l3 6-1 2 1 2 3 1 2-3-2-6zM473 227l2-1 2 3-4 3-1-3zM347 228l4 0 1 1 1 2-2 3-2 1-2-2-1-2zM1343 229l4 6-3 4 0 14-1 1-3-1-3-8 3-4-1-4zM509 232l4 3 2 2 0 2-4 0-3-2 0-2zM287 235l6 2 2-1 6 1 6-2 4 3 4 0 2 1 6 0 8-3 4 0 2 1 8 1 2 5 2 1 1-5 3-2 4 4 3 6-2 6-3 3-2 1-2-2 0-2 2-4 0-4-3 0-1 3-2-2-1 1-3 6 3 4 0 4-3 3-4 1-4-4-1-4 2-6-1-3-4 6-2 1-4 8 0 8-4 3-3 1 7 7 0 3-3 2-3 6-3 2-1 4-6 8-1 4 1 2 0 2-2 2-7 2 1 2-2 2-4-2-4 1-6-3-10-2-6-10-1-4 1-2 4-1 7-3 1-4 5-4 2-6-9-4-4-6 1-6 2-2-5-2 1-8-5-10 1-6 1-2 8 0zM293 263l-2 2 4 4 2-2-1-2zM310 273l1 4 3-2-1-3zM1425 234l2 2 4-1 3 2 0 4 2 8-7 7-4 0-2 3-2-2 1-4-5-2 2-2 4-1 2-4 2-1-4-2 0-4zM875 239l1 4-1 1-1-3zM1357 248l6-1 3 4-3 2 1 12-3 3-3 1-1 3 0-8-2 3-2-1-1-5 3-4 1-6zM539 250l6 4 4-1 2 1 3 5-3 3-6 2-4 1-4-1-2-2-1-5zM1439 249l2 0 2 2-2 1-2 0zM1447 252l2 0 0 6-2-3-1-2zM851 258l1 3-1 2-2 0-1-2zM527 263l2 0 2 2-2 1zM1423 265l8 2 5 6-1 4-2 3-2 0-1-1-3-8-5-4zM327 266l5 7-3 3-4-3 0-6zM1271 277l4-1 3 1 6 6 0 2-3 1-2-2-6 0-3-5 0-2zM1347 279l4 0 3 2-2 6 2 2-3 3-8 2-2-3 0-4 2-2 5 0 1-2-4-2zM1291 280l4-1 4 0 4 2 2-1 8 1 4-1 1 1 1 2-10 4-4 4-12-6-3-2 0-2zM1333 283l5 2-2 6-3 1-3-1-2-2 2-4zM1265 284l2 0 2 3 2 2 2-2 2 0 2 4 6 2 2 4 0 4-4 0-4-6-10 5-2-2-2-1 0-2-3-2-1-2 3-2-1-2zM575 293l2 1 1 3-1 2-2-1-1-1zM575 304l2 3-4 3-1-1 0-2zM957 307l0 2 2 2-2 2-1 0-1-2 2-2zM1117 306l2 1 0 2-4 3-1-1 0-2zM1437 307l4-1 1 1-1 2-4 1-1-1zM379 317l2 1 6-1 2 3 3 1 2 8-3 4-6 3-10 1 2 4 4-3 2 3 0 2-3 2 0 4-3 6-6 5-4 1-8 4-2 3-2 1-4-1-5 1-5 6-2 1-4-1-4 2 1 2 0 2-3 0 0 2 2 8 4-2 2 2 2 0 2-2 6 2 2 2 0 2-1 6-6 4-1 8-2 2-8 2-6-2-8 3-6-1-2 2-6 0-6-2-6 2-4-2-4 1-5 1 0 2 1 4-6 10-6 2-4-2-2-4 0-6 4-3 6-1-2-1-3-3 0-2-1-4 0-2-2-4 0-4-1-6 0-8 3-6-1-6 2-6-1-6 1-8-3-4-1-4-2-2-1-4-4-1-1-1 0-2 9-3 2-6 8-3 2-2 2-1 4 2 4-1 3 4 1 2-1 2 1 6-2 2 0 6 0 6 2 2 2-2 2 1 0 5 2 5 4 3 6 0 4 5 12 2 4-1 0-2-4-1-2-3 0-9-4 0-4-5 1-6 3-3 2-5 4-6 2-1 4 2 4-2 8 0 8-2 2 0 2 3 4 0 4-4 3 2 1 4 2 2 6 2 2-2-3-6 1-8 2-3 2 1zM331 341l-1 2 3 4-1 4 5 3 10-3 2-2 0-6-2-2-10 1-2-1zM310 381l-1 1-8 1-4 3-4-2-4 3-3 0 7 1 4 5 4-2 4-4 4 5 9-3 1-2-1-2-5-4zM288 393l-3 2 1 4 1 8 4 4 5-2 1-2-2-8-4-5zM579 340l4 3-1 4-1 1-4-1-1-2 1-3zM589 345l2-1 2 0 4 5 4 2 0 8 2 4-3 6-3 3-1 7-5 8-4-1-1-3 1-2 3-4 1-10-1-2 0-2-5-2-1-2-1-6 0-4zM1315 350l4 1 1 2 2 12-1 10 1 2-1 4 1 6-3 4-2 0-2-2-1-8 0-6 2-6-3-2 0-14zM659 353l4 1 3 3 2 10-3 5-8 2-2-1-2-4-1-10 3-5zM1269 353l2 0 2-1 12 0 6 3 3 4 2 8-2 8-5 9-14 3-8-6-3-10 0-6 2-10zM1255 374l6 0 2 1-1 4-1 2-4 1-3-1-1-4zM367 392l3 3 1 4 3 2 2 4 2 8-1 1-2 1-6 0-4-1-6 1-3-2-2-4 0-10 2-2 7-3zM615 399l8 1 4 4 4 7 3 8 2 4 0 4-1 4-3 4-1 6-5 4 6 6 2 12-2 4 0 14-3 6-2 0 8 6 3 6 4 4 0 14-4 4-3 10 1 2-1 6 2 4-2 4 4 8 0 6-6 13-2 9-3 6 1 2 2 0 2 2 2 6 0 4-2 2-2 0-6 2-2 0 0-2 1-12-5-3-5-7 2-8 3-6 0-4-1-2-5-4-4 0-2 8 2 6 0 4-4 6-4 3-2 0-7-9 1-6 0-7-8-13-2-2-8 1-8-3-1-2 2-4-1-3-2-1-1-2-5-6 0-2-2-2 2-4 6-1 3-3-7-2-2-2 8-12-2-4 2-7 2-2 4-2 2 1 1-4 5-4 3-6 4-4-3-8-2-2-2 0-3-2-1-8 4-3 12 0 3-1 1-4 8-12-5-10 1-4-1-4 0-4 3-3zM601 457l-2 4 2 7 4 2 6-1 1-10-9-3zM604 501l-3 4 2 2 0 6 2 2 0 2-2 2 3 2 3 0 4-6-4-6 0-8zM588 503l-1 2 1 4-1 4-3 2 0 2 5 2 2-1 4-5 2 0 1-4-1-2-8-5zM619 529l0 16 2 3 6-1 0-19-6-1zM233 407l2 4-1 8-1 1-2-1-1-2zM409 410l2 0 4 2 6 0 2 1 0 4 3 4 0 2-5 14-8 6-6 0-2-2-4 0-3-2-2-8 5-7 6-1 9-4 0-2-5-1-2-2zM427 412l4-1 4 2 2 0 2 2 0 2 1 2 6 4 1 4-1 2 0 4-3 4-10-1-4-3-1-6 2-6-5-4 0-2 0-2zM1273 412l2 3 4-3 2 0 3 5-3 2-2-1-4 2-2-1-2-2 0-2zM329 422l2-1 6 2 2-2 2 2-2 2-2 5-2 1 2 1 0 3-2 3-4 1-2-1-2-5 0-8zM453 426l3 1 0 2-3 2-1-2zM311 433l6-2 2 1 3 3-1 2-5 4 0 4-1 2-2 2-6 1-1-9 3-4 2 0zM295 445l6 2 0 2-2 2 2 10 7 6 1 7 6 5-2 4 7 8 3 8 0 2 5 8 6 4 1 4 7 10 2 4 4 6 0 2 2 2 1 10 5 4 1 4 2 2-2 4 5 12 0 6-1 2-4 1-3-3 0-2-6-8 2-4-1-2-6-2-1 4-3 2-2 0-1-2-4-10 0-8-2-8-4-6 2-6-10-16-2-6-8-10 1-6-1-4-5-6-1-6-7-8-2-8-6 2-6 0-2-3-5-1-1-2 1-2 5-2 2-4 4-3 4 1 2-1zM403 444l6-1 2 2 0 2-2 4-4 1-1-1-2-4zM417 448l2-1 4 4-1 2 2 6-3 8-6-1-1-1 1-4 2-4 0-2-2-2zM491 449l2-2 4 1 3 5 0 2-3 2-2 0-2-2 0-2zM311 464l3 1-1 3-2 1-2-2zM429 482l4-1 1 2 0 6 1 2 0 8 0 2-2 1-3-1-1-2 0-8-2-6 0-2zM523 485l6-1 2 1 6 1 6 2 3 3 2 4 0 2-3 3-8 3-6-1-3-5 0-2-4-4-2-4zM375 490l3 1 0 8 0 2 0 4-1 2-2 0-3-2 0-6 1-6zM393 493l4 2 0 6 1 4 0 4-1 2-4 0-2-2 2-6-2-2 0-6zM649 496l2 1-1 2-2 0-1-2zM583 571l2-1 2 1 0 2-2 2-2-2zM493 593l2-1 7 3-3 9-4 0-5-3 0-4zM583 592l4-1 4 2 1 2-2 6-1 1-2 0-3-3-1-2zM499 606l3 1 0 2-1 1-2 0-1-1zM385 620l4 0 2 2 1 3-1 3-6 1-2-1 0-5zM539 632l6 0 2 3 0 2-10 3-1-1 0-2 1-3z"/>
<path fill="#ff84e1" d="M213 221l10 0-1 2-1 2-2 0-7-4zM877 221l2 0 17 0-1 3-3-1 2 2-1 3-4 1 0 2-14 3-1-3 4-4-3-4 1-2zM903 222l0-1 5 0 5 6-2 3-2-1-2 0-4-1-2 2-2-1 1-2zM931 221l10 0 2 3 2 0 3-3 6 0 2 2-2 4 3 3 4-3 6-1 2-1 2-4 30 0 4 5 2-2 4 3 4-2 2-4 23 0 1 1 2 0 2 3 4-1 1-3 11 0 5 4-1 4-4 0 2 4 2-1 1 3 3 1 2-1-1-8 3-6 2 1 0-1 27 0-2 4 3 2 10 2 0 2 2 1 4 0 2-1 1-2 1-1 6 0 1 1 0 2-3 2 1 4-2 2-1 3-4 2-5-1 0-4-1-4-6-2-1 2 0 2 7 6-4 1-3-3-1-2-2-1-6 6-4 0-4-1-2 2 1 8 3 2 4-3 1 5-3 3-2 0-4-3-2-4-2 0 2 7-2 1-2-1-4 0-2-1 1-4-1-3-10-2-8-5-7 10 0 2 3 2 1 4 3 4 2-1 2 2 2 1 0-2-2-2 2-4-1-4 1-1 2 2 1 7 3 2 2 4 1-4 3-3 6 5 4 1 0 3-2 6 2 4 0 4 5-4 1-2-2-4 2-1 5 3 1 4 4-3 4 0 6 3 1 4 4 4-3 2-1 2 1 2 2 0-2 0-2 3-2 0-3-5 0-4 1-1 1-3-3-1-4 3-4-6-2 1-1 3 3 4 4 1 1 3 3 4-1 2 0 2 2 2-1 2-4 1-4-3 0-2-4-3-4 2 0 3 0 1 4 0 2-2 2 1-2 8-4 3-4 0-2-2-8 3-6-1-2-3 0-1 4-1-2-6-4 5-6-7-2 3-6 2-4 3 4 4 1 2-3 1-3-1 1-4-2-1-1 1-1 3-6-4-6-1 0-3 6 0 1-1 1-2-2-4 2-4 6 2 2-2 1-2-5-2-4 2 0 1-4-9 2-4-3 0-1 2-2-2-2 5-2 0-2 3-2 4 2 4-5 6 1 4-4 2-6 1-4-7-2-1-4 2-4 0-2 2-4 0-6 4-1-3-1-6-2-1-2 3-4 3-2-1-1-4 2-2-1-1-2 1-1 2-1 2 1 2-3 1-3-5-1-5-2 1-2-1-2-3 5-4 0-2-3-3-3-1 0-2 5-2-6-4-2 0-3 2 3 1 1 1-5 8-2-4-4-3-1 5-5 2-3-4 0-4-1-1-2 0-1 3-3 1-4-2-1 1-2 2 0 4 2 2-1 4-5-2 0-8-1-1-6 3-8-4 0 2-1 2-3 2-7-6 0-4-1-2-2-2-2 2-2-1 0-2 2-1-2-4 0-3 2 0 4 5 2-1 2 0 4-3-1-2 1-2 2-1 4-4 2 0 4 4 2 0 2-2 2 4 4 2 1-1-1-6-2 0 2-5 4-1 5 2 2 4-1 0 0 2 2-2 2 2 4-1 8 1 4-3 4-1 4 1 3 3-1 2 4 2 6-1 4-5 0-2-2-3-6 2-8-3-2-2-6 0-8-5-4 1-2 2-4-3-6 0-4 2-12-2-4 3-6-3-6 1-4-4 0-2 4-1 6-9 2 3 4-3 2 0 1 2-1 2-4 2 2 3 2 0 4-3 2-1 3-3-4-4 2-4 3 0 8 3 1-1-1-2zM985 223l0 2 2 2-2 2-2-3-2 1 0 4-1 6-5 2-2 0-1-2 0-6 2-4-5-1-5 15 1 6 2 2 4-4 4 0 2 2 8-3 2 2 1 3-1 2-5 2-1 2 0 2 4 2 3-4 1-4 3-2 1-2-2-2-3 0 0-2 0-2-2-6 2-2-1-2 1-6-1-2zM1034 229l1 2 2 0 1-2-3-2zM939 231l-6 4 5 6 7 2 1-4 0-6-3-4zM1081 231l-1 2 1 1 2-1 0-2zM1051 233l-2 2 2 1 2 1 2-1 0-3zM924 235l-4 2 3 4 4-2 2-2-2-3zM1071 235l6 1 1-1-5-1zM954 241l0 2 1 2 2-2zM1037 245l3 4-1 2-4-1-2 1-1 2-5 4-4-2 0-4-4-1-4 4-5 1 1 2 0 2 2 2 4 0 10-1 2 3-1 4 4 2 1 3 2 1 3-4-3-1-1-3 1-1 4 0 3-3 1-6-2-4-2 0 4-1 2-5-2-2-4 0zM991 263l0 2-4 3-8-3-5 2 3 1 4 5 0 4 2 6 0 2 2 1 4-1 0-2-3-4 4-6 0-4 2-2 0-4-1-1zM969 267l-1 2-3 2 0 4 1 4 5-2 4 1 2-3-1-2-3-2-2-5-2 0zM1049 269l-4 4-2 0-4 6 2 1 4-2 4 0 2-1 4 1 2-1-4-7-2-2zM899 271l-3 4 0 4 1 1 6 0 2-3-3-2 1-2-2-2zM940 271l0 2 2 2 4-2-1-2zM1019 275l-3 4 1 1 6 0 2-1-4-6zM1076 279l-1 2-2 0 4 1 3-3-3-1zM1046 281l0 2 3 6 0 3 6-5-4-2-2-5zM1059 281l-2 2-2 0 2 3 6-2 2 3 2-4-4-3-4 0zM1076 287l-3 2 0 1 4 0 2-3-2-1zM1061 293l2 3 2-1-1-2zM1075 293l-2 2 2 2 0 6 2-3 4-1 2-3 4-3-2-1-4 2-4-3zM1163 223l2-2 6 1 11-1 1 4-4 1-2 4-2 1-4-1-4-4-4 9 2 2-2 3-6-1-3-4 0-2-1-2-2 3-2 0-2-3-2 0-6 3-1-1 0-2 3-2-3-2 1-2 2-1 6 1 2-1 2 0 2 2 2-2 2 0 4 3zM1445 222l0-1 4 0-1 6 1 5-6-1-2-4 1-2zM1401 224l2-1 6 2-4 9-4-5-1-4zM409 227l8 2-1 4-3 4 4-1 6 2 2-1 4-1 2 2 8 1 4 3 4 0 6 4 2-4 10-6 8 0 12 2 4 0 2 3 0 2-3 2 1 4-2 2-1 10 4 6-1 6 2 2-1 4 3 3 2-2 4 0 2-2 14 0 4-2 10-2 2-5 4-1 1 1 0 2-2 4 1 1 2 0 2 2 4 0 6 2 1 1 0 4 5 5 6 5 6 0 3 4 0 4-5 3-2 0-2-2-5-1 0-4 1-2-2 0-7 6 2 6 11 5 14 3-1 4 4 4 0 2 1 1 2-3 2 0 1 2-3 5-2-1-2 2-2 0-6 2-4 5-2 0-4-2-6 1-1-4 5-2-3-4-3-1-1 1 0 6-1 1-2 0-2-1-10-3-2 1 0 2-4 0 1-2-3-1-3 3 1 2-2 2-4 0-4 2 4 1 4-1 8 4 4-3 2 0 6 3 3 2-1 6 3 2 1 4-2 4 1 4-1 6 0 6 3 6-4 4 3 1 2-1 2 0 3 2 0 2 2 2 0 4 3 1 4 5 4 1 0 5 3 2 0 6-1 3-6 2-2 1-12-3-8 7-4-1-1 1-2 4-1 2-2 2 0 2-4 4-1 2 5 2 8 0 2-1 2 2 4 0 2 3 1 4-3 4-1 2-5 5-12 4-2 1-2-2-6-2-4 2 2 2-1 4-3 1-1 3 1 4-1 4 4 4-4 6-1 6-2 2-4 8 1 6-1 2-2 0-2-2-6 2-4 8-6 3-4 1-2 3-4 2-6-1 1-6 3-3 2-1 4-5 4-7 2-6 8-8 1-2-1-1-6 0-1-1 0-8 3-2 1 0 1 4 2 1 1-5 3-4 1-4-3-4 2-6-1-4 1-2 2-2 4 0 1 4 4 2-2 2 1 2 3 2 1 3 1-5 3-2-4-7-7-3-1-4-2-2 2-2 5-2 0-4-7-2-1-2 4-2-6-2 4-2 0-6 1-2 0-2 4-2 2-4-3-12 0-4-5-5-6-1-2-2 0-2 2-1 4 2 4-1 6 0 1-2 1-4-3-6 2-4-1-12 1-4-3-3-6-3-1-4-1-1-2 1-2 3-6 2-8 0-5 5 0 2 2 2-2 4-3 1-4-1-5 10 2 2-1 2 1 2-1 1-1-1 1-2-2-2-8-1-8 4-2 4-4 0-2 2-2-1-2-2-12-3-3-3-1-3-2-1-2-4-4-1-5-3-3-4 0-4-3-4-2-6-3-4 1-4-2-2 1-14 5-14 2-2 0-4-1-4 1-2-1-2 0-4-4-6 0-6-1-4 2-6 0-4 2-2-5-1-8 8-4 2-3-3-2-4 3-4 2-8-4-5-1 5-3 4-4 0-4-2 0-4-5-6 0-2 3-4-1-2 1-2 6-1 2-1 2-1 6 3 2 5 4-3 2-3 10 2 4-1 3-4-2-4zM434 259l-6 2 0 4 3 2 2 6-1 6 1 1 12-1 2-4-1-4 2-2-4-4 1-2-2-2-6-1-2-2zM499 289l-4 3-9 1 0 4 2 2 0 4-2 2 3 4-1 6 3 4 10 8 6 0 2 1 1-1-2-2 1-14 1-2-1-8-3-2-1-2-2-1-1-1 2-2-3-3zM413 323l2 2 2 1 3-1-1-4-4 0zM526 363l-4 4 0 2 6 4-1 2 2 8 6-2 4 2 0 2 3-2 0-4-3 0-2-3-2 4-1-1-1-2 2-2 1-4-4-4 1-4-4-2zM349 228l2 1 1 2-3 3-2-3 0-2zM473 228l2-1 1 2-1 1-2 0zM213 232l8 3 4-2 2 2 2 6-4 4 0 4 4 4 3 0 3-2 2-1 0 9 2 1 2-2 4 4 6-4 4 1 1 2 1 2-3 4-1 6-2 6-10 8-5-6-1-6-8 8-7 4-3 3-2 1-4 0 0-58zM1341 234l2-1 2 2-4 3zM285 236l16 2 6-2 4 3 4-1 2 2 6 0 2-2 6-1 12 1 2 3-3 12 3 4 0 4-2 3-4 0-3-3-1-4 1-8-1-2-7 8-4 8 0 2-2 8-5 2-2 0-2-4-5 2 1 4 2 1 4-3 4 1 5 7 0 2-3 2-3 6-11 14-1 4 2 2 0 2-9 4 1 2-1 1-2 0-2-2-4 1-6-3-4 0-6-2-6-11 0-2 6-2 4-3 3-5 5-4 0-2 2-6-4 0-6-3-3-5 0-4 5-8-2-4-2 0-1 2 2 2-1 2-2-1-1-3 1-4-5-12 1-5 12 0zM295 259l-4 4-1 2 4 4 1 2 2-1 1-3 0-8zM304 265l0 6-1 2 2 1 1-7 1-2 5 0zM353 238l3 3 1 4 2 4-2 5-4 2-1-3 2-4 0-4-3-2 0-2 0-2zM1135 238l2 1 0 2-2 2-1-4zM1429 239l2-2 2 0 1 2-2 2 2 6-1 2-3 0 3 2-4 4-2-2-2 0-1-2 5-2-1-2 2-4-2-2zM1177 241l1 0 1 2-2 3-2 1 0 6 2 2-2 8-4 0-8-7-4 2-1-1-1-2 1-4-4-6 5 0 2 2 2-4 4 2 6 0zM1403 240l2-1 2 4 0 3-2 1-4-4zM1105 242l1 1 0 4-3 2-1-2 3-2zM495 245l4-1 2 2 0 3-2 2-4 1-3-1-1-2 1-2zM1123 246l3 3-1 2-4-2 0-2zM1361 248l2 1 1 2-1 1-2 0-3-1 1-2zM1407 251l3 2 1 2-2 4-2 1-3-3 0-2zM539 252l4 2 6 0 3 3 1 2-8 5-8 0-2-3-1-4zM897 253l2 2-2 3-1 1 2 4-3 1-2-1 2-10zM1069 254l2 0 1 3-3-1-1-1zM1109 255l3 6-1 1-2-2-4 3-3-4 0-2 1-2zM1117 254l3 1-3 4-1-2zM1359 255l3 2-1 3-3-1-1-2zM1395 258l2 0 3 5 1 8-2 1-2 0-2-1-4 1-2-1 4-6 2 0-2-2zM1383 261l3 0-1 6-2 0-3-2zM1137 262l5 1 0 2-3 4 0 3-2 1-1 4 1 2 6-2 6 1 1 1-3 1-5 7 1 1 8-4 2 0 2 2 2 0 1-1 1-3 1 3 3 3 8-1 2-2 0-5 5-3 0-6 3 0 2 2 0 2 2 2-1 2 1 2 4 2 2-1 0-3 2-2 2 0 4-4 4 0 2 3 3 1-1 4-3 2 1 3 4 0 4 4 4-4 3 1-2 2 0 6-3 2-1 0-3-6-2 1-2 2-1-1 3-2-6-1-2 2-3-3 1-2-2-3-2 2-4-2-2 5 1 2-2 4 1 1 5-1 1 2-2 2-8 3-6 0-2 4-4 1-4-3-1-3 4 0 3-2 0-2-6-3-3 3-1 4-2 3-4-2-1 1 0 2-3 5-5-1 0 2 1 2-2 2-2-2 1-2 0-2-3-5-1 1 0 8-3 1-2 0-2-4-6-3 2-6-2-2-4 2-6 0-4-2 0-2 2-2 2 0 4 3 2-1-2-4 7 0 0-8-1-1-2-3-5-2-3-3-2 2-4 1-2-1-2 0-2-1 2-2 2-8 2-1 6 3-3 2 1 3 2 1 14-8zM1140 293l1 2 4 1 0-3-4-2zM1179 295l-1 2 0 2 1 1 3-3 0-2zM1097 267l4 2-2 6-4-2zM327 268l4 5-2 2-3-4zM1151 268l5 7 1 4-2 1-5-3 0-2 0-2-5 0-1-2zM1167 268l2 1-1 2 1 4-4 3-4-1-1-4 1-1 4 0zM1383 271l4 1 1 1-1 2-3-2-2-2zM1211 272l4 1 0 4-2 0-3-2 0-2zM1233 274l2 0 8 4 3-1 1-2 5 2-2 4 1 2-2 2-10-5-5 1 2 4 3 2 2 4 0 3-4 1-2-1 0-3-2-3-8 1-1 0 2-2-3-3-4-1-4-2 0-3 8 2 4 3 4-1 1-1-4-4zM1377 275l2 2-2 8-2 0-3-6zM1273 279l2-1 2 0 1 3-3 2-1 0-1-2zM1385 278l2 1 0 2-2 2 2 2 3 0 1-3 8-1 1 2 0 4 1 2 0 5 2 1 2-6 2-1 4 2 1 1-1 1-4 3 2 6-3 2 3 6-4 3-6 1-2 0-4-5-4 3-5 8 4 2-5 6-2-1-1 3 0 6-2 4-6 8-2 6-1 1-2 0-1 5-5 4 1 2-3 2-5 10-3 1-4-5-6 0 0-2-2 0-2-10-2-6 1-8 1-2 2 3 2 0 2-4 4-3 8 1 5-7 2-8 2-2 0-2 1-1 2 0 5-7 0-6-4-2 1-2 2-3 4-1 1-2-1-7 2 1 2 2 2 0-1-10 4-2-1-2zM1393 297l-2 2 2 2 2-2zM1361 347l-1 2 1 1 2 0 1-3zM1295 281l4 0 2 3 2 0 2 3-8-2-2-2zM1123 285l1 2-1 3-3-3zM1249 285l4 5 3 1-6 4 0 6-5 3-3-5 1-2 4 0 0-5zM1345 287l2 1 5 1-3 2-4-2zM1273 289l1 0-1 2-2 2-3-2 1-1 2 0zM241 290l4 0 7 7 0 2 1 4-6 6-6 0-2-2 1-4 4-4-4-2 2-2-2-2 0-2zM955 291l4-1 1 3-1 1zM1035 290l4 5-5 4-4 0 4-4zM927 294l3 1-1 3-2 3-4-2 2-1 0-3zM1413 301l3 0 1 2 2 0 1 2-4 0zM231 304l4 0 2 1 0 4-4 1-4-1 0-2zM573 306l2-1 1 2-3 3-1-1zM223 310l4 1 0 2-2 2-2-2zM975 311l2-2 5 4-1 2 0 2 3 2-1 1-12-3 0-2zM373 319l2 1 2-2 6 1 4-1 1 3 3 1 1 1 0 8-3 2-2 0-2 2-10 0-3-4-1-4zM275 324l2 0 4 1 4-1 2 3 1 2-2 2 2 4-2 4 0 12 1 2 2 1 2-2 1 1 0 6 3 4 4 3 4-1 6 6 12 3 2-2 5-1 0-2-7-3-1-1 0-8 4-4 0-2-1-1-5 5-3 0-3-4 0-4 3-4 2-5 6-7 2 2 0 4 2 7 1-7-3-2 2-2 4-2 8 0 8-3 4 4 6-1 2-3 2 1 1 4 3 3 6 3 2-3 4 7 2-3 2 0 1 1 0 2-1 1-2 0-1 1 0 4-1 2-1 4-5 4-2 0-4 3-8 3-2 3-4-1-6 1-6 7-4-1-2 2-4 0-2 3 4 13 4-2 2 2 2 0 2-2 2 1 4 1 1 1-1 8-4 2-2 2-1 6-1 2-8 3-6-2-8 3-6-1-2 2-6 0-2-2-4 0-6 2-2 0-2-2-10 2-8 1-2-2-1-8-2-4 0-8-1-2 0-8 3-6-1-6 2-6-1-6 1-8-8-15-4-1 1-2 7-3 3-5 7-3zM330 341l0 4 2 2 0 4 5 5 13-5-1-10-4-1-8 2-2-2-4 0zM300 377l-2 4 1 2-2 1-4 0-6 1-3 2 1 2 4-1 4 0 4 6 8-5 4 4 4-2 8-2-2-4-6-5-10 2-1-1 2-2-1-2zM285 393l0 6 3 10 3 3 7-3 1-2-3-6 1-2-4-5-4-2zM239 337l0 4 0 3-1-1 0-2zM577 343l2-1 2 0 1 3-1 2-2 0-2-2zM591 344l4 3 2 3 4 3-1 6 2 4-3 4 0 2-2 2-1 8-5 7-3-1-1-2 4-6 1-10-1-2 2-2-6-2-2-2-1-6 0-4zM1317 351l3 2 1 12 0 3-2 3-5-4 0-2 0-12 1-2zM1273 353l10-1 8 4 3 3 1 8-1 2-1 1-4-2-2 3 0 1 4-1 2 1 1 3-3 3-2 5-14 3-7-5-3-10 2-4-2-2 0-4 2-3 2-1-1-2zM659 355l4 0 3 6 1 6-2 4-2 1-6 0-2-1-1-2-1-4 1-8zM1255 374l6 1 0 5-4 2-2-1-1-4zM1315 374l2 0 4 3-2 4 2 2 0 4-4 2-3-8zM367 392l3 3 0 4 6 6 1 8-2 1-6 0-6-1-4 1-3-3-1-12 4-3 4 0zM611 401l4-1 8 1 7 10 2 4 0 4 4 6-2 6-3 4 0 4-6 6 0 2 2 0 4 4 1 12 0 18-2 4-3 1-2 3 6 2 10 12 0 14-4 4-3 10 1 2-1 6 2 4-2 2 0 4 4 8 0 6-3 4-8 22-4 2-4-2-4-6 2-8 3-6-1-6-6-5-4 0-1 1-2 8 3 8-3 6-5 4-2 0-6-8 1-12-3-8-8-9-8 1-7-2-1-2 1-4 0-4-8-8 0-2-2-2 4-4 7-3-2-3-4 0-3-2 8-12-2-4 1-6 4-3 4 0 1-5 6-4 1-3 6-7-3-10-5-1-2-1-1-2 0-6 3-2 6-1 6 1 5-2 1-4 3-4 1-4 3-4-1-2-3-4-1-4 2-4-2-4 2-2-2-2 5-4zM599 455l-1 4 2 10 5 3 6-2 2-3 0-8-2-2-4 0-4-3zM619 483l-1 4 1 3 3-3-1-2zM585 491l-4 1-2 1 2 3 5-3-1-2zM589 501l-3 4 0 8-3 2-1 2 7 3 2-1 4-5 3-1 0-4-1-3zM602 501l-2 4 2 2 0 6 2 2 0 2-2 2 0 2 7 1 3-3 2-4 0-2-3-2 0-2 0-4-1-2 1-2-2-2zM619 527l-2 10 1 2 1 11 9-3 1-10-1-10-5 0-2-1zM411 411l10 1 1 1-1 4 5 4 0 2-5 13-8 6-4 0-10-3-2-8 2-2 2-4 12-3 5-3-1-3-6-1-2-2zM429 413l2-1 4 3 2 0 2 5 6 3 0 4-1 8-1 1-6-1-4 1-4-4 0-5 1-6-4-4 0-2zM1279 414l2 0 1 3-1 0-3-2zM265 423l6 0 5 4-2 2 0 4-1 1-6 1-2-2-2 0-1-2 0-6zM331 422l6 2 2-2 1 1-3 5-2 0-2-1-2 0-1 4 5 1 1 3-5 3-3-3 0-2 1-2-1-6zM313 433l4-1 4 3-2 2-4 2 0 6-2 2-4 2-1-2-1-6 2-3 3-1 0-2zM403 445l4 0 2-1 1 1 0 2-3 4-2-1-3-3zM291 446l6 0 2 1 0 2-2 6 2 2 1 4 8 8-1 4 7 6-2 4 7 8 3 10 6 8 5 4 0 4 8 9 1 5 4 4 1 2-1 2 3 2 1 4 0 6 5 4 0 4 2 2 0 6 4 10-1 2 2 4-2 2-2 0-4-2 1-2-6-8 1-6-3-2-2 0-2-2-2 2 0 4-2 1-2-1-5-10 1-8-3-10-2-4 1-6-5-6-6-12 0-4-10-10 2-4-1-6-5-8-1-4-2-1-1-3-3-2-3-10-1-1-6 2-6 0-1-1 1-2-4 0-3-2 2-2 4-2 0-2 3-3 6 0zM419 448l3 3-1 2 2 6-2 5-2 0-2 2-2-1 1-6 3-4 1 0-3-1-1-1 0-2zM493 448l2 0 2 1 3 4-1 2-2 1-3-1-2-6zM429 483l2-1 2 1 0 8 1 2 0 6-1 2-2-1-1-1 0-8-2-6zM525 486l4-1 2 2 6 0 2 1 4 1 3 4 1 4-8 5-8 0-3-5 0-2-4-4-1-4zM375 491l2 0 0 2-1 6 2 2 0 4-1 1-4-1 0-12zM393 494l3 1 0 6 2 4 0 4-1 1-2 1-3-2 2-6-2-2 0-6zM495 593l6 2-2 8-2 1-3-1-3-2 0-2 1-4zM585 592l4 1 2 2-2 7-2 0-3-3-1-4zM627 592l4 0 1 1 0 4 2 2 0 4-9 3-1-1 0-10zM385 621l4 0 2 2 0 4-2 1-4 0-1-1 0-4zM541 632l2 2 2-1 1 4-9 2 0-4z"/>
<path fill="#ff58e6" d="M881 221l2 0 11 0-5 2 3 2-1 2-4 0-6 5-4-1 5-4 0-2-3-2 0-2zM905 221l4 2 3 4-1 1-4 0-4-3zM933 221l8 0 2 6-4 3-2-1 0 2-2 1-2 0-2-7 1-4zM949 221l5 0 0 2-2 2 1 2 4 4 4-3 6-1 1 2-4 10-1 6-2-1-2 5-6 0-5-2-2-4 2-4-2-4 1-2 4-1 6 7 2-6-2-2-2 1-6-1-2 1-2-1-1-4 4-2 0-2zM953 241l0 3 2 2 3-3-1-3-4 0zM971 222l4 0 1-1 24 0 3 7 2 1 2-3 3 1 1 2 2-1 4-3 1-4 20 0 7 6 3 0 1 2 6-2 0-4-4 0 0-2 9 0 5 3 0 3-2 1-2-2-5 5-5 0-2 1-1 3 1 2 2 3 2-1 3-2 1-3 2-2 4 6 4-2 2 1 2 2 4 2 2 3 2-1 1-2-1-2 1-4 4-2-1-4-2 1-4 3-4-2-1-6 4-4 13 0 0 1 2-1 10 0-4 3-2-1-3 2 7 1 10 4 2 0 1 1-1 2-4-1-1 1 0 2-1 2-6 6-6 0-2-4-4 2-2 0-2 0 0 2 4 2 1 4 0 2-4 2 0 4-1 1-2 0-1-1 1-2-2 0-2-5-2-1-6 1-10-6-2 1-4 8-2 2 0 2 2 2 1 2 0 4-5 2-4 5-2 0-3 3-1 2-2 1 0 3-4 0 0 4-4 4-3 6 1 4-3 4-1 6-8 2-3-6-3-3-4 2-4 0-2 3-2 0-4-4-4 3 0-3-4-2 0-3-2-1-2 2 2 2 0 3-4 2-1-3 2-4-3-1-5 5-1 3-3-5 1-4-2-2-2 2-1 0 0-2 5-4-1-2-3-2 0-2-2-2 4-1 4-4 4 1 0 2 2-4 2-1 3 7-1 1-3 1 1 2 2-1 2 2 6-2 3-3-1-2-2 1-2-3 4-5 2 0 2-5-2-1 1-5-1-2-5-2 1-3 4-2 4 4 3 5 3 2 6-6 4 4 14-2 1 2-1 4 3 2 2 4 3 1 5-5-1-2-2 0-2-2 2-1 2 1 0 2 2-4 3-2 0-6-1-2 0-2 4-7 5-1-1-1-6-2-4 3-2-2-4 4 3 2 0 2-1 1-2-1-1-2 1-2-1-4-3 0-2 1-1 3 1 3 3 1-3 4-2-1-1 1 2 2-1 1-2-1-2-5-6-3-1 4-1 2-6-1-3 1 0 2 4 2-1 2-2 0-2 1-2 0-2-3-3 0-1-4-3-2 1-6 3-6-1-3-2 0-2 1 1 4-1 2-3 0 1-2-2-1-1-3 0-6 1-2 2 0-2-6-4-2-5 6 0 4-1 3-2 1-3-2-1-2 2-3 2-1-4-2-3 0zM1035 225l-3 2 3 5 2 0 3-3-1-1-2 0zM1099 229l-2 2 2 2 2-2 0-1zM1008 231l3 4-2 2 2 4 2-2-2-4 2-2-2-4zM998 233l7 2 1 0-3-4zM1086 233l-1 2 2 1 3-1-3-3zM1067 241l1 4 2 0-1-3zM1011 243l-4 3-2 1 4 0 2-1 4-1-2-3-2-1zM1072 245l3 1 1-1-1-1zM1012 265l-3 4 0 1 4 0 3-1-3-5zM1021 273l-4 3-4 1 2 1 2 4 4-2 4 2 2-1-2-4zM1009 279l-2 4-2 2 1 2 1 0 3-4zM973 283l-1 6 5 1 1-1zM1017 285l0 4 4-4-2-1zM994 291l1 3 4-3-2-2-2 1zM1165 222l2 1-4 10-6 4-2-2 1-4-1-1-6 3-2-3-4-1-1-2 9-2 2 2 2-2 2 0 4 4 2-2 0-4zM1171 223l3-2 7 0 1 4-3 0-2 3-4 2-3-3zM1445 224l1 3-1 3-3-3 1-2zM919 227l4-1 6 5-6 3-1-3-3-2zM409 229l6 0-1 2 0 2-3 2 0 2 2 2 4-2 4 2 6-2 7 2 1 1 6 1 2 2 4 0 6 4 2-2 0-2 2-1 8-5 8 0 2 1 8 1 2 1 2-1 2 0 0 4-2 2 0 4-1 2-1 12 3 4 0 6 1 2 0 4 4 4 2-2 4 0 2-2 16-1 2-1 4 0 2-2 4 0 3-4 0-2 3 0 0 2-3 4 3 3 2-1 2 2 4 0 6 2 0 4 9 8 0 2-3 0-8 8 2 6 12 6 12 2 1 6 3 2 0 2 2 2 2-2 2-1-2 5-2-1-6 3-4 1-6 5-2-1-8 0 0-3 4 0 2-2-4-5-4-1-2 2 0 6-2 0-2-2-8-2-2-1-2 0-2 4-2-3-2 0-4 4 0 2-4 0-6 4 2 2 10 0 4 3 2 0 4-3 2 0 7 4 1 2-1 4 3 2 1 4-2 4 0 2 1 2-1 4 0 8 3 6-4 4 2 2 8 0 0 2 2 2 0 4 8 7 2 1 1 4 3 2 0 8-4 1-2 1-2 0-2-1-10-1-8 6-4 0-5 6 0 2-2 2 0 2-5 4 0 2 2 2 3 0 1 1 8 1 2-2 2 2 4 0 0 8-2 2 0 3-4 3-12 4-2 0-2-1-4-1-2-1-2 0-2 2-1-3-5-5-4-2 0-3-2-2 2-1 4-3 0-4-2-2-4 0-2-2 2 0 2 1 1-1-1-3-6-1 2 0 2-2 0-6 1-2 0-2 3 0 3-6-2-12 2-2-1-4 1-6 2-6 0-2-3-6 2-2 0-18-6-5-3-1-1-2 2-4 2-2-2-2-4 4-2 0-2 3-5 3-9 0-6 6 0 2 2 2-3 4-5-1-2 1-2 8-4 3-8-1-6 4-2 4-4 0-2 2-4-4-8 0-2-2-2 0-2-2-1-4-1-1-2 0-2-4-4-1-3-2 0-2-3-3-1-3-3-4 0-2-2-2-1-4-2-2 1-4-2-2 0-8 0-2 1-2 1-6 3-6 1-4 2-2 0-8 1-2-2-2 0-4-3-4-1-2 0-10 1-10 2-2-2-2-4 0-4 4-2 1-2 3-6 1-2-5 3-2 1-8 1-2-5-6-2 2 0 4-2 2-6 0 0-4-6-6 0-2 4-4-2-3 6 0 2-2 4 0 4 3 0 2 2 2 8-6 12 1 6-5-3-2 0-2zM433 259l-4 0-2 2 0 4 3 2 1 4 0 8 2 2 12-1 3-5-1-1 0-3 2-2-4-4 1-2-3-3-6-1-2-2zM497 289l-2 2-8 0-2 2 0 4 2 2 0 4-2 2 3 4-1 6 4 5 10 8 8 1 6-4-2-2-2 0-2 2 0-10 1-2 1-4-1-8-5-6-2 0 2-2-4-5-2-1zM416 319l-3 1-1 3 3 4 2 0 2 0 2-2-1-4 1-1 2 2 1-3-1-1-4 0zM406 333l1 1 2 0 1-1-1-1-2 0zM528 361l-7 6 0 2 5 4 0 4 1 2 0 4 2 2 4-2 4 0 2 4 4-4 0-4-2-2-3 0-1-6-3-4 0-4 0-2-5-1zM428 373l3 1 1-1-1-1zM1125 228l4 1-1 2-2 2 0 4-3 4-2 1-2-1 0-2-3-2 0-4 1-1 4 1 2-4zM903 235l2 0 4 7 2 1 3-2 0-2 1-1 4 0 4 6 8-5 0-2 2-1 4 5 7 4-3 1-2 1-10-3-4 2-8 0-6-3-2 3-6-1-3-2 2-4-1-2zM285 237l4 0 2 1 16 0 4 2 1-1 3 0 2 2 6 0 2-2 18 0 0 8-1 2-1 4 2 2 0 7-3 1-3-3 0-11-2-3-8 9-7 18-5 0-2-3-6 3 0 2-1 2 1 1 4 1 4-2 4 0 4 6 0 1-4 3-2 6-9 10-3 4 0 4 2 2 0 2-4 0-4 3-1 1 1 2-2 0-2-2-8 0-2-2-4 0-4-3-2 0-1-3-3-4 0-3 4-2 8-7 0-2 5-4 1-4 1-2 0-2-1-1-6-1-6-6 0-4 5-8-1-4-6-3-2-5-1-4-1-2 0-4 12 0zM292 259l-3 4 0 2 4 4 0 2 2 2 2-1 1-1 1-12-2-2zM303 265l0 6-1 2 3 2 2-2 0-6 4 0 2-2-2-2-6 0zM353 239l2 2 0 4 2 2 1 2-1 4-4 1 0-3 2-2 0-2 0-2-3-2zM895 243l2-1 2 1-1 2-1 0zM212 245l3 6 6-2 6 5 6 2 2 1 0 4 2 1 4-3 4 4 6-4 4 1 0 5-2 2-4 12-2 2-2 1-4 4-4-5-1-6-1-1-12 9-4-2-2-4-6 0 0-15 1-1-1-2 0-15zM963 246l2 4 2 1 2-1 2-4 4 0 2 2 6-3 2 1 2 1 0 2-2 3-16 2-4-1-4-4zM1165 246l2 1-1 2 2 2 1 2 4 1 1 1 0 4-1 2-5-2-5-6-1-4zM539 253l2 1 8 1 2 2 1 2-7 4-8 0-1-4-1-2zM1407 253l3 2-1 2-3 0 0-2zM925 255l2-1 4 2 1 5 3 3 2 0 4-3 6 1 4-1 4-3 6 1 2 2-2 2 1 2 6 2-1 2-4 1-2-1-2-3-1 1 1 3 2 0 3 7-1 1-4-2-4 1-2-2-2 0-3 2 1 3-2 0-2-2-1 1 1 2 0 4-1 2-3 1-2-3 3-4-4-4 1-2 4 1 3-3-1-3-4-1-2 1-1 3-5 4 0 4-2 2-4-1-4 2-4-2-4 4-2 0-2-2-4-1-1-2 2-4-6-6-1-6 6-6 2 0 4 3 4 0 0 3 10 3 2-1-5-4-1-6zM911 275l-1 2 1 1 3-3-1-1zM1095 254l2 1 0 2-2 1-4-1 2 0zM979 256l4 3 2 4 2-2 2 2 0 2-2 2-8-3-2 1-1-2zM1103 257l2-1 3 1-3 2zM1397 262l1 1-1 2 2 1 0 4-2 0-1-3 1-2-1-2zM1069 267l4 6 4-7 9 5 0 2-2 6 2 4 1 5 2 0 1-3 4-2 0-4 1-1 2 1 0 2-2 4 1 4 3 3 3 1 0 4 3 2-4 2 6 4-2 2-4-2 0-4-2-1-4-1-4 2-2 2 0 2-2 1-2-2-1 1 1 2 0 2-3 2 1 3-4 2-3-1 1-4-2-4 2-1 3-5 3-3 4-1 2-4-4-2-4 2-3-2 2-4-3-4 4-2 0-2-2-1-2-1-6 4 2 2 4 0-2 4-2 0-2 3-3-5 0-2-9-5-3-3-1-4 0-3 2 0 4 3 4-1zM327 269l2 2 0 3-2-3zM1135 268l2-1 0 2-2 2 0 8 2 2 4-2 6 0-4 5-4-3-1 2 0 2 3 2 0 2-2 2 1 4-1 4 4-1 0 1-1 2 0 6-1 1-2-2-2 2-3-1 0-8-1-2-4 1-1-3 1-1 4 1 2 1 1-5-3 0 0-6-3-4-1-1-4-1-2-2 0-2zM975 269l3 2-1 1-3-1zM1113 270l3 1 3 5-2 1-3 0-1-4zM1181 273l4 12 2-1 2 3-4 0-1 2 1 1 4 0-2 5 2 4-4 2-3-2 2-2 0-2-3-1-6 2-2-2-4-2-4 3-2-2-6 8-4 2 3 2-1 4-2 0-2-2-2 0-3-4 0-8 0-2-2-2 0-2 5-4 4 1 2 3 4-2 4 3 6-2 2 0 3-3 0-4 3-2 3-6zM1201 274l2 0 1 3 0 2-3 5-2-2-2 0-2 1-2-1 0-3 6-2zM1233 275l3 0 3 4-6 2-3-4zM1051 279l2-1 4 1 0 2-2 0 0-2-2 5-2 0zM1243 278l4-1 2 2 0 4-6-2-2-2zM895 280l8 4 1 1 0 2-3 1-2-4-4-1zM1043 282l2 0 3 7-3 4-2 0-3-6zM1103 282l4-1 3 2-7 5-2-5zM1395 282l3 1 1 4 2 2-1 6 7 4 0 2-2 2 2 6-4 3-4 1-2-1-4-7 3-6-1-2-2-1-6 3 0 2 6 4 0 2-6 4-5 10 1 1 3-1 0 2-3 3-2-2-1 1-3 14-4 6-3 2-1 4-4-2 0-3-2 0-3 1-1 2 1 2 5 3-1 5-1 2-4 0 1 4-3 2 1 2-5 8-2 0-4-4-4-1-1-3-3-2 1-6-4-2-1-4 2-6 0-1 4 0 2-3 4-3 4 2 4-1 6-8 2-8 3-2 3-6 3-2 1-7 2-1 0-2-3-4 4-2 1-4 5-2 0-8 1-2 6 2 1 2-1 2 2 0 1-6zM1362 339l1 2 2 1 2-1 0-2-2-1zM1350 367l0 2 1 1 4-3-2-2zM1063 285l0 4 3 2-5 1-1 1 0 2 3 3 6-3 4 2 1 6-7 2-2-4-4-1-2 1 2 2-2 3-6 2-8 5-5-2 4-6-2-4 1-3 6 2 2-1 4-4-2-4 8-6zM1201 285l4 2-2 1-2 2-1-1zM1111 288l2-1 3 4-2 2 0 4-1 1-4-3-1-2zM1237 288l3 3-3 3-1-1 0-4zM241 291l4 0 1 2 4 4 0 2 2 4-5 5-6-1 0-4 4-4-2-2-2 0 2-2-2-2zM921 291l2-2 2 2 0 2-3 0zM1215 289l1 6-1 1-1-1zM559 296l8 1 2 2 0 4-2 0-2 2-2 0-2-2-4 0 0-4zM1119 297l2-1 3 3-3 1-2-1zM1245 298l2 0 2 1-2 3-2 0-1-3zM1175 301l2-1 1 3-3 2-2 0zM1093 307l2 0 1 4-1 2-2 1-4-3 1-2zM975 313l2 1 2-1 0 4-6-1-1-1zM377 319l2 1 4 1 2-2 2 0 0 2 4 2 0 8-4 1-2 2-10 0-2-3 0-10 2 0zM275 325l2 0 2 1 2 1 4-2 2 4-2 2 2 4-2 4 1 14 1 1 4 0 0 5 2 2 0 2 4 3 6 1 6 5 6 1 6 2 2-2 4 0 4-2-2-3-4-2-4-1 0-8 4-4 0-2-2-2-4 4-2 1-2-1-2-4 1-4 2-2 1-4 6-6 1 8 3 4 2-2 0-6-2-2 1-2 13-1 6-3 4 4 6-1 2-3 2 4 6 5 2 1 2 1 2-2 2 3 2 6 0 2-2 2 0 4-6 3-8 5-4 1-2 2-4 0-6 1-3 2-3 5-4-1-2 2-4 0-3 4 1 2 0 4 2 2 0 4 2 2 2-2 2 0 2 2 2 0 2-2 2 2 4 0-1 2-1 6-2 0-3 4-1 4-1 4-7 2-6-2-4 2-10 0-2 2-6 0-2-2-4 0-4 1-2 1-2 0-2-2-10 2-9 0 0-4-1-2-1-4-1-2-1-12 0-6 4-6-2-6 1-4 2-2-1-4-1-2 1-8 0-2-4-4 1-2-4-4-1-6 5-3 3-5 3-1zM329 341l0 4 2 2 0 4 6 6 12-4 2-2 0-10-2-2-10 1-2 1-2-2-4 0zM297 377l0 6-10 0-4 4 0 2 2 2 2-1 2-1 4 0 0 3-8 0-1 1-1 6 2 2 1 8 5 4 4-1 5-3 0-2-3-6 1-2-2-2 0-2 3-2 6-2 3 2-1 2 2 2 4-5 4 0 6-3-1-2-9-9-4 0-4 3-2 0 2-2-2-3-4 0zM589 347l4 0 4 5 2 1 0 6 2 4-2 2-1 4-3 2 0 8-4 4 0 2-2 0 0-4 3-4 2-6-2-6 3-2-2-2-6-1-2-4 0-6zM1281 352l6 3 4 1 2 3 1 2-2 4 2 2-1 2-2-2-2 0-3 4 1 3 4-2 2 3-3 2 0 4-2 2-5 1-4 0-2 2-2 0-2-3-4-1-1-3 0-4-2-4 1-1 2-1 0-2-3-2 0-4 5-6zM1315 352l2-1 2 2 1 6-1 4 1 4-1 2-4-2-1-2 1-2-1-10zM657 356l4 0 4 3 2 8-2 4-6 1-5-3 0-4 1-6 0-2zM1255 375l2 1 2-1 2 2 0 2-3 2-2 0-2-2zM1315 375l2 0 3 2-2 4 1 2-2 2 0 2 0-2-2-1-1-3zM367 393l2 2 0 4 6 6 0 8-8 0-2-1-2 0-2 1-2 0-2-2-1-12 3-2 4 0zM607 403l16-1 6 9 1 2 1 2 0 4 2 2 1 4-1 4-4 6 0 4-6 6 1 2 1 1 2 0 3 3 1 12 0 14-1 2-1 6-2 0-2 2-1 2 0 2 1 1 2-1 3 0 5 5 1 3 4 4 0 14-4 4-3 10 1 10 1 2-2 2 0 4 2 2 1 4 1 2 0 6-3 4-1 4-3 6-1 4-4 9-2 0-4-3-2-4 1-8 2-2 1-4-1-6-1-1-6-5-4 0-2 2-1 2-1 6 2 8-1 2-1 4-6 3-1-1 0-2-4-4 0-18-4-4 0-2-5-5-15-1-2-2 1-8-8-8 0-2-2-2 2-2 8-3 1-1 0-2-3-4-6 0 5-6 1-4 2-2-2-4 1-6 3-2 4 0 2-2 0-4 2 0 4-4 0-2 7-8-1-2-1-4-1-2 0-2-2-2-4 0-2-1 0-7 6-1 4-1 2 1 4 0 4-3 0-3 5-5 1-6 2-2 0-2-4-4 0-6 1-2 0-2-2-2 3-2-2-2zM598 455l-2 4 1 2 1 8 3 3 8 0 5-5-1-4 1-4-3-3-6-1-2-2-4 1zM617 483l0 6 2 2 4-4-1-2-3-4zM583 491l-4 1-1 1 3 4 6-4 0-2-2-2zM574 499l-3 2 2 2 2-1 1-1 0-2-1-1zM608 499l-5 0-4 6 2 2 0 6 2 2 0 2-2 2 0 2 2 2 6 1 5-5 1-6-2-2-1-6-1-2 1-2-3-3zM588 501l-3 2 0 8-4 4 0 2 6 3 4 0 3-3 1-2 2 0 2-2 0-6-6-5-2-1-2-1zM618 527l-1 8-1 2 1 2 0 10 2 2 2-1 2-1 4 0 2-2 0-4 1-2 0-10-3-6-8 1zM568 533l3 4 2 0 2-2-6-3zM411 412l10 1-1 4 3 2 1 4-1 6-2 2 0 4-2 1-6 5-4 0-4-2-5 0-1-4 0-4 3-6 5 0 2-2 4 0 6-4-2-4-6-2zM431 413l2 3 4 1 1 4 1 1 4 1 0 12-4 0-2-1-2 1-5-4 1-10-4-4 0-2zM331 423l2 2 4 0-2 1-4 0-2 4 0-5zM265 424l6 1 2 2 2 0-2 2 0 4-6 1-2-2-2 0 0-5zM317 433l3 2-2 2-3 1-2-3zM329 432l5 1 1 2-4 2-2-2zM309 439l3 0 2 2 0 4-3 2-2 0zM409 445l0 2-2 2-3-2 1-1 2 0zM291 447l7 0-1 6-1 2 3 4-1 2 5 4 2 3 2 1-1 4 5 5 2 1-2 4 7 8 2 8 3 4 0 2 9 8 0 4-4 2 3 3 2-4 4 5 1 2 3 3 0 3 4 4 0 4 4 6 0 6 4 4 1 4 2 2-1 6 4 6 1 10-1 1-4-1 1-2-6-8 1-6-4-4-2 1 0-3-2-2-3 6-1 4-1 0-3-8 3-4-3-1-2 3 0-6 1-2-1-2-1-8-3-3 1-7-5-6-2-6-4-6 0-4-10-10 0-2 2-2-1-6-3-4 0-2-2-2 0-4-2-2-2 0 0-2-4-4-2-8-2-2-4 1-2 1-4 0-1 0 0-2-1-1-5-1 1-2 2 0 2-2 0-2 2-2 6 0zM419 449l1 2-1 2-2 0 0-2zM495 449l4 4-2 2-2 0-1-6zM419 456l2 1 0 6-4 2 0-6zM501 462l4 1 0 2 4 2-2 2 1 4 3 1 2 3-1 2 2 4-1 4 4 4-4 6 0 5-4 3 0 2-4 6 2 2 1 4-1 1-2 0-2-2-2 0-2 1-2 1-6 9-4 2-4 1-2 3-6 2-3-2 1-4 7-6 6-10 1-5 10-9 0-2-2-2-6 0 1-2-1-6 2-1 1 3 3 2 2-2 0-3 3-3 1-6-3-4 3-6-2-4zM515 471l3 0-1 4-2 0zM431 483l1 0 0 8 1 2 0 6-2 0 0-10-2-4zM525 487l4-1 2 2 2-1 4 1 2 2 4 0 2 3 1 4-7 4-8 0-2-6-4-4zM375 493l1 0-1 6 2 2 0 4-2 0zM393 495l2 0 0 6 2 4 0 4-2 0-2 0 2-6-2-2zM627 593l4 0 0 4 2 2 0 4-4 0-2 2-2 0 0-10zM493 595l7 0-1 4-2 4-2 0-2-2zM585 594l5 1-1 6-2 0-2-2zM385 623l4 0 0 4-4 0zM541 633l2 2 2-1 0 3-6 1 0-3z"/>
<path fill="#ff2bee" d="M883 221l5 0-1 3-4 3-1-6zM905 222l5 3-1 2-2 0-3-2zM933 221l7 0 2 4-1 2-2 1-6 0-1-3zM949 223l2-1 2 1-2 1zM977 221l2 0 5 0-5 5-3-1zM987 221l13 0 2 8-1 2-4 0-2 2-4 2-1-2 4-2 0-2-3-2 0-4 2 2 2 1 1-3-1-1-4 1zM1019 221l5 0 1 1 1-1 4 0 0 2 1 1 6-3 2 1 10 9-2 2 0 5-6 2-6 1-2-2-2 0-3 4 0 6-3 3-5-5 0-2 1-2 3-2-1-2-4-1-1-1 4-2-3-3-4 1-2-4 5-4zM1033 225l-2 2 0 4-5 4 1 3 10-5 3-4-1-3-2 1-2-4zM1025 227l-3 2 1 1 4-1 0-3-2 0zM1053 221l6 0 2 2-4 4-1-4zM1077 221l10 0 1 2 3 3 6 1-2 4 4 4 3-2 1-3 1 5-1 2-4 5-2 0-7-5 1-2-2-2-2-1-2 0-2-4-6 4-4-3 1-4zM1173 222l3-1 4 0 1 2-2 0-2 4-4 2-3-2 1-2zM923 227l3 2-1 2-4-2zM949 226l2 1-1 2-3 0zM1149 227l2 0 2 2-4 3-2-3zM961 229l6 0-2 4-3 10-3 2 0 2-2 1-2-1 5-8 0-8zM1125 229l3 0-1 2-3 2 1 2-1 2-1 2-2 0-4-2 0-3 4 0zM975 230l3 1-1 3-2-1-1-2zM1015 233l2 2-2 6-1-4zM1059 234l3 5 3 0 1 4-1 2-4 0-7-4 4-4-1-2zM905 236l2 3 1 4-5 1-1-1 2-4-1-2zM1001 236l3 1-2 2 7 2 0 2-2 2-2-2-2 3-4-1 1-4 0-4zM1083 236l2 2 1-1 2 0 1 2-2 1-2-1-4 1 0-3zM915 239l4 0 2 6-5 0-2-2 2-2zM929 240l4 1 2-1 2 2 2 1 1 2-7 0-4-2-1-2zM949 240l2 1 1 4-1 2-3-4zM1053 245l1 2 0 4-4 4 0 4-1 2 0 1 2-1 1 4-3 1-5 5-1-2 0-2-1-2 0-2 3-2-1-10 3-5zM1081 244l6 2 1 3-7 4-2-1-2-3 4-2-1-2zM973 247l6 2 1-2 5-1 1 3-2 2-4 0-1-1-6 2-2-1 0-2zM1069 246l2 1-2 2-2-2zM999 248l2 1 8 0-1 2-3 2 3 4-3 2-2 0-1-2-3-2-1-4zM1011 247l4 2 0 3-5-1-1-2zM219 254l4 0 7 3-4 2 0 4 3 3 2-1 2 8-4 3-4 1-1-2 3-6-1-2-9-9 0-3zM1167 254l2 2 4 0 0 3-4-1-2-2zM925 256l2 0 3 1-3 4-3-4zM953 261l2-1 2 1 4-1 1 1-5 6 3 6-2 2-3 1-2-3-4 2-2-2 1-2-7-3-2 1-6 7-2 6-4-2-4 2-4-1-4-1-1 1 2 2-1 1-2 0-2-2-2 0-2-1 2-3 2 1 2-1 3-3-1-2-2-1-4 4-2 0-3-5 0-4-2-2 3-2 2 1 2-3 4 2 0 2 2 2 2 0 2-1 6 2 4 5 2-2-1-6-5-2 0-1 6-1 4 5 2 0 4-4 6 2zM948 269l1 2 2-1 1-1-1-2zM995 260l2 1 1 2 5 3 6-6 2 2 1 1-2 4-3 2 0 2 2 1 6-1 1-2-1-4 10-3 2 1-1 4 3 2 2 4 6 4-2 3-2-1-2 2 1 4-1 1-3-3 2-4-9-7-4 3-6 2-2-1-3 3 0 2-3 6 2 1 5-1 2-4-1-4 2-1 5 5-3 2 0 5 2 0 1-1 5-6 4 2-1 2 2 2-3 6-2 1-4-2-2 1-2-1-2-3-2-1-2 0-3 3 3 3 6 0 2 2 3 1 0 2 3 1 0 1 0 4-2 2-2-2-2 2-2 0-3-6-5-2-1 2-9 2-4-3-6 0-1-3 2-6-1-3-3 1-1 4-2 3-5-3 5-7 6 0 2 2 1-3 4-4-2-6 1-1 2 3 2 1 1-1-3-6 2-2 2 3 4-3-2-3-4 2-3-3zM1002 277l0 2 1 3 2-3 0-2zM994 289l-1 2 2 9 6-1 2 1 3-3-5-2 0-6-4-1zM213 266l4 0 3 3-3 2-6 0 0-4zM1069 269l1 2 0 4 1 2 6-9 6 3 0 10 2 2 1 6-3 2-2 1-1-1 3-8 0-4-2-1-4-2-4 1-4 4-4-3-4 0-4-3-1-2 0-2 1-1 6 4zM1041 270l2 1-4 3-1-1zM1129 272l4 0 2 1 0 2-2 3-8 0-1-1 0-2zM1181 277l3 14-1 1-8 3-3-6 3-4 0-4 2 0 2 3 1-1 0-4zM1203 277l-2 5-2-2-4 1 0-2 4 0zM1233 276l2-1 2 4-4 0-1-2zM973 279l-2 9-5-1 2-4 3-4zM1245 279l2-1 1 3-4 0zM979 280l1 3-3 1-1-1zM943 282l1 1 0 2-3 1-1-1zM1103 282l2 1-2 3-1-1zM1395 283l2 1 1 1-1 2 3 2-2 6 6 4 1 2-1 2 2 6-3 2-4 1-1-1 0-2-2-4 0-6-1-3-4 0-5 3 0 2 5 6-5 4-2 6-6 6 0 4-2 2 2 2-2 4 0 4-1 3-2 1-2-3-4-2-5-1 0-4 2-2 0-4 10-10 3-8-1-4 1-2 0-2 2-2 2 0 2-6 0-7 3 1 2 2 1 4 2 0 3-2-2-4zM1043 284l4 5-2 3-2 0-1-3zM1071 284l4 0 1 1-5 1-1-1zM1061 287l1 2-4 4 3 4-4 4 3 2 0 2-7 1-4 2-2 4-2 0-3-1 3-7 2 1 2-1 1-1-1-2 4-2 4-4-1-2 2-4zM1149 286l3 1 0 2 8 6-3 4-5 2-1 2 2 2-4 1-2-5 0-1 4 1 0-6-2 1-2 0-2-7zM1095 287l2 10-8 3-1-1 1-2-1-2 5-4zM1113 288l1 3-3 4-2-2 2-4zM969 293l4-1 2 1 0 4-4 6-2-2 1-4 0-2-2-2zM1067 297l4 0 2 4-4 3-2-1 1-2-4-2zM1135 299l4 3 2 0 0 4-6 0-1-1zM1083 301l-1 2 1 6-4 3-1-5 3-6zM1093 308l2 3-2 1-2-3zM1359 339l6 4-6 4-2 4 2 0 4 3 1 3-1 3-2 0-2-4-2 0-1 1 1 2 1 4-1 2-2 1-2-2-4 3-1 2 3 1 4-1-2 7-2 0-4-4-4-1 1-2-4-2 0-2 1-4-4-2-1-4 2-2 0-2 3-1 3-5 3-2 4 2 4 1zM1345 353l1 4 1 1 1-1 0-4-1-1zM1367 343l4 2-4 4-1-4zM1315 352l3 1 1 4 0 3-2 2-2-3 1-2zM1277 355l4-2 6 3 4 1 2 4-2 4-4 2-2 6 3 4 1 4-4 2-4 0-2 0 0-4 0 4-2 2-2 0-2-3-4-1-1-2 2-2-2-4 2-6-3-3-1-3 5-4 4 0zM661 357l4 4 1 8-3 1-6 0-2-3 0-6 2-4zM1315 364l2 0 2 3-2 1zM1259 377l1 2-3 2-2-2zM1315 377l3 0-1 6-2-1z"/>
<path fill="#ffffff" d="M935 221l5 0 1 4-2 2-5 0 0-6zM977 222l0-1 5 0-3 5-3-3zM989 221l11 0 0 8-1 1-2-1-1-6-1-1-4 0zM1019 221l5 0 0 4-3 5-4 1-3-2 4-2 1-4-1-2zM1037 223l2 0 1 2-1 1-1-1zM1077 222l2-1 2 3 4-2 6 4 4 1 0 2-4 4-6-3-2-3-6-2zM1173 224l3 1 0 2-3 1-1-3zM1041 226l2 0 2 3-1 4 1 4-10 2-1-2 6-6zM411 228l5 1-2 4-3 1-2-1-1-2zM349 230l3 1-3 2-1-2zM961 230l2 0 1 1-1 1-2 0zM1093 234l2 0 2 2 4-2 1 3-5 3-2-4-2 1zM1123 234l1 1-1 3-1-3zM285 237l4 0 4 1 14 0 4 2 4-1 2 1 14-2 10 0 2 1 1 2-2 10 2 6 0 4-1 1-4 0-2-3-1-10-1-2-5 4 0 2-4 6-4 12-2 2-3 2-2-1-2-3-2 0-4 2 1 2-1 2 4 1 6-3 5 4 2 4-4 4-2 6-9 10-3 6 0 2 2 2 0 2-10 4 2 2-1 1-4-2-14-2-6-4-4-7 0-3 8-6 3-5 5-4 3-6 0-2-1-1-4 0-4-2-1-3-3-4-1-2 6-8-2-4-1-1-2 0-2-2-5-11 1-4 10-1zM292 259l-2 4 0 2 5 6 2 0 1-4 0-8-1-1-2 0zM304 265l-1 8 2 1 2-1 0-5 2-2 2 0 1-1-1-1-6 0zM467 237l14 1 4 1 2 0 2 2 1 2-3 8-1 10 2 6 1 6 2 6 2 3 8-3 16-1 2-2 6-2 4 1 2 0 4 2 2 0 2 1 10 3 2 5 7 7 0 2 9 1 2 3 1 2-1 3-6 2-6-3-1-4 2-2-1-1-2 0-7 7 0 2 2 4 11 7 10 0 1 1 0 4 2 2 3 1 2 3 2-1 2 1-2 5-2-1-6 3-4 1-6 4-2-1-8 0-1-1-1-2 6-2-2-5-4 0-1 1 1 6-2 1-2 0-6-4-8-2-2 3-2-1-2 0-4 6-4 1-4 2 2 1 8 1 4 3 2-1 4-2 2 0 7 4 1 6 3 2 0 2-3 14 1 2 1 6 2 6-3 4 1 1 9 1 1 4 1 4 7 7 7 9 0 4-1 2-6 3-4-2-10 0-4 4-4 1-4 1-4 5-3 6-4 4 1 3 6 2 8-1 6 2 1 2 0 4-2 6-5 5-4 2-10 0-6 0-2-1-4 1-4-6-6-4-3-5 6-4 0-4-6-2-1-2 2-1 2 2 1-1 0-2-7-2 2-2 3-10 3-2 3-4 0-4-2-8 1-2 1-10 2-6-3-8 1-4-1-16-5-6-3-6-4 1-8 6-6 0-4 2-3 3 2 4-2 2-3 2-4-1-2 1-1 6-1 2-4 3-8 0-4 3-4 4-6 3-4-5-6 1-6-2-2-3-2-4-2-1-2-3-6-4-5-6 0-2-4-4-6-16 0-10 3-8 5-12 1-8 1-2-6-12 0-12 1-10-2-1-2 0-7 5-1 2-4 1-2-4-2-1 2-1 2-5 0-2 0-4-4-4-2 4-2 3-6 0-2-5-4-6-1-2 3-4-1-2 1-1 6-1 2-1 4 0 4 2 2 4 8-4 12 0 4-2 20 0 12 3 2 1 4 0 6 4 2-4zM434 259l-5 1-1 3 0 2 4 6 1 8 12 1 2-3-1-4 1-4-2-6-2-2-8-3zM498 289l-3 3-8 1-1 4 2 4-2 4 2 4 0 6 6 8 3 3 4 2 8-1-1-12 2-6-1-8-3-4-3-2 0-2-1-4-3-1zM416 319l-3 2-1 2 3 3 2 0 3-1 1-3 3-1 0-2-1-2-6 1zM510 325l1 1 2-1-2-1zM528 361l-6 6 0 2 3 4 3 10 1 1 4-1 4-1 2 3 2-2 1-4-4-2 0-2-4-8 1-6-2-1zM428 373l1 1 2-1-2-1zM353 239l3 2 0 4 2 4-1 4-2 1-3-1 2-6 0-2-2-2 0-2zM917 238l3 5-1 2-3-2 0-4zM1025 240l2 0 1 1-3 9-3-5zM1059 240l4 0 1 3-1 1-2 0-3-3zM1001 242l2 0 1 1-1 1-2 0zM1083 245l3 2-2 4-3 1-2-3 2-1zM985 247l0 3-4 0-1-1zM973 248l2 0 1 1-3 1zM1013 248l1 1-1 3-2-3zM1001 250l2 0 1 1 0 4 2 2-1 1-2 0-3-5 0-2zM1047 249l2 0 3 2 0 2-4 2-1 6-3-8zM537 255l4-1 8 1 2 2-6 7-8-1-2-6zM231 256l3 1 1 5 2 0 4-4 4 4 4-2 6 0 1 1-1 4-1 2-5 12-2 3-2 1-4 3-5-5 0-6-4-6 1-4-2-1-2 1-5-4 0-2 1-1zM911 263l4 6 6-1 5 3-1 3-3 1 0 2 3 2-2 2-4-2-3 0-1-7-2 0-4 2-2 0-3-3 1-6 2 0zM955 263l3 10-1 1-2 0-1-3zM1009 262l2 1-5 6 0 2 2 2-1 2-5 0 2-4-1-3-6 0-2-1 4-2 4 1 2 0zM1025 263l0 2-2 5-6 4-4 0-2 1-1-2 1-1 4 0 1-1 1-7 2 0 2 2 2 0zM939 264l4 0 1 1-1 2-4 1-4 4-3-3 0-2 1-1 4 0zM949 264l2 0 0 1-2 1-1-1zM1047 265l2 0-2 3-1-1zM533 268l3 1-3 5-1-3zM327 269l3 2 0 2-1 1-3-3zM1027 269l3 4 4 2 0 2-1 1-5-1-2-6zM1057 271l4 3 4 1-4 2-5-4zM1067 271l2 0-2 3-1-1zM1077 271l2-1 3 3 0 2-1 1-6 0-1-1zM929 274l2 0 1 1-1 2-3 0 0-2zM999 275l3 2 0 2-2 2 0 6-5 1-3 3 0 8-3 3-1-3 1-2 2-10 2-3 5-3 0-6zM1013 280l3 1 0 2-1 1-3-1 0-2zM969 283l1 2-1 1-1-1zM1177 284l4 0 1 1 0 4-1 3-6 1-1-4zM1395 284l1 1 0 2 2 2 0 2-3 5-3-3 4-2-2-4 0-2zM1021 287l2-1 4 3-2 5-2 0-4-2-2 1-1-2 1-1 6-1zM1043 287l3 0 0 2-1 2-2 0zM1083 286l1 3-3 2-1-2zM981 289l2 2-2 5-2 0-1-1 0-2zM1147 288l4 3-2 3-2-1 1-2-2-2zM1383 289l2-1 3 1 0 6-2 4 0 2 1 3 3 3-4 2-2 8-3 3-4 0-2 3 1 2-4 2 0 2 4 2 0 8-1 1-2 0-10-4 0-3 2-5 5-7 4-2 3-6 1-8 1-3 3-1 2-8zM241 291l4-1 1 1 0 2 4 4 2 6-5 5-4 0-3-1 0-4 3-4-2-2 0-2-1-2zM1003 290l3 1-3 3-1-3zM1091 293l2-1 1 1 1 4-4 2-1-4zM1153 294l4 0 1 1-3 5-2 0-1-1zM1013 297l1 2-1 1-2-1zM1399 297l4 2 1 2 0 8-3 2-3-2 0-6-1-2-1-2zM971 297l2 2-2 2-1-2zM1019 299l1 2-1 1-2 0 0-2zM1069 298l3 1-1 3-3-1 0-2zM999 300l4 1 1 0-8 2zM1051 301l4-1 3 3 0 2-7 1-1-1zM1135 302l2 0 3 1-3 2-2 0zM1021 304l1 1-1 2-1-2zM573 306l2 0 1 1-3 2zM1045 308l1 1-1 3-1-3zM1079 308l2 0 0 1-2 1-1-1zM377 319l4 1 4-2 2 1 2 2 3 2-1 8-6 3-10 0-3-3 0-6 1-5zM275 324l6 2 4-1 1 2 0 2-1 2 3 4-2 4 1 14 5 2 2 8 3 3 6 0 6 6 8 2 4 0 10-3-2-3-8-3-1-8 4-4 0-2-7 3-3-3 0-6 2-2 1-4 6-6 1 2 0 6 3 2 2-2-3-6 2-2 3-1 10 0 2-2 4-2 4 4 6-1 2-2 2 5 10 5 2-1 2 3 3 6-3 8-14 8-4 1-4 2-8 1-3 2-3 5-10 2-3 3 5 12 4-1 2 1 4 0 6 2-1 8-3 1-3 3-1 4-2 4-12 1-4 1-10 1-4 2-4 0-4-2-10 1-6-2-6 3-8-1-1-4-4-10 0-14 4-6-2-6 2-10-1-4 1-4 0-4-2-8-5-6-1-4 5-3 2-4zM330 341l2 8 0 2 5 4 2 1 4-2 8-1 1-4-3-8-4-1-6 1-2 1-4-2zM297 377l1 6-1 1-4-2-8 4-1 1 0 2 1 1 4-1 4 0 4 5 8-4 4 5 4-3 4 0 4-3-1-4-7-7-4 0-4 3-2 0 1-2-1-3-4 0zM284 393l0 4 1 4 1 6 2 4 5 1 6-2 1-3-3-6 0-2-2-5-4-2zM1359 340l3 3 0 2-4 2-1 3-7 1 0 2 4 2-1 2-2 1-2-2-2-5-3 2 1 4 4 2-1 4 2 2-2 4 4 4-1 1-7-3 0-2-3-4 1-4-5-3 0-3 2-2 6-9 2 0 4 3 4-1zM579 344l2 0 0 1-2 1-1-1zM589 347l4 0 4 4 3 2 0 2 0 6-2 4 0 4-2 4 0 6-5 6-2 0-1-2 4-6 2-6-2-6 2-2-5-3-4-5 1-6zM1277 356l3 3-1 5 6 5-2 5-3 1 5 1 2 3 0 3-4 2-2-1 0-4-2-2-2 2-2 5-2-3-4-2 2-2-1-2 0-2 1-1 2 0 2 4 2 0 2-3 3-2-5-1-10-7 0-3 8-2zM1283 356l2 0 2 1 2 0 2 1 1 3 0 2-3 1-4 0-3-5zM1317 357l1 2-1 2-1-2zM1361 356l2 0 0 1-2 1zM657 358l4 0 3 1 2 4 0 4-1 3-4 0-5-1-1-4zM1355 360l1 3-1 1-2 0-1-1zM1315 378l2 0 1 1-1 1-2 0zM367 393l2 2 1 4 5 6 0 8-6 1-4-2-6 2-2-3-1-12zM607 403l8-1 8 0 4 5 5 8 2 10 0 4-3 6-1 4-5 6 0 2 2 1 3 3 0 6 1 2 1 6 0 12-3 8-2 1-3 3 1 2 4-1 2 2 9 11-1 14-3 4-2 10 0 8 1 4-1 4 4 14 0 2-3 4-5 10 0 4-5 9-2 0-4-2-3-5 2-8 1-2 1-8 0-2-5-5-2-1-4 1-3 3 0 10 2 4-3 6-4 3-7-7 0-18-4-4-1-2-6-5-6 0-4-2-4 0-2-9-7-8-2-4 3-3 4 0 4-3 1-2-2-2-5-1-1-1 0-2 3-4 2-6 2-10 2-2 4-2 1-4 6-4 7-10-4-10-4-1-2-3 0-6 2-1 14 0 3-3 1-3 4-5 1-4 2-4-1-2-3-4 0-6 2-4-2-2 1-2-1-2zM598 455l-2 4 2 4 1 6 2 2 4 1 6-2 3-3-1-8-2-2-6-1-2-1zM618 483l0 4 1 3 2-1 1-2-1-2-2-2zM584 491l-5 1-1 1 3 2 5-2 0-2-1-1zM574 499l-1 2 2 1 1-3-1-1zM608 499l-5 1-3 5 3 8 1 2-1 6 4 2 2 0 3-2 2-2 0-2 0-4-1-2-2-8 1-2-2-2zM588 501l-2 2-1 8-3 4 1 3 6 2 3-1 2-4 4-2 0-4 0-2-2-2-7-4zM618 527l0 8-2 2 1 2-1 2 3 8 2 1 6-3 3-6 0-10-3-5-8 0zM413 412l6 0 2 1-2 3-4-1-4-2zM427 414l4 0 2 1 4 1 2 5 5 2 0 10-1 2-4 1-6-2-3-3 0-10-4-4 0-2zM421 419l3 2 0 2 0 6-3 7-8 5-4 1-9-3-2-6 3-7 8-3 8-1zM331 423l2 1 6-1-2 3-4 0-3 1-1 3 0-5zM265 424l6 0 4 3-2 7-6 0-5-3 0-4zM329 432l4 0 2 3-4 3-3-3zM313 435l6-1 1 1-3 3-2 0zM309 439l2-1 3 3 0 4-3 3-2-1-1-2 0-4zM409 444l1 1 0 2-3 3-3-3zM291 447l7 0 0 2-1 6 2 6 4 3 2 3 2 2-1 4 6 6 0 4 3 5 3 3 2 8 7 9 5 5 0 4 13 18 1 4 4 8 1 4 3 4 2 14 3 4 1 8-3 3-2-1 0-2-5-8 0-6-1-1-4-2-2-3-3 4 0 4-1 1-5-9 4-4-1-1-2 0-1 3-1 0-1-6 1-2-2-10-1-2-1-8-4-6-1-4-5-8-2-4-8-10 0-2 1-2 0-6-6-8 0-4-4-2-2-4-4-10-1-1-6 2-4 0-2-4-5-1 0-2 3-1 4-6 6 0zM328 519l3 3 1-1 0-2-1-1-2 0zM419 449l1 2-3 2-1-2zM495 449l5 4-3 2-3-2zM419 456l2 1 1 4-1 3-4 2-1-1 0-4zM503 462l2 1 2 2 3 2-1 2 0 4 4 3 2-6 2 0 1 1 0 4-3 1-2 3 0 2 1 2 0 4 4 4-4 6 0 4-8 12 0 6-5-1-4 3-6 8-8 3-2 3-6 3-3-3 0-4 10-8 4-8 1-4 9-10 0-2-1-1-4 0-2-1 1-2-1-6 2-1 2 3 2 1 4-7 1-20zM431 482l1 3 0 6 2 2-1 6-2 0-1-2 0-12zM525 486l4 0 2 1 12 3 2 3 1 4-3 3-6 2-6 0-3-7-4-4 0-4zM375 492l1 1 0 6 2 2-1 4-2 0-1-2 0-8zM393 495l2 0 1 2 0 10-1 3-2-9zM627 593l4 0 3 8-1 2-6 3-2-1-1-4 0-6zM493 594l2 0 5 1-1 4-2 5-2-1-3-2 0-4zM585 594l4 1 0 6-2 0-2-2-1-4zM385 623l4 0 0 4-4 0zM541 633l5 2-1 2-6 0-1-2z"/>
<path fill="#b3b3b3" d="M431 607l6-1 2 2 3 13-2 2 1 1 12 0 20 12 4 0 4 3 2 3 6 5-1 4-5 4-12 3-16 12-8 1-6 1-6-2-3-3-1-4-2 4-8-1-6 2-11-1-8-14-2-14 1-2 2-1 16 0 13 11 3 9 3-11 0-8 2-6 0-6-4-8z"/>
<path fill="#4d4d4d" d="M365 557l9 4 7 12 24 31 2 2 6-1 7 4 7 6 7 8 2 18-7 3-2-3-2-8-4-2-14-11-23-25-17-28-2-8zM413 640l6 0 2 2 3 7-1 2-10 1-2-9zM453 655l4-1 2 2 3 9-7 4-4 1-6-3-1-8 3-3z"/>
</g></g>
<path fill="#b3ffc4" d="M1098,877l6,0 1,2 -7,1z M1114,878l8,-1 6,-2 1,2 -8,3 -7,0z M1134,873l8,-4 6,-5 2,1 -6,7 -9,4z M1152,860l5,-6 2,1 -4,7z"/>
<path fill="#f59b9b" d="M312,630l6,-2 8,1 4,3 -6,1 -8,0z M328,650l4,0 0,3 -4,0z"/><path fill="#fcac55" d="M348,645l6,2 3,4 -4,0 -5,-3z M349,656l3,2 4,8 -3,0 -4,-6z"/><!--channel-->
<g class="b" stroke-width="3.9">
<path d="M237,308 L256,310 L262,322 L272,325 L300,323 L330,316 L350,313.6 L383,313 M383,236 L383,313 M383,313 L392,320 L394,328 L386,342 L380,352 L382,360 L383,365 L383,419 M229,419 L509.5,419 M403,236 L403,260 L410,274 L426,290 L438,297 L439,306 L435,320 L438,328 L448,323 L455,336 L462,345 L468,356 L480,353 L500,348 L508,354 L509.5,355 M509.5,341 L509.5,446 M509.5,341 L656,341 M509.5,446 L699,446 M656,236 L656,446 M656,316 L812,316 M656,394 L776,394 L784,397 L792,400 L800,399 L808,400 L812,402 M699,446 L699,551 M699,472 L838,472 M446,551 L855,551 M320,419 L320,500 L432,600 M446,419 L446,572 L440,577 L431,581 L434,600 M434,600 L440,612 L442,624 L434,634 L430,648 L434,660 L430,668 M551,446 L551,701 M679,551 L678,684 M678,563 L741,563 L741,615 M741,615 L758,622 L780,628 L786,634 L800,636 L818,637 L832,632 L842,631 L858,640 M855,551 L856,564 L858,640 L866,642 L866,656 L866,682 L874,696 L877,712 L874,728 L870,743 M678,684 L604,688 M866,656 L926,656 M856,564 L948,564 L946,577 L958,577 M910,293 L902,296 L902,310 L890,322 L894,336 L894,348 L906,358 L920,370 L926,380 L929,394 L932,398 L944,408 L948,420 L942,430 L929,436 L931,446 L922,456 L920,468 L928,482 L940,498 L948,506 L944,516 L956,530 L964,546 L970,556 L966,558 L960,576 L958,577 L950,592 L944,606 L936,620 L928,634 L926,648 L929,662 L931,674 L926,684 L920,700 L918,709 M918,709 L958,709 L958,724 L960,734 M815,380 L926,380 M800,236 L804,260 L809,286 L813,310 L812,320 L808,324 L817,332 L817,380 L813,381 L815,386 L812,402 M812,402 L820,418 L826,438 L832,456 L838,468 L848,478 L846,486 L853,494 L855,500 L855,551 M832,456 L918,456 L922,462 M944,406 L1000,406 M1004,420 L1004,494 L1000,510 L994,526 M970,556 L980,546 L990,536 L994,526 L1000,526 L1012,530 L1024,524 L1040,516 L1048,507 L1061,498 L1068,496 L1080,504 L1090,508 L1102,507 L1114,512 L1120,506 L1124,498 L1134,488 L1146,478 L1149,456 L1152,444 M1061.5,425.5 L1061.5,498 M1024,425.5 L1062,425.5 L1091,426 M1152,422 L1152,478 M1152,478 L1254,478 M1168,414 L1168,419.3 L1262,419.3 M1262,419 L1268.4,427 L1271.5,436 L1265.4,446.6 L1264.7,455.7 L1274.5,467.8 L1265.4,473.9 L1256.3,478.4 M1271.5,436 L1292,447 M1114,512 L1108,518 L1114,530 L1124,542 M1124,542 L1116,542 L1100,554 L1086,562 M1124,542 L1134,546 L1152,538 L1158,530 L1168,522 L1172,512 L1180,514 L1188,504 L1198,492 L1202,486 M1202,486 L1192,482 L1184,486 L1174,494 L1173,478 M1202,486 L1212,492 L1226,502 L1220,514 L1232,522 L1240,526 M964,565 L994,565 L994,562 L1086,562 L1135,563 L1252,562 M1135,563 L1120,576 L1106,580 L1086,590 L1073,602 L1070,605 M944,604 L1094,605.5 M1094,608 L1102,602 L1110,600 L1140,599 L1148,608 L1170,609 L1194,633 M1094,606 L1102,620 L1114,636 L1126,652 L1134,664 L1140,678 M992,605 L989,660 L986,724 L986,730 M1044,605 L1054,656 L1059,676 L1055,696 L1058,716 M1000,727 L1002,718 L1002,709 L1056,709 M1058,716 L1116,722 L1120,726 L1122,714 L1132,717 M1302,340 L1301,376 L1305,398 L1302.5,403 L1300,419 L1297,444 M1342,338 L1338,354 L1328,364 L1324,380 L1321,400 M1351,331 L1353,380 L1356,394 M1304,400 L1352,400 L1360,393 M1300,419 L1345.6,419 L1345.6,426 L1349,431 M1336.6,419 L1336.6,435 M1254,479 L1254,514 L1266,514 M1250,538 L1262,532 M948.4,299.4 L948.4,306.4 L966.6,311.5 L988.8,316.5 L994.9,322.6 L998.9,332.7 L1003,336.7"/>
<path d="M261,236 L842,236 L842,227 L852,227 L854,240 L874,245 L884,245 L900,250 L916,257 L932,255 L940,258 L964,261 L950,266 L932,278 L910,293 L922,296 L932,295 L936,289 L941,293 L944,297 L948.4,299.4 L958.5,292.3 L976.7,284.2 L988.8,277.2 L1001,275 L995,280 L985.8,288.3 L988.8,292.3 L1001,292.3 L1009,300.4 L1021,301.4 L1033,297.3 L1057.5,294.3 L1059.5,300.4 L1071.6,301.4 L1077.6,310.5 L1088.7,313.5 L1077.6,315.5 L1067.5,314.5 L1057.5,311.5 L1045,312.5 L1033,316.5 L1021,320.5 L1019,326.6 L1013,336.7 L1007,349 L1003,361 L1001,377 L999,393 L1000,409 L1005,425.5 L1015,427.5 L1025,417.5 L1031,405 L1031,393 L1026,377 L1027,361 L1033,344.8 L1041,336.7 L1053,328.6 L1059.5,320.5 L1065.5,322.6 L1081.7,328.6 L1091.8,334.7 L1094.8,344.8 L1091.8,356.9 L1081.7,369 L1083.7,377 L1093.8,369 L1101.9,365 L1107.9,371 L1112,391.2 L1107.9,403.3 L1099.8,411.4 L1091.8,425.5 L1101.9,431.6 L1114,433.6 L1120,434 L1140,426 L1152,422 L1168,414 L1180,406 L1188,398 L1183,392 L1183,386 L1204,384 L1226,386 L1240,378 L1240,364 L1250,354 L1270,341 L1302,340 L1342,340 L1344,334 L1351,331 L1360,328 L1368,314 L1368,306 L1378,290 L1390,276 L1394,280 L1410,278 L1420,284 L1421,316 L1428,326 L1429,336 L1436,340 L1437,346 L1428,352 L1410,356 L1398,354 L1392,364 L1376,372 L1368,380 L1360,390 L1356,394 L1357,400 L1362,403 L1359,405 L1356,408 L1353,411 L1356,415 L1362,425 L1368,424 L1370,418 L1375,422 L1376,430 L1371,438 L1356,437.5 L1353,428.4 L1347,431.5 L1336.6,435.3 L1310.8,439 L1297,444 L1292,447 L1285,455.7 L1290.4,464.8 L1289.6,476.9 L1280.6,489 L1271.5,499.6 L1265.4,495 L1257.8,486 L1256.3,479 L1258,486 L1270,500 L1268,510 L1266,522 L1260,534 L1252,546 L1248,552 L1252,564 L1258,584 L1260,592 L1250,602 L1242,606 L1230,613 L1214,620 L1208,630 L1196,634 L1188,638 L1180,648 L1168,660 L1152,670 L1140,678 L1142,688 L1134,704 L1132,716 L1134,730 L1136,738 L1146,768 L1154,794 L1162,816 L1162,834 L1160,850 L1154,862 L1140,864 L1134,850 L1124,842 L1120,826 L1112,814 L1106,794 L1106,774 L1104,762 L1094,750 L1080,734 L1072,734 L1068,740 L1050,744 L1046,732 L1040,729 L1020,725 L1000,728 L988,728 L980,724 L968,727 L962,733 L968,741 L975,751 L972,763 L963,753 L952,756 L936,760 L924,752 L912,741 L904,748 L886,742 L870,743 L856,750 L842,758 L828,766 L812,774 L800,784 L794,794 L793,808 L796,826 L801,841 L792,844 L776,838 L760,832 L754,814 L750,800 L736,782 L728,764 L720,752 L708,742 L688,742 L682,752 L674,763 L660,758 L646,748 L640,730 L626,714 L620,706 L604,688 L568,689 L568,701 L506,701 L430,668 L380,669 L376,656 L366,644 L354,636 L340,628 L328,620 L309,617 L306,602 L300,590 L286,576 L282,568 L280,556 L270,546 L268,534 L260,524 L253,514 L242,498 L237,478 L227,458 L233,438 L229,419 L226,398 L228,392 L232,368 L235,340 L236,316 L237,308 L239,300 L236,296 L238,290 L233,286 L226,268 L221,252 L240,256 L256,258 L262,263 L267,280 L272,270 L270,255 L266,245 L261,240Z" stroke-width="3.9"/>
<path d="M1290,452 L1294,450.5 L1311,446 L1326,441 L1333,439 L1335,444.3 L1326,448 L1305,457 L1292,458Z" stroke-width="3"/>
<path d="M257,244 L261,248 L265,246" stroke-width="8"/>
<path d="M265,252 L269,258 L271,266 L268,273" stroke-width="7"/>
<path d="M266,275 L262,281 L258,285" stroke-width="8"/>
<path d="M271,262 L273,271 L270,279 L266,286" stroke-width="6"/>
<path d="M262,243 L268,247 L270,254" stroke-width="5"/>
<path d="M257,274 L262,279" stroke-width="6"/>
<path d="M259,256 L264,260" stroke-width="5"/>
<path d="M993,353 L1000,343 L1008,331 L1016,322" stroke-width="5"/>
<path d="M1044,338 L1046,346" stroke-width="6"/>
<path d="M1239,489 L1236,500 L1240,512 L1239,524 L1243,536 L1245,549" stroke-width="5.5"/>
<path d="M1247,486 L1244,498 L1246,512 L1248,530 L1250,546" stroke-width="4.5"/>
<path d="M1239,524 L1229,519" stroke-width="4.5"/>
<path d="M1241,537 L1231,532" stroke-width="4.5"/>
<path d="M1244,548 L1235,545" stroke-width="4.5"/>
<path d="M1237,506 L1230,503" stroke-width="4"/>
<path d="M1247,520 L1252,514" stroke-width="4"/>
<path d="M1249,534 L1255,528" stroke-width="4"/>
<path d="M1252,570 L1241,575 L1248,581 L1236,586 L1245,592 L1232,597 L1241,603" stroke-width="4.5"/>
<path d="M1256,578 L1250,584 L1256,590" stroke-width="4"/>
<path d="M271,525 L275,529 L274,534 L279,537" stroke-width="6"/>
<path d="M268,522 L272,524" stroke-width="4"/>
<path d="M848,744 L852,750" stroke-width="3.5"/>
<path d="M947,731 L953,728 L959,731 L955,736 L949,734" stroke-width="4.5"/>
<path d="M959,738 L965,745" stroke-width="4"/>
<path d="M1105,790 L1111,791 L1109,797" stroke-width="6"/>
<path d="M996,714 L997,726" stroke-width="3"/>
<path d="M1286,455 L1292,452" stroke-width="3"/>
<path d="M1357,437 L1365,440 L1373,441" stroke-width="3"/>
</g>
<text class="lt" x="1481.2" y="336.7">Earliest date</text>
<text class="lt" x="1481.2" y="364.5">of 1st gen. egg</text>
<text class="lt" x="1481.2" y="392.8">hatch</text>
<g class="lg">
<rect x="1481" y="407.00" width="25" height="25.79" fill="#4d4d4d"/>
<text x="1517.2" y="426.70">excl.-sev.</text>
<rect x="1481" y="432.49" width="25" height="25.79" fill="#b3b3b3"/>
<text x="1517.2" y="452.19">excl.-mod.</text>
<rect x="1481" y="457.97" width="25" height="25.79" fill="#b3ffc4"/>
<text x="1517.2" y="477.67">Mar-08</text>
<rect x="1481" y="483.46" width="25" height="25.79" fill="#8fd498"/>
<text x="1517.2" y="503.16">Mar-15</text>
<rect x="1481" y="508.94" width="25" height="25.79" fill="#66a86c"/>
<text x="1517.2" y="528.64">Mar-22</text>
<rect x="1481" y="534.43" width="25" height="25.79" fill="#3c7a3e"/>
<text x="1517.2" y="554.13">Mar-29</text>
<rect x="1481" y="559.92" width="25" height="25.79" fill="#ccff00"/>
<text x="1517.2" y="579.62">Apr-05</text>
<rect x="1481" y="585.40" width="25" height="25.79" fill="#a6ec02"/>
<text x="1517.2" y="605.10">Apr-12</text>
<rect x="1481" y="610.89" width="25" height="25.79" fill="#7fdc08"/>
<text x="1517.2" y="630.59">Apr-19</text>
<rect x="1481" y="636.37" width="25" height="25.79" fill="#55d00f"/>
<text x="1517.2" y="656.07">Apr-26</text>
<rect x="1481" y="661.86" width="25" height="25.79" fill="#ffff00"/>
<text x="1517.2" y="681.56">May-03</text>
<rect x="1481" y="687.35" width="25" height="25.79" fill="#e1d900"/>
<text x="1517.2" y="707.05">May-10</text>
<rect x="1481" y="712.83" width="25" height="25.79" fill="#c0b104"/>
<text x="1517.2" y="732.53">May-17</text>
<rect x="1481" y="738.32" width="25" height="25.79" fill="#9e880b"/>
<text x="1517.2" y="758.02">May-24</text>
<rect x="1481" y="763.80" width="25" height="25.79" fill="#7b5f0c"/>
<text x="1517.2" y="783.50">May-31</text>
<rect x="1641" y="407.00" width="25" height="25.79" fill="#fdd68d"/>
<text x="1677.2" y="426.70">Jun-07</text>
<rect x="1641" y="432.49" width="25" height="25.79" fill="#fdc171"/>
<text x="1677.2" y="452.19">Jun-14</text>
<rect x="1641" y="457.97" width="25" height="25.79" fill="#fcac55"/>
<text x="1677.2" y="477.67">Jun-21</text>
<rect x="1641" y="483.46" width="25" height="25.79" fill="#fc9632"/>
<text x="1677.2" y="503.16">Jun-28</text>
<rect x="1641" y="508.94" width="25" height="25.79" fill="#f4cbcb"/>
<text x="1677.2" y="528.64">Jul-05</text>
<rect x="1641" y="534.43" width="25" height="25.79" fill="#f59b9b"/>
<text x="1677.2" y="554.13">Jul-12</text>
<rect x="1641" y="559.92" width="25" height="25.79" fill="#f66666"/>
<text x="1677.2" y="579.62">Jul-19</text>
<rect x="1641" y="585.40" width="25" height="25.79" fill="#f93333"/>
<text x="1677.2" y="605.10">Jul-26</text>
<rect x="1641" y="610.89" width="25" height="25.79" fill="#e8b5ad"/>
<text x="1677.2" y="630.59">Aug-02</text>
<rect x="1641" y="636.37" width="25" height="25.79" fill="#cf9185"/>
<text x="1677.2" y="656.07">Aug-09</text>
<rect x="1641" y="661.86" width="25" height="25.79" fill="#b66a5c"/>
<text x="1677.2" y="681.56">Aug-16</text>
<rect x="1641" y="687.35" width="25" height="25.79" fill="#9c4334"/>
<text x="1677.2" y="707.05">Aug-23</text>
<rect x="1641" y="712.83" width="25" height="25.79" fill="#82200f"/>
<text x="1677.2" y="732.53">Aug-30</text>
<rect x="1641" y="738.32" width="25" height="25.79" fill="#ffb3de"/>
<text x="1677.2" y="758.02">Sep-06</text>
<rect x="1641" y="763.80" width="25" height="25.79" fill="#ff84e1"/>
<text x="1677.2" y="783.50">Sep-13</text>
<rect x="1765.2" y="407.00" width="25" height="25.79" fill="#ff58e6"/>
<text x="1801.4" y="426.70">Sep-20</text>
<rect x="1765.2" y="432.49" width="25" height="25.79" fill="#ff2bee"/>
<text x="1801.4" y="452.19">Sep-27</text>
<rect x="1765.2" y="457.97" width="25" height="25.79" fill="#e3c3e9"/>
<text x="1801.4" y="477.67">Oct-04</text>
<rect x="1765.2" y="483.46" width="25" height="25.79" fill="#cf9ada"/>
<text x="1801.4" y="503.16">Oct-11</text>
<rect x="1765.2" y="508.94" width="25" height="25.79" fill="#b971ca"/>
<text x="1801.4" y="528.64">Oct-18</text>
<rect x="1765.2" y="534.43" width="25" height="25.79" fill="#a24ab9"/>
<text x="1801.4" y="554.13">Oct-25</text>
<rect x="1765.2" y="559.92" width="25" height="25.79" fill="#b9ecff"/>
<text x="1801.4" y="579.62">Nov-01</text>
<rect x="1765.2" y="585.40" width="25" height="25.79" fill="#8dd6f0"/>
<text x="1801.4" y="605.10">Nov-08</text>
<rect x="1765.2" y="610.89" width="25" height="25.79" fill="#5fbfe5"/>
<text x="1801.4" y="630.59">Nov-15</text>
<rect x="1765.2" y="636.37" width="25" height="25.79" fill="#2da8da"/>
<text x="1801.4" y="656.07">Nov-22</text>
<rect x="1765.2" y="661.86" width="25" height="25.79" fill="#a6c5e9"/>
<text x="1801.4" y="681.56">Dec-04</text>
<rect x="1765.2" y="687.35" width="25" height="25.79" fill="#7b95ec"/>
<text x="1801.4" y="707.05">Dec-11</text>
<rect x="1765.2" y="712.83" width="25" height="25.79" fill="#5562ef"/>
<text x="1801.4" y="732.53">Dec-13</text>
<rect x="1765.2" y="738.32" width="25" height="25.79" fill="#2c2ff5"/>
<text x="1801.4" y="758.02">Dec-23</text>
</g>
</svg>
</body></html>
